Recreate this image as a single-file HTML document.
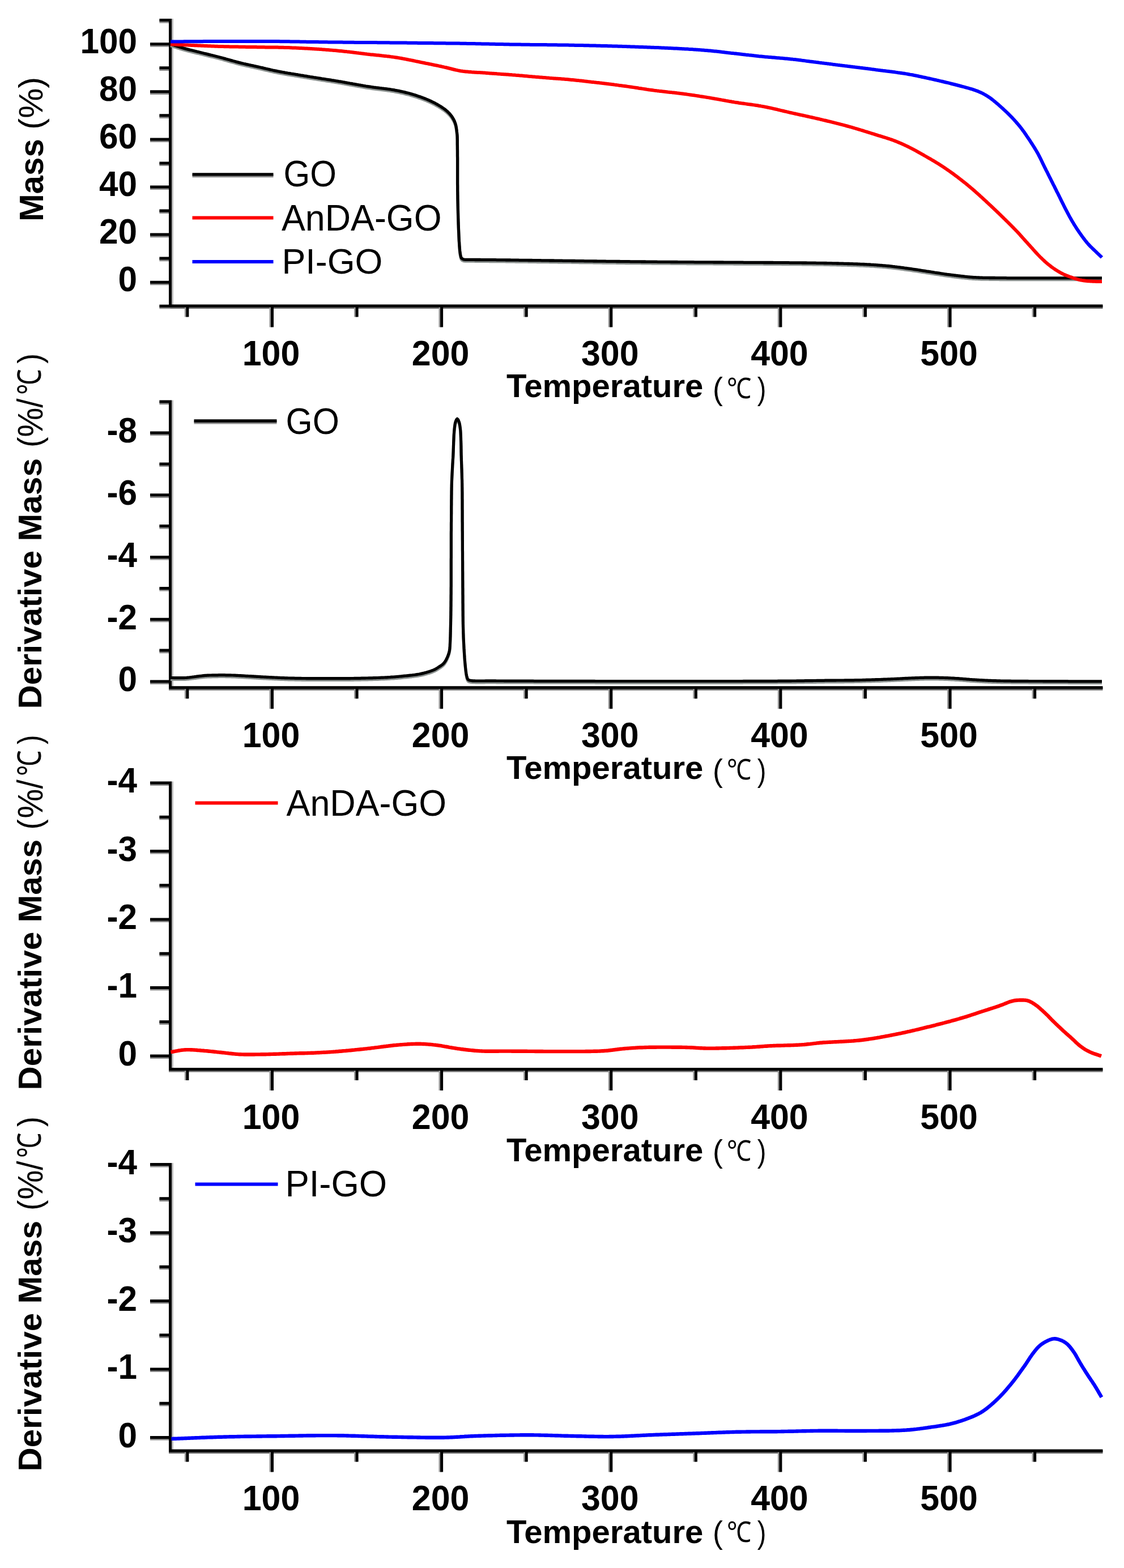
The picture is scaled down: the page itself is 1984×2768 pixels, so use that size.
<!DOCTYPE html>
<html><head><meta charset="utf-8"><title>TGA / DTG curves of GO, AnDA-GO and PI-GO</title>
<style>
html,body{margin:0;padding:0;background:#fff;overflow:hidden;}
svg{display:block;}
text{font-family:"Liberation Sans",Arial,sans-serif;}
</style></head><body>
<svg width="1984" height="2768" viewBox="0 0 1984 2768">
<rect width="1984" height="2768" fill="#ffffff"/>
<path d="M300.5,32.9 V542.4" transform="translate(2.8,0)" stroke="#b4b4b4" stroke-width="5.0" fill="none"/>
<path d="M298.0,539.9 H1946.5" transform="translate(0,2.6)" stroke="#6a6a6a" stroke-width="5.0" fill="none"/>
<path d="M265.0,498.2 H300.5 M265.0,414.1 H300.5 M265.0,330.0 H300.5 M265.0,245.9 H300.5 M265.0,161.8 H300.5 M265.0,77.7 H300.5 M281.4,540.2 H300.5 M281.4,456.1 H300.5 M281.4,372.0 H300.5 M281.4,287.9 H300.5 M281.4,203.8 H300.5 M281.4,119.8 H300.5 M281.4,35.6 H300.5" transform="translate(0,2.6)" stroke="#8a8a8a" stroke-width="5.0" fill="none"/>
<path d="M480.5,539.9 V577.4 M779.6,539.9 V577.4 M1078.8,539.9 V577.4 M1377.9,539.9 V577.4 M1677.1,539.9 V577.4 M330.9,539.9 V559.4 M630.1,539.9 V559.4 M929.2,539.9 V559.4 M1228.4,539.9 V559.4 M1527.5,539.9 V559.4 M1826.7,539.9 V559.4" transform="translate(-2.6,0)" stroke="#9a9a9a" stroke-width="5.0" fill="none"/>
<path d="M300.5,32.9 V542.4 M298.0,539.9 H1946.5 M265.0,498.2 H300.5 M265.0,414.1 H300.5 M265.0,330.0 H300.5 M265.0,245.9 H300.5 M265.0,161.8 H300.5 M265.0,77.7 H300.5 M281.4,540.2 H300.5 M281.4,456.1 H300.5 M281.4,372.0 H300.5 M281.4,287.9 H300.5 M281.4,203.8 H300.5 M281.4,119.8 H300.5 M281.4,35.6 H300.5 M480.5,539.9 V577.4 M779.6,539.9 V577.4 M1078.8,539.9 V577.4 M1377.9,539.9 V577.4 M1677.1,539.9 V577.4 M330.9,539.9 V559.4 M630.1,539.9 V559.4 M929.2,539.9 V559.4 M1228.4,539.9 V559.4 M1527.5,539.9 V559.4 M1826.7,539.9 V559.4" stroke="#000" stroke-width="5.0" fill="none" stroke-linecap="butt"/>
<text font-family="Liberation Sans, Arial, sans-serif" font-weight="bold" font-size="60" fill="#000" text-anchor="end" transform="translate(242.01,514.20) scale(1.0043,1.0500)">0</text>
<text font-family="Liberation Sans, Arial, sans-serif" font-weight="bold" font-size="60" fill="#000" text-anchor="end" transform="translate(242.01,430.10) scale(1.0043,1.0500)">20</text>
<text font-family="Liberation Sans, Arial, sans-serif" font-weight="bold" font-size="60" fill="#000" text-anchor="end" transform="translate(242.01,346.00) scale(1.0043,1.0500)">40</text>
<text font-family="Liberation Sans, Arial, sans-serif" font-weight="bold" font-size="60" fill="#000" text-anchor="end" transform="translate(242.01,261.90) scale(1.0043,1.0500)">60</text>
<text font-family="Liberation Sans, Arial, sans-serif" font-weight="bold" font-size="60" fill="#000" text-anchor="end" transform="translate(242.01,177.80) scale(1.0043,1.0500)">80</text>
<text font-family="Liberation Sans, Arial, sans-serif" font-weight="bold" font-size="60" fill="#000" text-anchor="end" transform="translate(242.01,93.70) scale(1.0043,1.0500)">100</text>
<text font-family="Liberation Sans, Arial, sans-serif" font-weight="bold" font-size="60" fill="#000" text-anchor="middle" transform="translate(478.49,645.02) scale(1.0149,1.0400)">100</text>
<text font-family="Liberation Sans, Arial, sans-serif" font-weight="bold" font-size="60" fill="#000" text-anchor="middle" transform="translate(777.64,645.02) scale(1.0149,1.0400)">200</text>
<text font-family="Liberation Sans, Arial, sans-serif" font-weight="bold" font-size="60" fill="#000" text-anchor="middle" transform="translate(1076.79,645.02) scale(1.0149,1.0400)">300</text>
<text font-family="Liberation Sans, Arial, sans-serif" font-weight="bold" font-size="60" fill="#000" text-anchor="middle" transform="translate(1375.94,645.02) scale(1.0149,1.0400)">400</text>
<text font-family="Liberation Sans, Arial, sans-serif" font-weight="bold" font-size="60" fill="#000" text-anchor="middle" transform="translate(1675.09,645.02) scale(1.0149,1.0400)">500</text>
<text font-family="Liberation Sans, Arial, sans-serif" font-weight="bold" font-size="58" fill="#000" transform="translate(894.00,701.08) scale(1.0012,0.9928)">Temperature</text>
<text font-family="Liberation Sans, Arial, sans-serif" font-weight="normal" font-size="55" fill="#000" transform="translate(1258.05,704.98) scale(0.9754,1.0005)">(</text>
<text font-family="Noto Sans CJK SC, sans-serif" font-weight="normal" font-size="48" fill="#000" transform="translate(1283.26,702.96) scale(0.9026,1.0497)">&#8451;</text>
<text font-family="Liberation Sans, Arial, sans-serif" font-weight="normal" font-size="55" fill="#000" transform="translate(1336.85,704.98) scale(0.8509,1.0005)">)</text>
<path d="M300.5,706.4 V1216.2" transform="translate(2.8,0)" stroke="#b4b4b4" stroke-width="5.0" fill="none"/>
<path d="M298.0,1213.7 H1946.5" transform="translate(0,2.6)" stroke="#6a6a6a" stroke-width="5.0" fill="none"/>
<path d="M265.0,764.0 H300.5 M265.0,873.8 H300.5 M265.0,983.5 H300.5 M265.0,1093.2 H300.5 M265.0,1203.0 H300.5 M281.4,709.1 H300.5 M281.4,818.9 H300.5 M281.4,928.6 H300.5 M281.4,1038.4 H300.5 M281.4,1148.1 H300.5" transform="translate(0,2.6)" stroke="#8a8a8a" stroke-width="5.0" fill="none"/>
<path d="M480.5,1213.7 V1251.2 M779.6,1213.7 V1251.2 M1078.8,1213.7 V1251.2 M1377.9,1213.7 V1251.2 M1677.1,1213.7 V1251.2 M330.9,1213.7 V1233.2 M630.1,1213.7 V1233.2 M929.2,1213.7 V1233.2 M1228.4,1213.7 V1233.2 M1527.5,1213.7 V1233.2 M1826.7,1213.7 V1233.2" transform="translate(-2.6,0)" stroke="#9a9a9a" stroke-width="5.0" fill="none"/>
<path d="M300.5,706.4 V1216.2 M298.0,1213.7 H1946.5 M265.0,764.0 H300.5 M265.0,873.8 H300.5 M265.0,983.5 H300.5 M265.0,1093.2 H300.5 M265.0,1203.0 H300.5 M281.4,709.1 H300.5 M281.4,818.9 H300.5 M281.4,928.6 H300.5 M281.4,1038.4 H300.5 M281.4,1148.1 H300.5 M480.5,1213.7 V1251.2 M779.6,1213.7 V1251.2 M1078.8,1213.7 V1251.2 M1377.9,1213.7 V1251.2 M1677.1,1213.7 V1251.2 M330.9,1213.7 V1233.2 M630.1,1213.7 V1233.2 M929.2,1213.7 V1233.2 M1228.4,1213.7 V1233.2 M1527.5,1213.7 V1233.2 M1826.7,1213.7 V1233.2" stroke="#000" stroke-width="5.0" fill="none" stroke-linecap="butt"/>
<text font-family="Liberation Sans, Arial, sans-serif" font-weight="bold" font-size="60" fill="#000" text-anchor="end" transform="translate(242.01,781.30) scale(1.0043,1.0500)">-8</text>
<text font-family="Liberation Sans, Arial, sans-serif" font-weight="bold" font-size="60" fill="#000" text-anchor="end" transform="translate(242.01,891.05) scale(1.0043,1.0500)">-6</text>
<text font-family="Liberation Sans, Arial, sans-serif" font-weight="bold" font-size="60" fill="#000" text-anchor="end" transform="translate(242.01,1000.80) scale(1.0043,1.0500)">-4</text>
<text font-family="Liberation Sans, Arial, sans-serif" font-weight="bold" font-size="60" fill="#000" text-anchor="end" transform="translate(242.01,1110.55) scale(1.0043,1.0500)">-2</text>
<text font-family="Liberation Sans, Arial, sans-serif" font-weight="bold" font-size="60" fill="#000" text-anchor="end" transform="translate(242.01,1220.30) scale(1.0043,1.0500)">0</text>
<text font-family="Liberation Sans, Arial, sans-serif" font-weight="bold" font-size="60" fill="#000" text-anchor="middle" transform="translate(478.49,1318.82) scale(1.0149,1.0400)">100</text>
<text font-family="Liberation Sans, Arial, sans-serif" font-weight="bold" font-size="60" fill="#000" text-anchor="middle" transform="translate(777.64,1318.82) scale(1.0149,1.0400)">200</text>
<text font-family="Liberation Sans, Arial, sans-serif" font-weight="bold" font-size="60" fill="#000" text-anchor="middle" transform="translate(1076.79,1318.82) scale(1.0149,1.0400)">300</text>
<text font-family="Liberation Sans, Arial, sans-serif" font-weight="bold" font-size="60" fill="#000" text-anchor="middle" transform="translate(1375.94,1318.82) scale(1.0149,1.0400)">400</text>
<text font-family="Liberation Sans, Arial, sans-serif" font-weight="bold" font-size="60" fill="#000" text-anchor="middle" transform="translate(1675.09,1318.82) scale(1.0149,1.0400)">500</text>
<text font-family="Liberation Sans, Arial, sans-serif" font-weight="bold" font-size="58" fill="#000" transform="translate(894.00,1375.07) scale(1.0012,0.9928)">Temperature</text>
<text font-family="Liberation Sans, Arial, sans-serif" font-weight="normal" font-size="55" fill="#000" transform="translate(1258.05,1378.98) scale(0.9754,1.0005)">(</text>
<text font-family="Noto Sans CJK SC, sans-serif" font-weight="normal" font-size="48" fill="#000" transform="translate(1283.26,1376.04) scale(0.9026,1.0497)">&#8451;</text>
<text font-family="Liberation Sans, Arial, sans-serif" font-weight="normal" font-size="55" fill="#000" transform="translate(1336.85,1378.98) scale(0.8509,1.0005)">)</text>
<path d="M300.5,1379.5 V1889.9" transform="translate(2.8,0)" stroke="#b4b4b4" stroke-width="5.0" fill="none"/>
<path d="M298.0,1887.4 H1946.5" transform="translate(0,2.6)" stroke="#6a6a6a" stroke-width="5.0" fill="none"/>
<path d="M265.0,1382.0 H300.5 M265.0,1502.5 H300.5 M265.0,1623.0 H300.5 M265.0,1743.5 H300.5 M265.0,1864.0 H300.5 M281.4,1442.2 H300.5 M281.4,1562.8 H300.5 M281.4,1683.2 H300.5 M281.4,1803.8 H300.5" transform="translate(0,2.6)" stroke="#8a8a8a" stroke-width="5.0" fill="none"/>
<path d="M480.5,1887.4 V1924.9 M779.6,1887.4 V1924.9 M1078.8,1887.4 V1924.9 M1377.9,1887.4 V1924.9 M1677.1,1887.4 V1924.9 M330.9,1887.4 V1906.9 M630.1,1887.4 V1906.9 M929.2,1887.4 V1906.9 M1228.4,1887.4 V1906.9 M1527.5,1887.4 V1906.9 M1826.7,1887.4 V1906.9" transform="translate(-2.6,0)" stroke="#9a9a9a" stroke-width="5.0" fill="none"/>
<path d="M300.5,1379.5 V1889.9 M298.0,1887.4 H1946.5 M265.0,1382.0 H300.5 M265.0,1502.5 H300.5 M265.0,1623.0 H300.5 M265.0,1743.5 H300.5 M265.0,1864.0 H300.5 M281.4,1442.2 H300.5 M281.4,1562.8 H300.5 M281.4,1683.2 H300.5 M281.4,1803.8 H300.5 M480.5,1887.4 V1924.9 M779.6,1887.4 V1924.9 M1078.8,1887.4 V1924.9 M1377.9,1887.4 V1924.9 M1677.1,1887.4 V1924.9 M330.9,1887.4 V1906.9 M630.1,1887.4 V1906.9 M929.2,1887.4 V1906.9 M1228.4,1887.4 V1906.9 M1527.5,1887.4 V1906.9 M1826.7,1887.4 V1906.9" stroke="#000" stroke-width="5.0" fill="none" stroke-linecap="butt"/>
<text font-family="Liberation Sans, Arial, sans-serif" font-weight="bold" font-size="60" fill="#000" text-anchor="end" transform="translate(242.01,1399.30) scale(1.0043,1.0500)">-4</text>
<text font-family="Liberation Sans, Arial, sans-serif" font-weight="bold" font-size="60" fill="#000" text-anchor="end" transform="translate(242.01,1519.80) scale(1.0043,1.0500)">-3</text>
<text font-family="Liberation Sans, Arial, sans-serif" font-weight="bold" font-size="60" fill="#000" text-anchor="end" transform="translate(242.01,1640.30) scale(1.0043,1.0500)">-2</text>
<text font-family="Liberation Sans, Arial, sans-serif" font-weight="bold" font-size="60" fill="#000" text-anchor="end" transform="translate(242.01,1760.80) scale(1.0043,1.0500)">-1</text>
<text font-family="Liberation Sans, Arial, sans-serif" font-weight="bold" font-size="60" fill="#000" text-anchor="end" transform="translate(242.01,1881.30) scale(1.0043,1.0500)">0</text>
<text font-family="Liberation Sans, Arial, sans-serif" font-weight="bold" font-size="60" fill="#000" text-anchor="middle" transform="translate(478.49,1992.52) scale(1.0149,1.0400)">100</text>
<text font-family="Liberation Sans, Arial, sans-serif" font-weight="bold" font-size="60" fill="#000" text-anchor="middle" transform="translate(777.64,1992.52) scale(1.0149,1.0400)">200</text>
<text font-family="Liberation Sans, Arial, sans-serif" font-weight="bold" font-size="60" fill="#000" text-anchor="middle" transform="translate(1076.79,1992.52) scale(1.0149,1.0400)">300</text>
<text font-family="Liberation Sans, Arial, sans-serif" font-weight="bold" font-size="60" fill="#000" text-anchor="middle" transform="translate(1375.94,1992.52) scale(1.0149,1.0400)">400</text>
<text font-family="Liberation Sans, Arial, sans-serif" font-weight="bold" font-size="60" fill="#000" text-anchor="middle" transform="translate(1675.09,1992.52) scale(1.0149,1.0400)">500</text>
<text font-family="Liberation Sans, Arial, sans-serif" font-weight="bold" font-size="58" fill="#000" transform="translate(894.00,2049.56) scale(1.0012,0.9928)">Temperature</text>
<text font-family="Liberation Sans, Arial, sans-serif" font-weight="normal" font-size="55" fill="#000" transform="translate(1258.05,2051.48) scale(0.9754,1.0005)">(</text>
<text font-family="Noto Sans CJK SC, sans-serif" font-weight="normal" font-size="48" fill="#000" transform="translate(1283.26,2049.45) scale(0.9026,1.0497)">&#8451;</text>
<text font-family="Liberation Sans, Arial, sans-serif" font-weight="normal" font-size="55" fill="#000" transform="translate(1336.85,2051.48) scale(0.8509,1.0005)">)</text>
<path d="M300.5,2053.0 V2563.5" transform="translate(2.8,0)" stroke="#b4b4b4" stroke-width="5.0" fill="none"/>
<path d="M298.0,2561.0 H1946.5" transform="translate(0,2.6)" stroke="#6a6a6a" stroke-width="5.0" fill="none"/>
<path d="M265.0,2055.5 H300.5 M265.0,2176.0 H300.5 M265.0,2296.5 H300.5 M265.0,2417.0 H300.5 M265.0,2537.5 H300.5 M281.4,2115.8 H300.5 M281.4,2236.2 H300.5 M281.4,2356.8 H300.5 M281.4,2477.2 H300.5" transform="translate(0,2.6)" stroke="#8a8a8a" stroke-width="5.0" fill="none"/>
<path d="M480.5,2561.0 V2598.5 M779.6,2561.0 V2598.5 M1078.8,2561.0 V2598.5 M1377.9,2561.0 V2598.5 M1677.1,2561.0 V2598.5 M330.9,2561.0 V2580.5 M630.1,2561.0 V2580.5 M929.2,2561.0 V2580.5 M1228.4,2561.0 V2580.5 M1527.5,2561.0 V2580.5 M1826.7,2561.0 V2580.5" transform="translate(-2.6,0)" stroke="#9a9a9a" stroke-width="5.0" fill="none"/>
<path d="M300.5,2053.0 V2563.5 M298.0,2561.0 H1946.5 M265.0,2055.5 H300.5 M265.0,2176.0 H300.5 M265.0,2296.5 H300.5 M265.0,2417.0 H300.5 M265.0,2537.5 H300.5 M281.4,2115.8 H300.5 M281.4,2236.2 H300.5 M281.4,2356.8 H300.5 M281.4,2477.2 H300.5 M480.5,2561.0 V2598.5 M779.6,2561.0 V2598.5 M1078.8,2561.0 V2598.5 M1377.9,2561.0 V2598.5 M1677.1,2561.0 V2598.5 M330.9,2561.0 V2580.5 M630.1,2561.0 V2580.5 M929.2,2561.0 V2580.5 M1228.4,2561.0 V2580.5 M1527.5,2561.0 V2580.5 M1826.7,2561.0 V2580.5" stroke="#000" stroke-width="5.0" fill="none" stroke-linecap="butt"/>
<text font-family="Liberation Sans, Arial, sans-serif" font-weight="bold" font-size="60" fill="#000" text-anchor="end" transform="translate(242.01,2072.80) scale(1.0043,1.0500)">-4</text>
<text font-family="Liberation Sans, Arial, sans-serif" font-weight="bold" font-size="60" fill="#000" text-anchor="end" transform="translate(242.01,2193.30) scale(1.0043,1.0500)">-3</text>
<text font-family="Liberation Sans, Arial, sans-serif" font-weight="bold" font-size="60" fill="#000" text-anchor="end" transform="translate(242.01,2313.80) scale(1.0043,1.0500)">-2</text>
<text font-family="Liberation Sans, Arial, sans-serif" font-weight="bold" font-size="60" fill="#000" text-anchor="end" transform="translate(242.01,2434.30) scale(1.0043,1.0500)">-1</text>
<text font-family="Liberation Sans, Arial, sans-serif" font-weight="bold" font-size="60" fill="#000" text-anchor="end" transform="translate(242.01,2554.80) scale(1.0043,1.0500)">0</text>
<text font-family="Liberation Sans, Arial, sans-serif" font-weight="bold" font-size="60" fill="#000" text-anchor="middle" transform="translate(478.49,2666.12) scale(1.0149,1.0400)">100</text>
<text font-family="Liberation Sans, Arial, sans-serif" font-weight="bold" font-size="60" fill="#000" text-anchor="middle" transform="translate(777.64,2666.12) scale(1.0149,1.0400)">200</text>
<text font-family="Liberation Sans, Arial, sans-serif" font-weight="bold" font-size="60" fill="#000" text-anchor="middle" transform="translate(1076.79,2666.12) scale(1.0149,1.0400)">300</text>
<text font-family="Liberation Sans, Arial, sans-serif" font-weight="bold" font-size="60" fill="#000" text-anchor="middle" transform="translate(1375.94,2666.12) scale(1.0149,1.0400)">400</text>
<text font-family="Liberation Sans, Arial, sans-serif" font-weight="bold" font-size="60" fill="#000" text-anchor="middle" transform="translate(1675.09,2666.12) scale(1.0149,1.0400)">500</text>
<text font-family="Liberation Sans, Arial, sans-serif" font-weight="bold" font-size="58" fill="#000" transform="translate(894.00,2723.57) scale(1.0012,0.9928)">Temperature</text>
<text font-family="Liberation Sans, Arial, sans-serif" font-weight="normal" font-size="55" fill="#000" transform="translate(1258.05,2724.49) scale(0.9754,1.0005)">(</text>
<text font-family="Noto Sans CJK SC, sans-serif" font-weight="normal" font-size="48" fill="#000" transform="translate(1283.26,2722.42) scale(0.9026,1.0497)">&#8451;</text>
<text font-family="Liberation Sans, Arial, sans-serif" font-weight="normal" font-size="55" fill="#000" transform="translate(1336.85,2724.49) scale(0.8509,1.0005)">)</text>
<text font-family="Liberation Sans, Arial, sans-serif" font-weight="bold" font-size="58" fill="#000" transform="translate(76.00,391.03) rotate(-90) scale(1.0058,1.0253)">Mass</text>
<text font-family="Liberation Sans, Arial, sans-serif" font-weight="normal" font-size="58" fill="#000" transform="translate(75.27,228.66) rotate(-90) scale(1.0295,1.0185)">(%)</text>
<text font-family="Liberation Sans, Arial, sans-serif" font-weight="bold" font-size="58" fill="#000" transform="translate(73.01,1251.54) rotate(-90) scale(1.0093,0.9861)">Derivative Mass</text>
<text font-family="Liberation Sans, Arial, sans-serif" font-weight="normal" font-size="58" fill="#000" transform="translate(72.82,789.88) rotate(-90) scale(0.9603,1.0149)">(</text>
<text font-family="Liberation Sans, Arial, sans-serif" font-weight="normal" font-size="58" fill="#000" transform="translate(74.96,771.52) rotate(-90) scale(1.0063,1.0811)">%/</text>
<text font-family="Noto Sans CJK SC, sans-serif" font-weight="normal" font-size="48" fill="#000" transform="translate(72.27,697.37) rotate(-90) scale(0.9490,1.2059)">&#8451;</text>
<text font-family="Liberation Sans, Arial, sans-serif" font-weight="normal" font-size="58" fill="#000" transform="translate(72.82,641.84) rotate(-90) scale(0.9212,1.0149)">)</text>
<text font-family="Liberation Sans, Arial, sans-serif" font-weight="bold" font-size="58" fill="#000" transform="translate(73.01,1924.55) rotate(-90) scale(1.0093,0.9861)">Derivative Mass</text>
<text font-family="Liberation Sans, Arial, sans-serif" font-weight="normal" font-size="58" fill="#000" transform="translate(72.82,1464.81) rotate(-90) scale(0.9603,1.0149)">(</text>
<text font-family="Liberation Sans, Arial, sans-serif" font-weight="normal" font-size="58" fill="#000" transform="translate(74.96,1444.51) rotate(-90) scale(1.0063,1.0811)">%/</text>
<text font-family="Noto Sans CJK SC, sans-serif" font-weight="normal" font-size="48" fill="#000" transform="translate(72.27,1370.40) rotate(-90) scale(0.9507,1.2059)">&#8451;</text>
<text font-family="Liberation Sans, Arial, sans-serif" font-weight="normal" font-size="58" fill="#000" transform="translate(72.82,1313.96) rotate(-90) scale(0.8554,1.0149)">)</text>
<text font-family="Liberation Sans, Arial, sans-serif" font-weight="bold" font-size="58" fill="#000" transform="translate(73.01,2597.54) rotate(-90) scale(1.0093,0.9861)">Derivative Mass</text>
<text font-family="Liberation Sans, Arial, sans-serif" font-weight="normal" font-size="58" fill="#000" transform="translate(72.82,2136.88) rotate(-90) scale(0.9603,1.0149)">(</text>
<text font-family="Liberation Sans, Arial, sans-serif" font-weight="normal" font-size="58" fill="#000" transform="translate(74.96,2117.53) rotate(-90) scale(1.0065,1.0811)">%/</text>
<text font-family="Noto Sans CJK SC, sans-serif" font-weight="normal" font-size="48" fill="#000" transform="translate(72.27,2044.24) rotate(-90) scale(0.9259,1.2059)">&#8451;</text>
<text font-family="Liberation Sans, Arial, sans-serif" font-weight="normal" font-size="58" fill="#000" transform="translate(72.82,1988.93) rotate(-90) scale(0.9267,1.0149)">)</text>
<path d="M339.5,310.6 H482.5" stroke="#8a8a8a" stroke-width="5.3" fill="none"/>
<path d="M339.5,307.8 H482.5" stroke="#000" stroke-width="5.3" fill="none"/>
<path d="M339.5,384.5 H482.5" stroke="#f00" stroke-width="6.0" fill="none"/>
<path d="M339.5,461.9 H482.5" stroke="#00f" stroke-width="6.0" fill="none"/>
<path d="M342.5,745.8 H488.5" stroke="#8a8a8a" stroke-width="5.3" fill="none"/>
<path d="M342.5,743.0 H488.5" stroke="#000" stroke-width="5.3" fill="none"/>
<path d="M344.5,1417.6 H490.5" stroke="#f00" stroke-width="6.0" fill="none"/>
<path d="M344.5,2090.5 H490.5" stroke="#00f" stroke-width="6.0" fill="none"/>
<text font-family="Liberation Sans, Arial, sans-serif" font-weight="normal" font-size="62" fill="#000" transform="translate(500.58,329.01) scale(0.9689,1.0436)">GO</text>
<text font-family="Liberation Sans, Arial, sans-serif" font-weight="normal" font-size="62" fill="#000" transform="translate(496.99,407.00) scale(1.0124,1.0481)">AnDA-GO</text>
<text font-family="Liberation Sans, Arial, sans-serif" font-weight="normal" font-size="62" fill="#000" transform="translate(497.44,483.49) scale(1.0132,1.0249)">PI-GO</text>
<text font-family="Liberation Sans, Arial, sans-serif" font-weight="normal" font-size="62" fill="#000" transform="translate(504.56,765.51) scale(0.9778,1.0481)">GO</text>
<text font-family="Liberation Sans, Arial, sans-serif" font-weight="normal" font-size="62" fill="#000" transform="translate(505.51,1440.00) scale(1.0131,1.0481)">AnDA-GO</text>
<text font-family="Liberation Sans, Arial, sans-serif" font-weight="normal" font-size="62" fill="#000" transform="translate(503.39,2111.51) scale(1.0240,1.0436)">PI-GO</text>
<path d="M301.0,77.8 L303.0,78.4 L305.0,79.1 L306.9,79.7 L308.9,80.4 L310.8,81.0 L312.8,81.7 L314.8,82.3 L316.8,83.0 L318.9,83.6 L321.0,84.3 L323.2,84.9 L325.0,85.4 L326.8,85.9 L328.6,86.4 L330.5,86.9 L332.5,87.4 L334.4,87.9 L336.4,88.3 L338.4,88.8 L340.4,89.3 L342.4,89.8 L344.4,90.3 L346.4,90.8 L348.4,91.3 L350.5,91.7 L352.5,92.2 L354.4,92.7 L356.4,93.2 L358.4,93.7 L360.3,94.2 L362.3,94.7 L364.2,95.1 L366.2,95.6 L368.1,96.1 L370.1,96.6 L372.0,97.1 L374.0,97.5 L375.9,98.0 L377.9,98.5 L379.8,99.0 L381.8,99.5 L383.7,100.0 L385.7,100.5 L387.6,101.0 L389.6,101.5 L391.6,102.0 L393.5,102.5 L395.5,103.1 L397.4,103.6 L399.4,104.2 L401.3,104.7 L403.3,105.3 L405.2,105.8 L407.2,106.4 L409.1,106.9 L411.1,107.5 L413.0,108.0 L415.0,108.5 L416.9,109.1 L418.9,109.6 L420.8,110.1 L422.8,110.6 L424.7,111.1 L426.7,111.6 L428.6,112.0 L430.6,112.5 L432.5,112.9 L434.5,113.4 L436.5,113.8 L438.4,114.2 L440.4,114.7 L442.3,115.1 L444.3,115.5 L446.2,115.9 L448.2,116.4 L450.1,116.8 L452.1,117.2 L454.0,117.7 L456.0,118.1 L458.0,118.5 L459.9,119.0 L461.9,119.4 L463.8,119.9 L465.8,120.4 L467.7,120.8 L469.7,121.3 L471.7,121.7 L473.6,122.2 L475.6,122.6 L477.5,123.1 L479.5,123.5 L481.5,124.0 L483.4,124.4 L485.4,124.8 L487.3,125.2 L489.3,125.6 L491.4,126.0 L493.4,126.4 L495.5,126.8 L497.5,127.2 L499.6,127.5 L501.7,127.9 L503.7,128.3 L505.8,128.6 L507.8,129.0 L509.9,129.3 L512.0,129.6 L514.1,130.0 L516.1,130.3 L518.3,130.7 L520.4,131.0 L522.5,131.4 L524.5,131.7 L526.6,132.1 L528.6,132.4 L530.7,132.8 L532.7,133.1 L534.8,133.4 L536.9,133.8 L538.9,134.1 L541.0,134.4 L543.1,134.8 L545.2,135.1 L547.3,135.5 L549.4,135.8 L551.5,136.1 L553.7,136.5 L555.8,136.8 L557.9,137.2 L560.0,137.5 L562.0,137.8 L563.9,138.1 L565.9,138.4 L567.8,138.8 L569.8,139.1 L571.7,139.4 L573.7,139.7 L575.6,140.0 L577.6,140.3 L579.6,140.6 L581.5,140.9 L583.5,141.2 L585.5,141.6 L587.5,141.9 L589.5,142.2 L591.5,142.5 L593.6,142.9 L595.6,143.2 L597.7,143.6 L599.8,143.9 L601.7,144.2 L603.6,144.5 L605.5,144.9 L607.5,145.2 L609.4,145.6 L611.4,145.9 L613.3,146.3 L615.3,146.6 L617.3,147.0 L619.3,147.3 L621.3,147.7 L623.3,148.1 L625.4,148.4 L627.4,148.8 L629.4,149.2 L631.4,149.5 L633.5,149.9 L635.5,150.2 L637.5,150.6 L639.5,150.9 L641.6,151.3 L643.6,151.6 L645.6,152.0 L647.6,152.3 L649.6,152.6 L651.6,152.9 L653.6,153.2 L655.6,153.5 L657.7,153.8 L659.7,154.1 L661.8,154.3 L663.9,154.6 L665.9,154.8 L668.0,155.1 L670.1,155.4 L672.1,155.6 L674.2,155.9 L676.2,156.1 L678.3,156.4 L680.3,156.6 L682.3,156.9 L684.3,157.2 L686.3,157.4 L688.3,157.7 L690.2,158.0 L692.1,158.3 L694.0,158.6 L695.9,158.9 L697.7,159.3 L699.5,159.6 L701.6,160.0 L703.7,160.4 L705.8,160.9 L707.8,161.3 L709.8,161.7 L711.8,162.2 L713.7,162.6 L715.6,163.1 L717.5,163.6 L719.4,164.0 L721.3,164.5 L723.2,165.0 L725.1,165.6 L727.0,166.1 L728.9,166.7 L730.8,167.3 L732.7,167.9 L734.7,168.5 L736.7,169.2 L738.7,169.9 L740.7,170.6 L742.7,171.3 L744.7,172.0 L746.7,172.8 L748.7,173.5 L750.7,174.3 L752.7,175.1 L754.7,175.9 L756.6,176.8 L758.5,177.6 L760.4,178.5 L762.3,179.4 L764.1,180.3 L765.9,181.2 L767.9,182.2 L769.8,183.3 L771.8,184.4 L773.7,185.5 L775.7,186.7 L777.6,187.8 L779.4,189.0 L781.2,190.2 L783.0,191.4 L784.7,192.6 L786.3,193.9 L787.9,195.2 L789.4,196.5 L790.8,197.8 L792.3,199.3 L793.8,200.9 L795.1,202.5 L796.4,204.1 L797.6,205.7 L798.7,207.4 L799.7,209.1 L800.7,210.8 L801.6,212.6 L802.4,214.4 L803.1,216.3 L803.8,218.1 L804.3,220.1 L804.8,222.0 L805.2,224.0 L805.5,226.0 L805.8,228.1 L806.1,230.2 L806.3,232.3 L806.6,234.4 L806.8,236.4 L807.0,238.3 L807.1,240.2 L807.2,242.2 L807.2,244.1 L807.3,246.1 L807.3,248.1 L807.3,250.3 L807.3,252.5 L807.3,254.9 L807.4,257.4 L807.4,260.0 L807.4,261.5 L807.4,263.0 L807.5,264.6 L807.5,266.3 L807.5,268.0 L807.5,269.8 L807.5,271.6 L807.5,273.5 L807.5,275.4 L807.6,277.3 L807.6,279.3 L807.6,281.3 L807.6,283.4 L807.6,285.4 L807.6,287.5 L807.6,289.7 L807.6,291.8 L807.6,294.0 L807.6,296.2 L807.6,298.3 L807.6,300.6 L807.6,302.8 L807.6,305.0 L807.6,307.2 L807.6,309.4 L807.6,311.7 L807.6,313.9 L807.6,316.1 L807.6,318.3 L807.6,320.5 L807.6,322.6 L807.6,324.8 L807.7,326.9 L807.7,329.0 L807.7,331.1 L807.7,333.1 L807.7,335.2 L807.7,337.1 L807.8,339.1 L807.8,341.0 L807.8,343.2 L807.9,345.4 L807.9,347.6 L807.9,349.8 L808.0,352.0 L808.0,354.2 L808.1,356.4 L808.1,358.5 L808.2,360.7 L808.2,362.9 L808.3,365.0 L808.3,367.2 L808.4,369.3 L808.4,371.4 L808.5,373.5 L808.5,375.6 L808.6,377.7 L808.6,379.7 L808.7,381.8 L808.7,383.8 L808.8,385.8 L808.9,387.8 L808.9,389.7 L809.0,391.7 L809.1,393.6 L809.1,395.5 L809.2,397.4 L809.3,399.2 L809.3,401.0 L809.4,402.8 L809.5,405.2 L809.6,407.5 L809.7,409.9 L809.8,412.2 L809.9,414.5 L810.0,416.8 L810.1,419.0 L810.2,421.2 L810.3,423.3 L810.4,425.4 L810.6,427.4 L810.7,429.4 L810.8,431.3 L810.9,433.1 L811.0,434.8 L811.2,436.5 L811.3,438.0 L811.5,440.6 L811.7,443.0 L812.0,445.1 L812.3,447.1 L812.6,449.0 L813.1,451.5 L813.6,453.7 L814.5,455.5 L816.0,456.9 L818.0,457.8 L819.5,458.1 L821.1,458.3 L823.0,458.3 L825.1,458.3 L827.4,458.3 L830.0,458.3 L831.3,458.3 L832.7,458.4 L834.2,458.4 L835.6,458.4 L837.2,458.4 L838.7,458.5 L840.4,458.5 L842.1,458.5 L843.8,458.5 L845.6,458.5 L847.5,458.5 L849.4,458.6 L851.3,458.6 L853.4,458.6 L855.5,458.6 L857.6,458.6 L859.8,458.6 L862.1,458.6 L864.5,458.7 L866.9,458.7 L869.4,458.7 L871.9,458.7 L874.5,458.7 L877.2,458.8 L880.0,458.8 L881.2,458.8 L882.4,458.8 L883.7,458.8 L885.0,458.9 L886.3,458.9 L887.6,458.9 L889.0,458.9 L890.3,458.9 L891.7,458.9 L893.1,459.0 L894.6,459.0 L896.0,459.0 L897.5,459.0 L899.0,459.0 L900.5,459.0 L902.1,459.1 L903.6,459.1 L905.2,459.1 L906.8,459.1 L908.4,459.1 L910.1,459.2 L911.7,459.2 L913.4,459.2 L915.1,459.2 L916.8,459.3 L918.5,459.3 L920.2,459.3 L922.0,459.3 L923.8,459.3 L925.5,459.4 L927.3,459.4 L929.2,459.4 L931.0,459.4 L932.9,459.5 L934.7,459.5 L936.6,459.5 L938.5,459.5 L940.4,459.6 L942.3,459.6 L944.3,459.6 L946.2,459.6 L948.2,459.7 L950.1,459.7 L952.1,459.7 L954.1,459.7 L956.1,459.8 L958.2,459.8 L960.2,459.8 L962.2,459.9 L964.3,459.9 L966.4,459.9 L968.4,459.9 L970.5,460.0 L972.6,460.0 L974.7,460.0 L976.9,460.0 L979.0,460.1 L981.1,460.1 L983.3,460.1 L985.4,460.2 L987.6,460.2 L989.7,460.2 L991.9,460.2 L994.1,460.3 L996.3,460.3 L998.5,460.3 L1000.7,460.4 L1002.9,460.4 L1005.1,460.4 L1007.3,460.4 L1009.5,460.5 L1011.8,460.5 L1014.0,460.5 L1016.3,460.6 L1018.5,460.6 L1020.7,460.6 L1023.0,460.7 L1025.2,460.7 L1027.5,460.7 L1029.8,460.7 L1032.0,460.8 L1034.3,460.8 L1036.6,460.8 L1038.8,460.9 L1041.1,460.9 L1043.4,460.9 L1045.7,460.9 L1047.9,461.0 L1050.2,461.0 L1052.5,461.0 L1054.8,461.1 L1057.0,461.1 L1059.3,461.1 L1061.6,461.1 L1063.9,461.2 L1066.1,461.2 L1068.4,461.2 L1070.7,461.3 L1072.9,461.3 L1075.2,461.3 L1077.5,461.3 L1079.7,461.4 L1082.0,461.4 L1084.2,461.4 L1086.5,461.4 L1088.7,461.5 L1091.0,461.5 L1093.2,461.5 L1095.4,461.6 L1097.7,461.6 L1099.9,461.6 L1102.1,461.6 L1104.3,461.7 L1106.5,461.7 L1108.7,461.7 L1110.9,461.7 L1113.1,461.8 L1115.3,461.8 L1117.5,461.8 L1119.6,461.8 L1121.8,461.9 L1123.9,461.9 L1126.1,461.9 L1128.2,461.9 L1130.3,461.9 L1132.4,462.0 L1134.5,462.0 L1136.6,462.0 L1138.7,462.0 L1140.8,462.1 L1142.9,462.1 L1144.9,462.1 L1146.9,462.1 L1149.0,462.1 L1151.0,462.2 L1153.0,462.2 L1155.0,462.2 L1157.0,462.2 L1159.1,462.2 L1161.1,462.3 L1163.2,462.3 L1165.3,462.3 L1167.3,462.3 L1169.4,462.3 L1171.5,462.3 L1173.6,462.4 L1175.8,462.4 L1177.9,462.4 L1180.0,462.4 L1182.2,462.4 L1184.3,462.5 L1186.5,462.5 L1188.6,462.5 L1190.8,462.5 L1193.0,462.5 L1195.2,462.5 L1197.3,462.6 L1199.5,462.6 L1201.7,462.6 L1203.9,462.6 L1206.1,462.6 L1208.4,462.6 L1210.6,462.6 L1212.8,462.7 L1215.0,462.7 L1217.3,462.7 L1219.5,462.7 L1221.7,462.7 L1224.0,462.7 L1226.2,462.8 L1228.5,462.8 L1230.7,462.8 L1233.0,462.8 L1235.2,462.8 L1237.5,462.8 L1239.7,462.8 L1242.0,462.9 L1244.2,462.9 L1246.5,462.9 L1248.8,462.9 L1251.0,462.9 L1253.3,462.9 L1255.5,462.9 L1257.8,462.9 L1260.0,463.0 L1262.3,463.0 L1264.5,463.0 L1266.8,463.0 L1269.0,463.0 L1271.3,463.0 L1273.5,463.0 L1275.8,463.0 L1278.0,463.1 L1280.2,463.1 L1282.5,463.1 L1284.7,463.1 L1286.9,463.1 L1289.1,463.1 L1291.3,463.1 L1293.6,463.1 L1295.8,463.2 L1298.0,463.2 L1300.1,463.2 L1302.3,463.2 L1304.5,463.2 L1306.7,463.2 L1308.9,463.2 L1311.0,463.2 L1313.2,463.3 L1315.3,463.3 L1317.5,463.3 L1319.6,463.3 L1321.7,463.3 L1323.8,463.3 L1325.9,463.3 L1328.0,463.3 L1330.1,463.3 L1332.2,463.4 L1334.3,463.4 L1336.3,463.4 L1338.4,463.4 L1340.4,463.4 L1342.4,463.4 L1344.5,463.4 L1346.5,463.4 L1348.5,463.5 L1350.5,463.5 L1352.4,463.5 L1354.4,463.5 L1356.3,463.5 L1358.3,463.5 L1360.2,463.5 L1362.1,463.5 L1364.0,463.5 L1365.9,463.6 L1367.7,463.6 L1369.6,463.6 L1371.4,463.6 L1373.3,463.6 L1375.1,463.6 L1376.9,463.6 L1378.7,463.6 L1380.4,463.7 L1382.2,463.7 L1383.9,463.7 L1385.6,463.7 L1387.3,463.7 L1389.0,463.7 L1390.7,463.7 L1392.3,463.7 L1393.9,463.8 L1395.6,463.8 L1397.2,463.8 L1398.7,463.8 L1400.3,463.8 L1401.8,463.8 L1403.3,463.8 L1404.8,463.8 L1406.3,463.9 L1407.8,463.9 L1409.2,463.9 L1410.6,463.9 L1412.0,463.9 L1413.4,463.9 L1414.8,463.9 L1416.1,464.0 L1417.4,464.0 L1418.7,464.0 L1420.0,464.0 L1422.8,464.0 L1425.4,464.1 L1428.0,464.1 L1430.4,464.1 L1432.8,464.1 L1435.1,464.2 L1437.3,464.2 L1439.4,464.2 L1441.5,464.3 L1443.6,464.3 L1445.5,464.3 L1447.5,464.3 L1449.3,464.4 L1451.2,464.4 L1453.0,464.4 L1454.9,464.5 L1456.7,464.5 L1458.5,464.5 L1460.3,464.6 L1462.1,464.6 L1463.9,464.6 L1465.7,464.7 L1467.6,464.7 L1469.5,464.8 L1471.4,464.8 L1473.4,464.8 L1475.4,464.9 L1477.5,465.0 L1479.5,465.0 L1481.6,465.1 L1483.7,465.1 L1485.8,465.2 L1487.9,465.2 L1490.0,465.3 L1492.1,465.3 L1494.3,465.4 L1496.4,465.5 L1498.5,465.5 L1500.6,465.6 L1502.7,465.7 L1504.8,465.7 L1506.9,465.8 L1509.0,465.9 L1511.0,465.9 L1513.1,466.0 L1515.1,466.1 L1517.2,466.2 L1519.2,466.3 L1521.1,466.3 L1523.1,466.4 L1525.0,466.5 L1527.0,466.6 L1528.8,466.7 L1530.7,466.8 L1532.9,466.9 L1535.1,467.0 L1537.3,467.2 L1539.4,467.3 L1541.5,467.4 L1543.6,467.6 L1545.6,467.7 L1547.6,467.8 L1549.6,468.0 L1551.6,468.1 L1553.6,468.3 L1555.6,468.4 L1557.6,468.6 L1559.5,468.8 L1561.5,468.9 L1563.5,469.1 L1565.6,469.3 L1567.6,469.5 L1569.7,469.7 L1571.7,469.9 L1573.8,470.1 L1575.8,470.4 L1577.9,470.6 L1579.9,470.9 L1582.0,471.1 L1584.0,471.4 L1586.1,471.6 L1588.1,471.9 L1590.2,472.2 L1592.2,472.4 L1594.3,472.7 L1596.3,473.0 L1598.4,473.3 L1600.4,473.5 L1602.5,473.8 L1604.5,474.1 L1606.6,474.4 L1608.6,474.7 L1610.7,475.0 L1612.7,475.3 L1614.8,475.6 L1616.8,475.9 L1618.9,476.2 L1620.9,476.5 L1623.0,476.8 L1625.0,477.2 L1627.1,477.5 L1629.1,477.8 L1631.2,478.1 L1633.2,478.4 L1635.3,478.8 L1637.3,479.1 L1639.3,479.4 L1641.4,479.7 L1643.4,480.0 L1645.5,480.3 L1647.5,480.6 L1649.6,481.0 L1651.6,481.3 L1653.6,481.6 L1655.6,481.9 L1657.7,482.2 L1659.7,482.5 L1661.7,482.9 L1663.8,483.2 L1665.8,483.5 L1667.9,483.8 L1669.9,484.1 L1672.0,484.4 L1674.1,484.6 L1676.2,484.9 L1678.3,485.2 L1680.3,485.5 L1682.4,485.7 L1684.4,486.0 L1686.5,486.2 L1688.6,486.5 L1690.6,486.7 L1692.7,487.0 L1694.8,487.2 L1696.9,487.5 L1699.0,487.7 L1701.1,487.9 L1703.2,488.2 L1705.4,488.4 L1707.5,488.6 L1709.6,488.8 L1711.7,489.0 L1713.8,489.1 L1715.8,489.3 L1717.9,489.5 L1720.0,489.6 L1722.0,489.7 L1724.0,489.8 L1725.9,489.9 L1727.8,490.0 L1729.7,490.1 L1731.5,490.2 L1733.4,490.2 L1735.3,490.3 L1737.2,490.3 L1739.0,490.3 L1741.0,490.4 L1742.9,490.4 L1744.8,490.4 L1746.8,490.5 L1748.9,490.5 L1751.0,490.5 L1753.1,490.5 L1755.4,490.5 L1757.6,490.6 L1760.0,490.6 L1761.6,490.6 L1763.3,490.6 L1764.9,490.7 L1766.7,490.7 L1768.4,490.7 L1770.2,490.7 L1772.0,490.7 L1773.8,490.7 L1775.7,490.7 L1777.5,490.8 L1779.4,490.8 L1781.4,490.8 L1783.3,490.8 L1785.3,490.8 L1787.2,490.8 L1789.2,490.8 L1791.3,490.8 L1793.3,490.8 L1795.3,490.8 L1797.4,490.8 L1799.5,490.8 L1801.6,490.8 L1803.6,490.8 L1805.7,490.8 L1807.9,490.8 L1810.0,490.8 L1812.1,490.8 L1814.2,490.8 L1816.4,490.8 L1818.5,490.8 L1820.6,490.8 L1822.8,490.8 L1824.9,490.8 L1827.0,490.8 L1829.1,490.8 L1831.3,490.8 L1833.4,490.8 L1835.5,490.8 L1837.6,490.8 L1839.7,490.8 L1841.8,490.8 L1843.9,490.8 L1845.9,490.8 L1848.0,490.8 L1850.0,490.8 L1852.0,490.8 L1854.0,490.8 L1856.0,490.8 L1858.0,490.8 L1860.0,490.8 L1862.0,490.8 L1864.0,490.8 L1866.0,490.8 L1868.0,490.8 L1870.0,490.8 L1872.1,490.8 L1874.1,490.8 L1876.1,490.8 L1878.1,490.8 L1880.1,490.8 L1882.2,490.8 L1884.2,490.8 L1886.2,490.8 L1888.2,490.8 L1890.2,490.8 L1892.3,490.8 L1894.3,490.8 L1896.3,490.8 L1898.4,490.8 L1900.4,490.8 L1902.4,490.8 L1904.4,490.8 L1906.5,490.8 L1908.5,490.8 L1910.5,490.8 L1912.6,490.8 L1914.6,490.8 L1916.6,490.8 L1918.7,490.8 L1920.7,490.8 L1922.7,490.8 L1924.7,490.8 L1926.8,490.8 L1928.8,490.8 L1930.8,490.8 L1932.9,490.8 L1934.9,490.8 L1936.9,490.8 L1938.9,490.8 L1941.0,490.8 L1943.0,490.8 L1945.0,490.8" transform="translate(0,2.8)" stroke="#8c9290" stroke-width="5.3" fill="none" stroke-linejoin="round"/>
<path d="M301.0,77.8 L303.0,78.4 L305.0,79.1 L306.9,79.7 L308.9,80.4 L310.8,81.0 L312.8,81.7 L314.8,82.3 L316.8,83.0 L318.9,83.6 L321.0,84.3 L323.2,84.9 L325.0,85.4 L326.8,85.9 L328.6,86.4 L330.5,86.9 L332.5,87.4 L334.4,87.9 L336.4,88.3 L338.4,88.8 L340.4,89.3 L342.4,89.8 L344.4,90.3 L346.4,90.8 L348.4,91.3 L350.5,91.7 L352.5,92.2 L354.4,92.7 L356.4,93.2 L358.4,93.7 L360.3,94.2 L362.3,94.7 L364.2,95.1 L366.2,95.6 L368.1,96.1 L370.1,96.6 L372.0,97.1 L374.0,97.5 L375.9,98.0 L377.9,98.5 L379.8,99.0 L381.8,99.5 L383.7,100.0 L385.7,100.5 L387.6,101.0 L389.6,101.5 L391.6,102.0 L393.5,102.5 L395.5,103.1 L397.4,103.6 L399.4,104.2 L401.3,104.7 L403.3,105.3 L405.2,105.8 L407.2,106.4 L409.1,106.9 L411.1,107.5 L413.0,108.0 L415.0,108.5 L416.9,109.1 L418.9,109.6 L420.8,110.1 L422.8,110.6 L424.7,111.1 L426.7,111.6 L428.6,112.0 L430.6,112.5 L432.5,112.9 L434.5,113.4 L436.5,113.8 L438.4,114.2 L440.4,114.7 L442.3,115.1 L444.3,115.5 L446.2,115.9 L448.2,116.4 L450.1,116.8 L452.1,117.2 L454.0,117.7 L456.0,118.1 L458.0,118.5 L459.9,119.0 L461.9,119.4 L463.8,119.9 L465.8,120.4 L467.7,120.8 L469.7,121.3 L471.7,121.7 L473.6,122.2 L475.6,122.6 L477.5,123.1 L479.5,123.5 L481.5,124.0 L483.4,124.4 L485.4,124.8 L487.3,125.2 L489.3,125.6 L491.4,126.0 L493.4,126.4 L495.5,126.8 L497.5,127.2 L499.6,127.5 L501.7,127.9 L503.7,128.3 L505.8,128.6 L507.8,129.0 L509.9,129.3 L512.0,129.6 L514.1,130.0 L516.1,130.3 L518.3,130.7 L520.4,131.0 L522.5,131.4 L524.5,131.7 L526.6,132.1 L528.6,132.4 L530.7,132.8 L532.7,133.1 L534.8,133.4 L536.9,133.8 L538.9,134.1 L541.0,134.4 L543.1,134.8 L545.2,135.1 L547.3,135.5 L549.4,135.8 L551.5,136.1 L553.7,136.5 L555.8,136.8 L557.9,137.2 L560.0,137.5 L562.0,137.8 L563.9,138.1 L565.9,138.4 L567.8,138.8 L569.8,139.1 L571.7,139.4 L573.7,139.7 L575.6,140.0 L577.6,140.3 L579.6,140.6 L581.5,140.9 L583.5,141.2 L585.5,141.6 L587.5,141.9 L589.5,142.2 L591.5,142.5 L593.6,142.9 L595.6,143.2 L597.7,143.6 L599.8,143.9 L601.7,144.2 L603.6,144.5 L605.5,144.9 L607.5,145.2 L609.4,145.6 L611.4,145.9 L613.3,146.3 L615.3,146.6 L617.3,147.0 L619.3,147.3 L621.3,147.7 L623.3,148.1 L625.4,148.4 L627.4,148.8 L629.4,149.2 L631.4,149.5 L633.5,149.9 L635.5,150.2 L637.5,150.6 L639.5,150.9 L641.6,151.3 L643.6,151.6 L645.6,152.0 L647.6,152.3 L649.6,152.6 L651.6,152.9 L653.6,153.2 L655.6,153.5 L657.7,153.8 L659.7,154.1 L661.8,154.3 L663.9,154.6 L665.9,154.8 L668.0,155.1 L670.1,155.4 L672.1,155.6 L674.2,155.9 L676.2,156.1 L678.3,156.4 L680.3,156.6 L682.3,156.9 L684.3,157.2 L686.3,157.4 L688.3,157.7 L690.2,158.0 L692.1,158.3 L694.0,158.6 L695.9,158.9 L697.7,159.3 L699.5,159.6 L701.6,160.0 L703.7,160.4 L705.8,160.9 L707.8,161.3 L709.8,161.7 L711.8,162.2 L713.7,162.6 L715.6,163.1 L717.5,163.6 L719.4,164.0 L721.3,164.5 L723.2,165.0 L725.1,165.6 L727.0,166.1 L728.9,166.7 L730.8,167.3 L732.7,167.9 L734.7,168.5 L736.7,169.2 L738.7,169.9 L740.7,170.6 L742.7,171.3 L744.7,172.0 L746.7,172.8 L748.7,173.5 L750.7,174.3 L752.7,175.1 L754.7,175.9 L756.6,176.8 L758.5,177.6 L760.4,178.5 L762.3,179.4 L764.1,180.3 L765.9,181.2 L767.9,182.2 L769.8,183.3 L771.8,184.4 L773.7,185.5 L775.7,186.7 L777.6,187.8 L779.4,189.0 L781.2,190.2 L783.0,191.4 L784.7,192.6 L786.3,193.9 L787.9,195.2 L789.4,196.5 L790.8,197.8 L792.3,199.3 L793.8,200.9 L795.1,202.5 L796.4,204.1 L797.6,205.7 L798.7,207.4 L799.7,209.1 L800.7,210.8 L801.6,212.6 L802.4,214.4 L803.1,216.3 L803.8,218.1 L804.3,220.1 L804.8,222.0 L805.2,224.0 L805.5,226.0 L805.8,228.1 L806.1,230.2 L806.3,232.3 L806.6,234.4 L806.8,236.4 L807.0,238.3 L807.1,240.2 L807.2,242.2 L807.2,244.1 L807.3,246.1 L807.3,248.1 L807.3,250.3 L807.3,252.5 L807.3,254.9 L807.4,257.4 L807.4,260.0 L807.4,261.5 L807.4,263.0 L807.5,264.6 L807.5,266.3 L807.5,268.0 L807.5,269.8 L807.5,271.6 L807.5,273.5 L807.5,275.4 L807.6,277.3 L807.6,279.3 L807.6,281.3 L807.6,283.4 L807.6,285.4 L807.6,287.5 L807.6,289.7 L807.6,291.8 L807.6,294.0 L807.6,296.2 L807.6,298.3 L807.6,300.6 L807.6,302.8 L807.6,305.0 L807.6,307.2 L807.6,309.4 L807.6,311.7 L807.6,313.9 L807.6,316.1 L807.6,318.3 L807.6,320.5 L807.6,322.6 L807.6,324.8 L807.7,326.9 L807.7,329.0 L807.7,331.1 L807.7,333.1 L807.7,335.2 L807.7,337.1 L807.8,339.1 L807.8,341.0 L807.8,343.2 L807.9,345.4 L807.9,347.6 L807.9,349.8 L808.0,352.0 L808.0,354.2 L808.1,356.4 L808.1,358.5 L808.2,360.7 L808.2,362.9 L808.3,365.0 L808.3,367.2 L808.4,369.3 L808.4,371.4 L808.5,373.5 L808.5,375.6 L808.6,377.7 L808.6,379.7 L808.7,381.8 L808.7,383.8 L808.8,385.8 L808.9,387.8 L808.9,389.7 L809.0,391.7 L809.1,393.6 L809.1,395.5 L809.2,397.4 L809.3,399.2 L809.3,401.0 L809.4,402.8 L809.5,405.2 L809.6,407.5 L809.7,409.9 L809.8,412.2 L809.9,414.5 L810.0,416.8 L810.1,419.0 L810.2,421.2 L810.3,423.3 L810.4,425.4 L810.6,427.4 L810.7,429.4 L810.8,431.3 L810.9,433.1 L811.0,434.8 L811.2,436.5 L811.3,438.0 L811.5,440.6 L811.7,443.0 L812.0,445.1 L812.3,447.1 L812.6,449.0 L813.1,451.5 L813.6,453.7 L814.5,455.5 L816.0,456.9 L818.0,457.8 L819.5,458.1 L821.1,458.3 L823.0,458.3 L825.1,458.3 L827.4,458.3 L830.0,458.3 L831.3,458.3 L832.7,458.4 L834.2,458.4 L835.6,458.4 L837.2,458.4 L838.7,458.5 L840.4,458.5 L842.1,458.5 L843.8,458.5 L845.6,458.5 L847.5,458.5 L849.4,458.6 L851.3,458.6 L853.4,458.6 L855.5,458.6 L857.6,458.6 L859.8,458.6 L862.1,458.6 L864.5,458.7 L866.9,458.7 L869.4,458.7 L871.9,458.7 L874.5,458.7 L877.2,458.8 L880.0,458.8 L881.2,458.8 L882.4,458.8 L883.7,458.8 L885.0,458.9 L886.3,458.9 L887.6,458.9 L889.0,458.9 L890.3,458.9 L891.7,458.9 L893.1,459.0 L894.6,459.0 L896.0,459.0 L897.5,459.0 L899.0,459.0 L900.5,459.0 L902.1,459.1 L903.6,459.1 L905.2,459.1 L906.8,459.1 L908.4,459.1 L910.1,459.2 L911.7,459.2 L913.4,459.2 L915.1,459.2 L916.8,459.3 L918.5,459.3 L920.2,459.3 L922.0,459.3 L923.8,459.3 L925.5,459.4 L927.3,459.4 L929.2,459.4 L931.0,459.4 L932.9,459.5 L934.7,459.5 L936.6,459.5 L938.5,459.5 L940.4,459.6 L942.3,459.6 L944.3,459.6 L946.2,459.6 L948.2,459.7 L950.1,459.7 L952.1,459.7 L954.1,459.7 L956.1,459.8 L958.2,459.8 L960.2,459.8 L962.2,459.9 L964.3,459.9 L966.4,459.9 L968.4,459.9 L970.5,460.0 L972.6,460.0 L974.7,460.0 L976.9,460.0 L979.0,460.1 L981.1,460.1 L983.3,460.1 L985.4,460.2 L987.6,460.2 L989.7,460.2 L991.9,460.2 L994.1,460.3 L996.3,460.3 L998.5,460.3 L1000.7,460.4 L1002.9,460.4 L1005.1,460.4 L1007.3,460.4 L1009.5,460.5 L1011.8,460.5 L1014.0,460.5 L1016.3,460.6 L1018.5,460.6 L1020.7,460.6 L1023.0,460.7 L1025.2,460.7 L1027.5,460.7 L1029.8,460.7 L1032.0,460.8 L1034.3,460.8 L1036.6,460.8 L1038.8,460.9 L1041.1,460.9 L1043.4,460.9 L1045.7,460.9 L1047.9,461.0 L1050.2,461.0 L1052.5,461.0 L1054.8,461.1 L1057.0,461.1 L1059.3,461.1 L1061.6,461.1 L1063.9,461.2 L1066.1,461.2 L1068.4,461.2 L1070.7,461.3 L1072.9,461.3 L1075.2,461.3 L1077.5,461.3 L1079.7,461.4 L1082.0,461.4 L1084.2,461.4 L1086.5,461.4 L1088.7,461.5 L1091.0,461.5 L1093.2,461.5 L1095.4,461.6 L1097.7,461.6 L1099.9,461.6 L1102.1,461.6 L1104.3,461.7 L1106.5,461.7 L1108.7,461.7 L1110.9,461.7 L1113.1,461.8 L1115.3,461.8 L1117.5,461.8 L1119.6,461.8 L1121.8,461.9 L1123.9,461.9 L1126.1,461.9 L1128.2,461.9 L1130.3,461.9 L1132.4,462.0 L1134.5,462.0 L1136.6,462.0 L1138.7,462.0 L1140.8,462.1 L1142.9,462.1 L1144.9,462.1 L1146.9,462.1 L1149.0,462.1 L1151.0,462.2 L1153.0,462.2 L1155.0,462.2 L1157.0,462.2 L1159.1,462.2 L1161.1,462.3 L1163.2,462.3 L1165.3,462.3 L1167.3,462.3 L1169.4,462.3 L1171.5,462.3 L1173.6,462.4 L1175.8,462.4 L1177.9,462.4 L1180.0,462.4 L1182.2,462.4 L1184.3,462.5 L1186.5,462.5 L1188.6,462.5 L1190.8,462.5 L1193.0,462.5 L1195.2,462.5 L1197.3,462.6 L1199.5,462.6 L1201.7,462.6 L1203.9,462.6 L1206.1,462.6 L1208.4,462.6 L1210.6,462.6 L1212.8,462.7 L1215.0,462.7 L1217.3,462.7 L1219.5,462.7 L1221.7,462.7 L1224.0,462.7 L1226.2,462.8 L1228.5,462.8 L1230.7,462.8 L1233.0,462.8 L1235.2,462.8 L1237.5,462.8 L1239.7,462.8 L1242.0,462.9 L1244.2,462.9 L1246.5,462.9 L1248.8,462.9 L1251.0,462.9 L1253.3,462.9 L1255.5,462.9 L1257.8,462.9 L1260.0,463.0 L1262.3,463.0 L1264.5,463.0 L1266.8,463.0 L1269.0,463.0 L1271.3,463.0 L1273.5,463.0 L1275.8,463.0 L1278.0,463.1 L1280.2,463.1 L1282.5,463.1 L1284.7,463.1 L1286.9,463.1 L1289.1,463.1 L1291.3,463.1 L1293.6,463.1 L1295.8,463.2 L1298.0,463.2 L1300.1,463.2 L1302.3,463.2 L1304.5,463.2 L1306.7,463.2 L1308.9,463.2 L1311.0,463.2 L1313.2,463.3 L1315.3,463.3 L1317.5,463.3 L1319.6,463.3 L1321.7,463.3 L1323.8,463.3 L1325.9,463.3 L1328.0,463.3 L1330.1,463.3 L1332.2,463.4 L1334.3,463.4 L1336.3,463.4 L1338.4,463.4 L1340.4,463.4 L1342.4,463.4 L1344.5,463.4 L1346.5,463.4 L1348.5,463.5 L1350.5,463.5 L1352.4,463.5 L1354.4,463.5 L1356.3,463.5 L1358.3,463.5 L1360.2,463.5 L1362.1,463.5 L1364.0,463.5 L1365.9,463.6 L1367.7,463.6 L1369.6,463.6 L1371.4,463.6 L1373.3,463.6 L1375.1,463.6 L1376.9,463.6 L1378.7,463.6 L1380.4,463.7 L1382.2,463.7 L1383.9,463.7 L1385.6,463.7 L1387.3,463.7 L1389.0,463.7 L1390.7,463.7 L1392.3,463.7 L1393.9,463.8 L1395.6,463.8 L1397.2,463.8 L1398.7,463.8 L1400.3,463.8 L1401.8,463.8 L1403.3,463.8 L1404.8,463.8 L1406.3,463.9 L1407.8,463.9 L1409.2,463.9 L1410.6,463.9 L1412.0,463.9 L1413.4,463.9 L1414.8,463.9 L1416.1,464.0 L1417.4,464.0 L1418.7,464.0 L1420.0,464.0 L1422.8,464.0 L1425.4,464.1 L1428.0,464.1 L1430.4,464.1 L1432.8,464.1 L1435.1,464.2 L1437.3,464.2 L1439.4,464.2 L1441.5,464.3 L1443.6,464.3 L1445.5,464.3 L1447.5,464.3 L1449.3,464.4 L1451.2,464.4 L1453.0,464.4 L1454.9,464.5 L1456.7,464.5 L1458.5,464.5 L1460.3,464.6 L1462.1,464.6 L1463.9,464.6 L1465.7,464.7 L1467.6,464.7 L1469.5,464.8 L1471.4,464.8 L1473.4,464.8 L1475.4,464.9 L1477.5,465.0 L1479.5,465.0 L1481.6,465.1 L1483.7,465.1 L1485.8,465.2 L1487.9,465.2 L1490.0,465.3 L1492.1,465.3 L1494.3,465.4 L1496.4,465.5 L1498.5,465.5 L1500.6,465.6 L1502.7,465.7 L1504.8,465.7 L1506.9,465.8 L1509.0,465.9 L1511.0,465.9 L1513.1,466.0 L1515.1,466.1 L1517.2,466.2 L1519.2,466.3 L1521.1,466.3 L1523.1,466.4 L1525.0,466.5 L1527.0,466.6 L1528.8,466.7 L1530.7,466.8 L1532.9,466.9 L1535.1,467.0 L1537.3,467.2 L1539.4,467.3 L1541.5,467.4 L1543.6,467.6 L1545.6,467.7 L1547.6,467.8 L1549.6,468.0 L1551.6,468.1 L1553.6,468.3 L1555.6,468.4 L1557.6,468.6 L1559.5,468.8 L1561.5,468.9 L1563.5,469.1 L1565.6,469.3 L1567.6,469.5 L1569.7,469.7 L1571.7,469.9 L1573.8,470.1 L1575.8,470.4 L1577.9,470.6 L1579.9,470.9 L1582.0,471.1 L1584.0,471.4 L1586.1,471.6 L1588.1,471.9 L1590.2,472.2 L1592.2,472.4 L1594.3,472.7 L1596.3,473.0 L1598.4,473.3 L1600.4,473.5 L1602.5,473.8 L1604.5,474.1 L1606.6,474.4 L1608.6,474.7 L1610.7,475.0 L1612.7,475.3 L1614.8,475.6 L1616.8,475.9 L1618.9,476.2 L1620.9,476.5 L1623.0,476.8 L1625.0,477.2 L1627.1,477.5 L1629.1,477.8 L1631.2,478.1 L1633.2,478.4 L1635.3,478.8 L1637.3,479.1 L1639.3,479.4 L1641.4,479.7 L1643.4,480.0 L1645.5,480.3 L1647.5,480.6 L1649.6,481.0 L1651.6,481.3 L1653.6,481.6 L1655.6,481.9 L1657.7,482.2 L1659.7,482.5 L1661.7,482.9 L1663.8,483.2 L1665.8,483.5 L1667.9,483.8 L1669.9,484.1 L1672.0,484.4 L1674.1,484.6 L1676.2,484.9 L1678.3,485.2 L1680.3,485.5 L1682.4,485.7 L1684.4,486.0 L1686.5,486.2 L1688.6,486.5 L1690.6,486.7 L1692.7,487.0 L1694.8,487.2 L1696.9,487.5 L1699.0,487.7 L1701.1,487.9 L1703.2,488.2 L1705.4,488.4 L1707.5,488.6 L1709.6,488.8 L1711.7,489.0 L1713.8,489.1 L1715.8,489.3 L1717.9,489.5 L1720.0,489.6 L1722.0,489.7 L1724.0,489.8 L1725.9,489.9 L1727.8,490.0 L1729.7,490.1 L1731.5,490.2 L1733.4,490.2 L1735.3,490.3 L1737.2,490.3 L1739.0,490.3 L1741.0,490.4 L1742.9,490.4 L1744.8,490.4 L1746.8,490.5 L1748.9,490.5 L1751.0,490.5 L1753.1,490.5 L1755.4,490.5 L1757.6,490.6 L1760.0,490.6 L1761.6,490.6 L1763.3,490.6 L1764.9,490.7 L1766.7,490.7 L1768.4,490.7 L1770.2,490.7 L1772.0,490.7 L1773.8,490.7 L1775.7,490.7 L1777.5,490.8 L1779.4,490.8 L1781.4,490.8 L1783.3,490.8 L1785.3,490.8 L1787.2,490.8 L1789.2,490.8 L1791.3,490.8 L1793.3,490.8 L1795.3,490.8 L1797.4,490.8 L1799.5,490.8 L1801.6,490.8 L1803.6,490.8 L1805.7,490.8 L1807.9,490.8 L1810.0,490.8 L1812.1,490.8 L1814.2,490.8 L1816.4,490.8 L1818.5,490.8 L1820.6,490.8 L1822.8,490.8 L1824.9,490.8 L1827.0,490.8 L1829.1,490.8 L1831.3,490.8 L1833.4,490.8 L1835.5,490.8 L1837.6,490.8 L1839.7,490.8 L1841.8,490.8 L1843.9,490.8 L1845.9,490.8 L1848.0,490.8 L1850.0,490.8 L1852.0,490.8 L1854.0,490.8 L1856.0,490.8 L1858.0,490.8 L1860.0,490.8 L1862.0,490.8 L1864.0,490.8 L1866.0,490.8 L1868.0,490.8 L1870.0,490.8 L1872.1,490.8 L1874.1,490.8 L1876.1,490.8 L1878.1,490.8 L1880.1,490.8 L1882.2,490.8 L1884.2,490.8 L1886.2,490.8 L1888.2,490.8 L1890.2,490.8 L1892.3,490.8 L1894.3,490.8 L1896.3,490.8 L1898.4,490.8 L1900.4,490.8 L1902.4,490.8 L1904.4,490.8 L1906.5,490.8 L1908.5,490.8 L1910.5,490.8 L1912.6,490.8 L1914.6,490.8 L1916.6,490.8 L1918.7,490.8 L1920.7,490.8 L1922.7,490.8 L1924.7,490.8 L1926.8,490.8 L1928.8,490.8 L1930.8,490.8 L1932.9,490.8 L1934.9,490.8 L1936.9,490.8 L1938.9,490.8 L1941.0,490.8 L1943.0,490.8 L1945.0,490.8" stroke="#000" stroke-width="5.3" fill="none" stroke-linejoin="round" stroke-linecap="butt"/>
<path d="M301.0,78.2 L303.0,78.3 L305.1,78.4 L307.1,78.5 L309.1,78.6 L311.1,78.7 L313.2,78.8 L315.2,78.9 L317.2,79.0 L319.2,79.1 L321.2,79.1 L323.2,79.2 L325.3,79.3 L327.3,79.4 L329.4,79.5 L331.5,79.6 L333.6,79.7 L335.7,79.8 L337.8,79.9 L340.0,80.0 L341.9,80.1 L343.8,80.2 L345.7,80.2 L347.6,80.3 L349.5,80.4 L351.4,80.5 L353.4,80.6 L355.3,80.7 L357.3,80.8 L359.2,80.8 L361.2,80.9 L363.2,81.0 L365.2,81.1 L367.2,81.2 L369.2,81.3 L371.2,81.3 L373.3,81.4 L375.3,81.5 L377.4,81.6 L379.5,81.7 L381.5,81.7 L383.6,81.8 L385.7,81.9 L387.9,81.9 L390.0,82.0 L391.9,82.1 L393.8,82.1 L395.7,82.2 L397.6,82.2 L399.6,82.2 L401.6,82.3 L403.6,82.3 L405.6,82.4 L407.6,82.4 L409.6,82.5 L411.7,82.5 L413.7,82.5 L415.8,82.6 L417.8,82.6 L419.9,82.6 L422.0,82.7 L424.0,82.7 L426.1,82.7 L428.2,82.8 L430.2,82.8 L432.3,82.8 L434.3,82.9 L436.4,82.9 L438.4,82.9 L440.4,83.0 L442.4,83.0 L444.4,83.0 L446.4,83.0 L448.4,83.1 L450.3,83.1 L452.2,83.1 L454.1,83.2 L456.0,83.2 L458.1,83.2 L460.2,83.3 L462.3,83.3 L464.4,83.3 L466.4,83.3 L468.5,83.4 L470.5,83.4 L472.5,83.4 L474.5,83.4 L476.5,83.5 L478.5,83.5 L480.5,83.5 L482.4,83.5 L484.4,83.6 L486.3,83.6 L488.3,83.6 L490.2,83.6 L492.2,83.7 L494.2,83.7 L496.1,83.7 L498.1,83.8 L500.0,83.8 L502.0,83.9 L504.0,83.9 L506.0,84.0 L508.0,84.1 L510.0,84.1 L512.0,84.2 L514.0,84.3 L516.1,84.4 L518.1,84.4 L520.1,84.5 L522.1,84.6 L524.1,84.7 L526.2,84.8 L528.2,84.9 L530.2,85.0 L532.2,85.1 L534.2,85.2 L536.2,85.3 L538.2,85.4 L540.2,85.5 L542.2,85.6 L544.2,85.7 L546.2,85.8 L548.2,85.9 L550.2,86.0 L552.1,86.2 L554.1,86.3 L556.0,86.4 L558.1,86.5 L560.3,86.7 L562.4,86.8 L564.5,87.0 L566.6,87.1 L568.6,87.3 L570.7,87.4 L572.8,87.6 L574.8,87.7 L576.9,87.9 L578.9,88.0 L581.0,88.2 L583.0,88.4 L585.1,88.6 L587.2,88.7 L589.2,88.9 L591.3,89.1 L593.4,89.3 L595.5,89.5 L597.7,89.7 L599.8,89.9 L601.7,90.1 L603.7,90.3 L605.6,90.5 L607.6,90.7 L609.6,90.9 L611.5,91.1 L613.5,91.4 L615.5,91.6 L617.5,91.8 L619.5,92.1 L621.5,92.3 L623.5,92.5 L625.5,92.8 L627.5,93.0 L629.5,93.3 L631.5,93.5 L633.6,93.8 L635.6,94.0 L637.6,94.3 L639.6,94.5 L641.6,94.7 L643.6,95.0 L645.6,95.2 L647.6,95.5 L649.6,95.7 L651.6,95.9 L653.6,96.2 L655.6,96.4 L657.6,96.6 L659.6,96.8 L661.6,97.0 L663.6,97.2 L665.6,97.4 L667.6,97.6 L669.6,97.8 L671.6,98.0 L673.6,98.3 L675.6,98.5 L677.6,98.7 L679.6,98.9 L681.6,99.1 L683.6,99.4 L685.6,99.6 L687.5,99.8 L689.5,100.1 L691.5,100.4 L693.5,100.6 L695.5,100.9 L697.5,101.2 L699.5,101.5 L701.5,101.8 L703.5,102.1 L705.6,102.5 L707.6,102.8 L709.6,103.2 L711.7,103.6 L713.8,104.0 L715.8,104.4 L717.9,104.8 L719.9,105.2 L722.0,105.6 L724.0,106.0 L726.1,106.4 L728.1,106.8 L730.1,107.2 L732.1,107.6 L734.1,108.1 L736.1,108.5 L738.1,108.9 L740.0,109.3 L741.9,109.7 L743.8,110.1 L745.7,110.5 L747.5,110.8 L749.3,111.2 L751.6,111.7 L753.8,112.1 L755.9,112.5 L758.1,113.0 L760.2,113.4 L762.3,113.8 L764.3,114.3 L766.3,114.7 L768.4,115.1 L770.4,115.5 L772.4,115.9 L774.4,116.4 L776.4,116.8 L778.4,117.2 L780.4,117.7 L782.5,118.1 L784.5,118.6 L786.5,119.0 L788.5,119.5 L790.5,120.0 L792.5,120.5 L794.5,121.0 L796.5,121.5 L798.4,122.0 L800.4,122.5 L802.4,123.0 L804.5,123.5 L806.5,123.9 L808.6,124.4 L810.7,124.8 L812.8,125.2 L815.0,125.5 L816.9,125.8 L818.7,126.0 L820.6,126.2 L822.6,126.5 L824.5,126.6 L826.5,126.8 L828.4,127.0 L830.4,127.1 L832.5,127.3 L834.5,127.4 L836.5,127.5 L838.5,127.7 L840.6,127.8 L842.6,127.9 L844.7,128.0 L846.8,128.1 L848.9,128.2 L850.9,128.3 L853.0,128.5 L855.1,128.6 L857.1,128.7 L859.2,128.9 L861.2,129.1 L863.2,129.2 L865.2,129.4 L867.2,129.5 L869.3,129.7 L871.3,129.8 L873.4,130.0 L875.4,130.1 L877.5,130.3 L879.5,130.4 L881.6,130.6 L883.6,130.7 L885.7,130.9 L887.8,131.0 L889.8,131.2 L891.9,131.3 L894.0,131.5 L896.0,131.6 L898.1,131.8 L900.2,132.0 L902.2,132.1 L904.3,132.3 L906.3,132.4 L908.4,132.6 L910.5,132.8 L912.5,132.9 L914.6,133.1 L916.6,133.3 L918.7,133.4 L920.7,133.6 L922.8,133.8 L924.8,134.0 L926.9,134.2 L928.9,134.3 L931.0,134.5 L933.0,134.7 L935.1,134.9 L937.1,135.0 L939.1,135.2 L941.2,135.4 L943.2,135.6 L945.3,135.8 L947.3,135.9 L949.4,136.1 L951.4,136.3 L953.5,136.5 L955.5,136.6 L957.6,136.8 L959.6,137.0 L961.7,137.1 L963.7,137.3 L965.8,137.5 L967.9,137.6 L969.9,137.8 L972.0,137.9 L974.0,138.1 L976.1,138.2 L978.1,138.4 L980.2,138.5 L982.2,138.7 L984.3,138.8 L986.3,139.0 L988.4,139.1 L990.4,139.3 L992.5,139.5 L994.5,139.6 L996.6,139.8 L998.6,140.0 L1000.7,140.1 L1002.7,140.3 L1004.8,140.5 L1006.8,140.7 L1008.9,140.9 L1010.9,141.1 L1013.0,141.3 L1015.0,141.5 L1017.1,141.7 L1019.1,141.9 L1021.2,142.1 L1023.2,142.4 L1025.3,142.6 L1027.3,142.8 L1029.4,143.0 L1031.4,143.3 L1033.5,143.5 L1035.5,143.7 L1037.6,144.0 L1039.6,144.2 L1041.7,144.4 L1043.7,144.7 L1045.8,144.9 L1047.8,145.1 L1049.9,145.4 L1051.9,145.6 L1054.0,145.9 L1056.0,146.1 L1058.1,146.3 L1060.1,146.6 L1062.2,146.8 L1064.2,147.1 L1066.3,147.3 L1068.3,147.6 L1070.4,147.8 L1072.4,148.1 L1074.5,148.3 L1076.5,148.6 L1078.6,148.8 L1080.6,149.1 L1082.7,149.3 L1084.7,149.6 L1086.8,149.9 L1088.8,150.1 L1090.9,150.4 L1092.9,150.7 L1095.0,150.9 L1097.0,151.2 L1099.1,151.5 L1101.1,151.7 L1103.2,152.0 L1105.2,152.3 L1107.3,152.6 L1109.3,152.9 L1111.3,153.2 L1113.4,153.5 L1115.4,153.8 L1117.5,154.1 L1119.5,154.4 L1121.6,154.7 L1123.6,155.0 L1125.7,155.3 L1127.7,155.7 L1129.8,156.0 L1131.8,156.3 L1133.8,156.6 L1135.9,156.9 L1137.9,157.2 L1140.0,157.5 L1142.0,157.9 L1144.1,158.2 L1146.2,158.5 L1148.2,158.7 L1150.3,159.0 L1152.3,159.3 L1154.4,159.6 L1156.4,159.9 L1158.4,160.1 L1160.5,160.4 L1162.5,160.6 L1164.5,160.9 L1166.6,161.1 L1168.6,161.3 L1170.7,161.6 L1172.7,161.8 L1174.8,162.0 L1176.8,162.2 L1178.8,162.5 L1180.9,162.7 L1182.9,162.9 L1185.0,163.1 L1187.0,163.4 L1189.0,163.6 L1191.1,163.8 L1193.1,164.0 L1195.1,164.3 L1197.1,164.5 L1199.1,164.7 L1201.1,165.0 L1203.0,165.2 L1205.0,165.5 L1207.1,165.8 L1209.1,166.1 L1211.2,166.3 L1213.2,166.6 L1215.2,166.9 L1217.2,167.2 L1219.2,167.5 L1221.2,167.8 L1223.2,168.1 L1225.2,168.3 L1227.2,168.6 L1229.1,168.9 L1231.1,169.2 L1233.1,169.5 L1235.1,169.9 L1237.1,170.2 L1239.1,170.5 L1241.1,170.8 L1243.1,171.1 L1245.1,171.4 L1247.1,171.8 L1249.2,172.1 L1251.2,172.4 L1253.2,172.8 L1255.2,173.1 L1257.3,173.5 L1259.3,173.8 L1261.3,174.2 L1263.4,174.5 L1265.4,174.9 L1267.5,175.3 L1269.5,175.6 L1271.6,176.0 L1273.6,176.4 L1275.7,176.7 L1277.8,177.1 L1279.8,177.5 L1281.9,177.9 L1284.0,178.2 L1286.0,178.6 L1288.1,179.0 L1290.2,179.3 L1292.2,179.7 L1294.3,180.0 L1296.3,180.4 L1298.4,180.7 L1300.4,181.0 L1302.5,181.3 L1304.5,181.7 L1306.6,182.0 L1308.6,182.3 L1310.7,182.5 L1312.8,182.8 L1314.8,183.1 L1316.9,183.4 L1318.9,183.7 L1321.0,184.0 L1323.0,184.2 L1325.1,184.5 L1327.1,184.8 L1329.2,185.1 L1331.2,185.4 L1333.3,185.7 L1335.3,186.0 L1337.4,186.3 L1339.4,186.7 L1341.5,187.0 L1343.5,187.4 L1345.6,187.7 L1347.6,188.1 L1349.6,188.5 L1351.5,188.9 L1353.5,189.3 L1355.5,189.7 L1357.5,190.1 L1359.4,190.5 L1361.4,190.9 L1363.4,191.4 L1365.3,191.8 L1367.3,192.3 L1369.3,192.7 L1371.2,193.2 L1373.2,193.7 L1375.2,194.1 L1377.1,194.6 L1379.1,195.1 L1381.1,195.5 L1383.0,196.0 L1385.0,196.5 L1387.0,196.9 L1388.9,197.4 L1390.9,197.8 L1392.9,198.3 L1394.8,198.8 L1396.8,199.2 L1398.8,199.6 L1400.7,200.1 L1402.7,200.5 L1404.7,201.0 L1406.6,201.4 L1408.6,201.8 L1410.6,202.3 L1412.5,202.7 L1414.5,203.1 L1416.5,203.5 L1418.5,204.0 L1420.4,204.4 L1422.4,204.8 L1424.4,205.3 L1426.3,205.7 L1428.3,206.2 L1430.3,206.6 L1432.2,207.0 L1434.2,207.5 L1436.2,207.9 L1438.1,208.4 L1440.1,208.8 L1442.1,209.3 L1444.0,209.7 L1446.0,210.2 L1448.0,210.7 L1449.9,211.1 L1451.9,211.6 L1453.9,212.1 L1455.9,212.5 L1457.8,213.0 L1459.8,213.5 L1461.8,214.0 L1463.7,214.4 L1465.7,214.9 L1467.7,215.4 L1469.6,215.9 L1471.6,216.4 L1473.6,216.9 L1475.5,217.3 L1477.5,217.8 L1479.5,218.3 L1481.5,218.8 L1483.4,219.4 L1485.4,219.9 L1487.3,220.4 L1489.3,220.9 L1491.3,221.4 L1493.2,222.0 L1495.2,222.5 L1497.2,223.0 L1499.2,223.6 L1501.2,224.2 L1503.2,224.7 L1505.2,225.3 L1507.2,225.9 L1509.2,226.5 L1511.2,227.1 L1513.3,227.7 L1515.3,228.3 L1517.3,228.9 L1519.3,229.5 L1521.3,230.1 L1523.3,230.7 L1525.3,231.4 L1527.3,232.0 L1529.3,232.6 L1531.2,233.2 L1533.2,233.8 L1535.1,234.4 L1537.0,235.0 L1538.9,235.6 L1540.7,236.2 L1542.6,236.7 L1544.4,237.3 L1546.5,238.0 L1548.6,238.6 L1550.7,239.3 L1552.8,239.9 L1554.9,240.5 L1556.9,241.2 L1558.9,241.8 L1560.9,242.4 L1562.9,243.0 L1564.9,243.6 L1566.8,244.3 L1568.8,244.9 L1570.7,245.5 L1572.6,246.2 L1574.5,246.8 L1576.3,247.5 L1578.2,248.2 L1580.0,248.9 L1582.1,249.7 L1584.1,250.5 L1586.1,251.4 L1588.1,252.2 L1590.0,253.0 L1591.9,253.9 L1593.9,254.7 L1595.8,255.6 L1597.6,256.5 L1599.5,257.4 L1601.4,258.3 L1603.3,259.2 L1605.2,260.2 L1607.1,261.1 L1608.9,262.0 L1610.7,263.0 L1612.5,263.9 L1614.3,264.9 L1616.2,265.8 L1618.0,266.8 L1619.8,267.8 L1621.5,268.8 L1623.3,269.8 L1625.1,270.9 L1626.9,271.9 L1628.7,272.9 L1630.5,273.9 L1632.3,275.0 L1634.1,276.0 L1635.9,277.0 L1637.7,278.1 L1639.5,279.1 L1641.4,280.2 L1643.2,281.2 L1645.0,282.3 L1646.8,283.3 L1648.6,284.4 L1650.4,285.5 L1652.2,286.6 L1654.0,287.7 L1655.8,288.8 L1657.6,289.9 L1659.4,291.1 L1661.2,292.2 L1662.9,293.3 L1664.6,294.4 L1666.3,295.6 L1668.0,296.7 L1669.7,297.9 L1671.4,299.1 L1673.1,300.2 L1674.8,301.4 L1676.5,302.6 L1678.2,303.8 L1679.9,305.0 L1681.6,306.2 L1683.3,307.5 L1684.9,308.7 L1686.6,310.0 L1688.3,311.2 L1689.9,312.4 L1691.5,313.6 L1693.1,314.9 L1694.7,316.1 L1696.3,317.3 L1697.9,318.6 L1699.5,319.8 L1701.1,321.1 L1702.7,322.4 L1704.3,323.6 L1705.8,324.9 L1707.4,326.2 L1709.0,327.5 L1710.6,328.8 L1712.2,330.1 L1713.7,331.5 L1715.3,332.8 L1716.8,334.1 L1718.3,335.4 L1719.9,336.7 L1721.4,338.1 L1722.9,339.4 L1724.4,340.7 L1725.9,342.1 L1727.4,343.4 L1728.9,344.8 L1730.4,346.2 L1731.9,347.5 L1733.4,348.9 L1734.9,350.3 L1736.4,351.7 L1737.9,353.0 L1739.4,354.4 L1740.9,355.8 L1742.4,357.2 L1743.9,358.6 L1745.4,360.0 L1746.9,361.4 L1748.5,362.8 L1750.0,364.3 L1751.5,365.7 L1753.0,367.1 L1754.5,368.6 L1756.0,370.0 L1757.5,371.4 L1759.0,372.9 L1760.5,374.3 L1762.0,375.7 L1763.5,377.2 L1765.0,378.6 L1766.5,380.0 L1767.9,381.5 L1769.4,382.9 L1770.9,384.4 L1772.4,385.9 L1774.0,387.4 L1775.5,388.9 L1777.0,390.4 L1778.6,391.9 L1780.1,393.4 L1781.6,394.9 L1783.1,396.4 L1784.6,397.9 L1786.1,399.4 L1787.5,400.8 L1788.9,402.2 L1790.2,403.6 L1791.6,405.0 L1792.8,406.3 L1794.0,407.5 L1795.7,409.3 L1797.2,410.9 L1798.7,412.5 L1800.1,414.1 L1801.4,415.6 L1802.8,417.1 L1804.2,418.7 L1805.6,420.3 L1807.0,421.8 L1808.4,423.4 L1809.8,424.9 L1811.2,426.5 L1812.7,428.1 L1814.1,429.7 L1815.5,431.3 L1817.0,432.8 L1818.4,434.4 L1819.8,436.0 L1821.2,437.5 L1822.6,439.1 L1824.0,440.7 L1825.4,442.2 L1826.8,443.8 L1828.2,445.4 L1829.6,446.9 L1831.1,448.5 L1832.5,450.0 L1834.0,451.5 L1835.4,453.0 L1836.9,454.5 L1838.4,455.9 L1839.9,457.4 L1841.5,458.9 L1843.0,460.3 L1844.5,461.7 L1846.0,463.0 L1847.7,464.5 L1849.4,465.9 L1851.1,467.3 L1852.9,468.7 L1854.6,470.0 L1856.3,471.4 L1858.1,472.6 L1859.9,473.9 L1861.7,475.1 L1863.6,476.4 L1865.4,477.5 L1867.3,478.7 L1869.2,479.8 L1871.1,480.9 L1873.0,482.0 L1875.0,483.0 L1876.8,483.9 L1878.7,484.7 L1880.5,485.5 L1882.4,486.3 L1884.3,487.0 L1886.2,487.8 L1888.1,488.5 L1890.0,489.1 L1891.9,489.8 L1893.9,490.5 L1895.9,491.2 L1897.9,491.8 L1899.9,492.4 L1901.8,493.0 L1903.8,493.6 L1905.9,494.1 L1907.9,494.5 L1910.0,494.9 L1912.1,495.2 L1914.2,495.5 L1916.3,495.8 L1918.4,496.0 L1920.6,496.2 L1922.8,496.3 L1925.0,496.5 L1926.9,496.6 L1928.9,496.7 L1930.9,496.8 L1932.9,496.8 L1934.9,496.9 L1936.9,496.9 L1938.9,496.9 L1941.0,496.9 L1943.0,497.0 L1945.0,497.0" stroke="#f00" stroke-width="6.0" fill="none" stroke-linejoin="round" stroke-linecap="butt"/>
<path d="M301.0,73.5 L303.0,73.5 L305.1,73.5 L307.1,73.5 L309.1,73.4 L311.1,73.4 L313.0,73.4 L315.0,73.4 L317.0,73.4 L319.0,73.4 L321.0,73.4 L323.0,73.4 L325.0,73.3 L327.0,73.3 L329.0,73.3 L331.0,73.3 L333.0,73.3 L335.1,73.3 L337.1,73.3 L339.2,73.3 L341.3,73.2 L343.5,73.2 L345.6,73.2 L347.8,73.2 L350.0,73.2 L351.8,73.2 L353.7,73.2 L355.5,73.2 L357.4,73.2 L359.3,73.1 L361.2,73.1 L363.1,73.1 L365.1,73.1 L367.0,73.1 L369.0,73.1 L370.9,73.1 L372.9,73.1 L374.9,73.1 L376.9,73.0 L378.9,73.0 L380.9,73.0 L382.9,73.0 L384.9,73.0 L387.0,73.0 L389.0,73.0 L391.1,73.0 L393.1,73.0 L395.2,73.0 L397.2,73.0 L399.3,72.9 L401.4,72.9 L403.4,72.9 L405.5,72.9 L407.6,72.9 L409.6,72.9 L411.7,72.9 L413.8,72.9 L415.9,72.9 L417.9,72.9 L420.0,72.9 L421.9,72.9 L423.9,72.9 L425.9,72.9 L427.9,72.9 L429.9,72.9 L431.9,72.9 L433.9,72.9 L436.0,72.9 L438.0,72.9 L440.1,72.9 L442.1,72.9 L444.2,72.9 L446.3,72.9 L448.4,72.9 L450.4,72.9 L452.5,72.9 L454.6,72.9 L456.7,72.9 L458.8,73.0 L460.8,73.0 L462.9,73.0 L465.0,73.0 L467.0,73.0 L469.1,73.0 L471.1,73.0 L473.2,73.0 L475.2,73.0 L477.2,73.0 L479.2,73.0 L481.2,73.1 L483.2,73.1 L485.1,73.1 L487.0,73.1 L489.0,73.1 L490.9,73.1 L492.7,73.1 L494.6,73.2 L496.4,73.2 L498.2,73.2 L500.0,73.2 L502.2,73.2 L504.4,73.2 L506.5,73.3 L508.6,73.3 L510.6,73.3 L512.6,73.4 L514.6,73.4 L516.6,73.4 L518.5,73.5 L520.4,73.5 L522.4,73.5 L524.3,73.6 L526.2,73.6 L528.1,73.6 L530.0,73.7 L531.9,73.7 L533.8,73.7 L535.7,73.8 L537.7,73.8 L539.6,73.8 L541.7,73.9 L543.7,73.9 L545.8,73.9 L547.9,74.0 L550.0,74.0 L551.8,74.0 L553.7,74.1 L555.6,74.1 L557.5,74.1 L559.4,74.1 L561.4,74.1 L563.3,74.2 L565.3,74.2 L567.3,74.2 L569.3,74.2 L571.3,74.3 L573.3,74.3 L575.3,74.3 L577.3,74.3 L579.4,74.4 L581.4,74.4 L583.5,74.4 L585.5,74.4 L587.6,74.5 L589.6,74.5 L591.7,74.5 L593.8,74.5 L595.8,74.6 L597.9,74.6 L599.9,74.6 L602.0,74.6 L604.0,74.6 L606.1,74.7 L608.1,74.7 L610.1,74.7 L612.1,74.7 L614.1,74.7 L616.1,74.8 L618.0,74.8 L620.0,74.8 L622.1,74.8 L624.1,74.8 L626.2,74.9 L628.3,74.9 L630.3,74.9 L632.3,74.9 L634.4,74.9 L636.4,74.9 L638.4,75.0 L640.4,75.0 L642.4,75.0 L644.5,75.0 L646.5,75.0 L648.5,75.0 L650.5,75.0 L652.5,75.1 L654.5,75.1 L656.5,75.1 L658.5,75.1 L660.5,75.1 L662.5,75.1 L664.5,75.1 L666.5,75.2 L668.5,75.2 L670.6,75.2 L672.6,75.2 L674.6,75.2 L676.7,75.2 L678.7,75.3 L680.7,75.3 L682.8,75.3 L684.8,75.3 L686.8,75.3 L688.8,75.4 L690.8,75.4 L692.9,75.4 L694.9,75.4 L696.9,75.4 L699.0,75.5 L701.0,75.5 L703.0,75.5 L705.1,75.5 L707.1,75.5 L709.2,75.6 L711.2,75.6 L713.3,75.6 L715.3,75.6 L717.4,75.6 L719.4,75.7 L721.5,75.7 L723.5,75.7 L725.6,75.7 L727.6,75.8 L729.6,75.8 L731.7,75.8 L733.7,75.8 L735.8,75.8 L737.8,75.9 L739.9,75.9 L741.9,75.9 L743.9,75.9 L746.0,76.0 L748.0,76.0 L750.0,76.0 L752.0,76.0 L754.1,76.0 L756.1,76.1 L758.1,76.1 L760.1,76.1 L762.1,76.1 L764.1,76.1 L766.1,76.2 L768.0,76.2 L770.0,76.2 L772.0,76.2 L773.9,76.2 L775.9,76.2 L777.9,76.3 L779.9,76.3 L781.8,76.3 L783.8,76.3 L785.8,76.3 L787.8,76.4 L789.8,76.4 L791.8,76.4 L793.9,76.4 L795.9,76.4 L797.9,76.5 L800.0,76.5 L802.1,76.5 L804.2,76.5 L806.3,76.6 L808.5,76.6 L810.6,76.6 L812.8,76.7 L815.0,76.7 L816.9,76.7 L818.7,76.8 L820.6,76.8 L822.5,76.8 L824.4,76.9 L826.3,76.9 L828.3,76.9 L830.2,77.0 L832.2,77.0 L834.1,77.0 L836.1,77.1 L838.1,77.1 L840.1,77.2 L842.1,77.2 L844.1,77.2 L846.1,77.3 L848.2,77.3 L850.2,77.4 L852.3,77.4 L854.3,77.4 L856.4,77.5 L858.4,77.5 L860.5,77.6 L862.6,77.6 L864.6,77.7 L866.7,77.7 L868.8,77.7 L870.9,77.8 L873.0,77.8 L875.1,77.9 L877.2,77.9 L879.3,78.0 L881.3,78.0 L883.4,78.0 L885.5,78.1 L887.6,78.1 L889.7,78.2 L891.8,78.2 L893.9,78.2 L896.0,78.3 L898.1,78.3 L900.1,78.4 L902.2,78.4 L904.3,78.4 L906.3,78.5 L908.4,78.5 L910.4,78.5 L912.4,78.6 L914.4,78.6 L916.3,78.6 L918.3,78.6 L920.3,78.7 L922.3,78.7 L924.3,78.7 L926.3,78.7 L928.3,78.8 L930.3,78.8 L932.3,78.8 L934.3,78.8 L936.3,78.9 L938.3,78.9 L940.3,78.9 L942.3,78.9 L944.4,78.9 L946.4,79.0 L948.4,79.0 L950.4,79.0 L952.4,79.0 L954.4,79.0 L956.4,79.1 L958.4,79.1 L960.5,79.1 L962.5,79.1 L964.5,79.1 L966.5,79.2 L968.5,79.2 L970.5,79.2 L972.6,79.2 L974.6,79.2 L976.6,79.3 L978.6,79.3 L980.6,79.3 L982.6,79.3 L984.7,79.4 L986.7,79.4 L988.7,79.4 L990.7,79.4 L992.7,79.5 L994.7,79.5 L996.7,79.5 L998.8,79.6 L1000.8,79.6 L1002.8,79.6 L1004.8,79.7 L1006.8,79.7 L1008.8,79.7 L1010.8,79.8 L1012.8,79.8 L1014.8,79.9 L1016.8,79.9 L1018.9,79.9 L1020.9,80.0 L1022.9,80.0 L1024.9,80.0 L1026.9,80.1 L1028.9,80.1 L1030.9,80.2 L1033.0,80.2 L1035.0,80.3 L1037.0,80.3 L1039.0,80.3 L1041.0,80.4 L1043.0,80.4 L1045.0,80.5 L1047.1,80.5 L1049.1,80.6 L1051.1,80.6 L1053.1,80.7 L1055.1,80.7 L1057.1,80.8 L1059.1,80.8 L1061.1,80.9 L1063.2,80.9 L1065.2,81.0 L1067.2,81.0 L1069.2,81.1 L1071.2,81.1 L1073.2,81.2 L1075.2,81.2 L1077.2,81.3 L1079.2,81.3 L1081.2,81.4 L1083.2,81.4 L1085.2,81.5 L1087.2,81.6 L1089.2,81.6 L1091.2,81.7 L1093.2,81.7 L1095.2,81.8 L1097.2,81.8 L1099.2,81.9 L1101.2,82.0 L1103.2,82.0 L1105.2,82.1 L1107.2,82.2 L1109.3,82.2 L1111.4,82.3 L1113.4,82.4 L1115.5,82.4 L1117.6,82.5 L1119.7,82.6 L1121.8,82.7 L1123.9,82.7 L1126.0,82.8 L1128.2,82.9 L1130.3,82.9 L1132.4,83.0 L1134.5,83.1 L1136.7,83.2 L1138.8,83.3 L1140.9,83.3 L1143.0,83.4 L1145.2,83.5 L1147.3,83.6 L1149.4,83.7 L1151.5,83.7 L1153.6,83.8 L1155.7,83.9 L1157.8,84.0 L1159.9,84.1 L1161.9,84.1 L1164.0,84.2 L1166.0,84.3 L1168.1,84.4 L1170.1,84.5 L1172.1,84.6 L1174.1,84.7 L1176.1,84.7 L1178.0,84.8 L1180.0,84.9 L1181.9,85.0 L1183.8,85.1 L1185.7,85.2 L1187.6,85.3 L1189.4,85.4 L1191.2,85.5 L1193.0,85.5 L1194.8,85.6 L1196.6,85.7 L1198.3,85.8 L1200.0,85.9 L1202.4,86.0 L1204.7,86.2 L1206.9,86.3 L1209.1,86.4 L1211.3,86.5 L1213.4,86.6 L1215.5,86.8 L1217.6,86.9 L1219.6,87.0 L1221.6,87.1 L1223.6,87.3 L1225.6,87.4 L1227.6,87.5 L1229.5,87.7 L1231.5,87.8 L1233.4,87.9 L1235.3,88.1 L1237.3,88.2 L1239.2,88.4 L1241.2,88.5 L1243.2,88.7 L1245.2,88.9 L1247.2,89.0 L1249.2,89.2 L1251.3,89.4 L1253.3,89.6 L1255.4,89.8 L1257.4,90.0 L1259.5,90.2 L1261.5,90.4 L1263.6,90.6 L1265.6,90.8 L1267.7,91.1 L1269.7,91.3 L1271.8,91.5 L1273.8,91.8 L1275.9,92.0 L1277.9,92.2 L1280.0,92.5 L1282.0,92.7 L1284.1,93.0 L1286.1,93.2 L1288.2,93.4 L1290.2,93.7 L1292.3,93.9 L1294.3,94.1 L1296.4,94.4 L1298.4,94.6 L1300.4,94.8 L1302.5,95.1 L1304.5,95.3 L1306.6,95.5 L1308.6,95.7 L1310.7,96.0 L1312.7,96.2 L1314.8,96.4 L1316.8,96.7 L1318.9,96.9 L1320.9,97.1 L1323.0,97.4 L1325.0,97.6 L1327.1,97.8 L1329.1,98.0 L1331.2,98.3 L1333.2,98.5 L1335.3,98.7 L1337.3,98.9 L1339.4,99.2 L1341.4,99.4 L1343.5,99.6 L1345.5,99.8 L1347.6,100.0 L1349.6,100.2 L1351.7,100.4 L1353.7,100.6 L1355.8,100.8 L1357.8,101.0 L1359.9,101.1 L1361.9,101.3 L1364.0,101.5 L1366.1,101.6 L1368.1,101.8 L1370.2,102.0 L1372.2,102.2 L1374.3,102.3 L1376.3,102.5 L1378.4,102.7 L1380.4,102.8 L1382.5,103.0 L1384.5,103.2 L1386.6,103.4 L1388.6,103.6 L1390.7,103.8 L1392.7,104.0 L1394.8,104.2 L1396.8,104.4 L1398.9,104.6 L1400.9,104.9 L1403.0,105.1 L1405.0,105.3 L1407.1,105.6 L1409.1,105.8 L1411.2,106.1 L1413.2,106.3 L1415.3,106.6 L1417.3,106.9 L1419.4,107.1 L1421.4,107.4 L1423.5,107.7 L1425.5,107.9 L1427.6,108.2 L1429.6,108.5 L1431.7,108.7 L1433.7,109.0 L1435.8,109.3 L1437.8,109.6 L1439.9,109.8 L1441.9,110.1 L1443.9,110.3 L1446.0,110.6 L1448.0,110.9 L1450.1,111.1 L1452.1,111.4 L1454.2,111.6 L1456.2,111.9 L1458.3,112.1 L1460.3,112.4 L1462.4,112.6 L1464.4,112.9 L1466.5,113.1 L1468.5,113.4 L1470.6,113.7 L1472.7,113.9 L1474.7,114.2 L1476.8,114.4 L1478.8,114.7 L1480.9,114.9 L1482.9,115.2 L1485.0,115.4 L1487.0,115.7 L1489.1,115.9 L1491.1,116.2 L1493.2,116.4 L1495.2,116.7 L1497.2,117.0 L1499.3,117.2 L1501.3,117.5 L1503.4,117.7 L1505.4,118.0 L1507.4,118.2 L1509.5,118.5 L1511.5,118.7 L1513.5,119.0 L1515.5,119.2 L1517.6,119.5 L1519.6,119.7 L1521.7,120.0 L1523.7,120.3 L1525.7,120.5 L1527.8,120.8 L1529.8,121.0 L1531.9,121.3 L1534.0,121.6 L1536.0,121.8 L1538.1,122.1 L1540.2,122.4 L1542.3,122.6 L1544.4,122.9 L1546.3,123.2 L1548.3,123.4 L1550.3,123.7 L1552.3,123.9 L1554.3,124.2 L1556.4,124.4 L1558.4,124.7 L1560.5,124.9 L1562.6,125.2 L1564.6,125.5 L1566.7,125.7 L1568.8,126.0 L1570.9,126.3 L1573.0,126.5 L1575.0,126.8 L1577.1,127.1 L1579.1,127.3 L1581.1,127.6 L1583.2,127.9 L1585.1,128.2 L1587.1,128.4 L1589.0,128.7 L1591.0,129.0 L1592.8,129.3 L1594.7,129.5 L1596.5,129.8 L1598.3,130.1 L1600.0,130.4 L1602.2,130.8 L1604.4,131.2 L1606.6,131.6 L1608.6,131.9 L1610.7,132.3 L1612.7,132.7 L1614.6,133.1 L1616.6,133.5 L1618.5,133.9 L1620.4,134.3 L1622.3,134.7 L1624.2,135.1 L1626.1,135.5 L1628.1,136.0 L1630.0,136.4 L1632.0,136.8 L1634.0,137.2 L1636.0,137.7 L1638.0,138.1 L1640.0,138.5 L1642.0,139.0 L1644.0,139.4 L1646.0,139.9 L1648.0,140.3 L1650.0,140.8 L1652.0,141.2 L1654.0,141.7 L1656.0,142.1 L1658.0,142.6 L1660.0,143.1 L1662.0,143.5 L1664.0,144.0 L1666.0,144.5 L1668.0,145.0 L1670.1,145.5 L1672.1,145.9 L1674.1,146.4 L1676.2,146.9 L1678.2,147.5 L1680.2,148.0 L1682.3,148.5 L1684.3,149.0 L1686.3,149.5 L1688.3,150.0 L1690.2,150.5 L1692.1,151.0 L1694.0,151.5 L1695.9,152.0 L1698.1,152.6 L1700.2,153.2 L1702.3,153.7 L1704.5,154.3 L1706.6,154.9 L1708.6,155.4 L1710.6,156.0 L1712.6,156.6 L1714.6,157.2 L1716.4,157.7 L1718.3,158.3 L1720.0,158.9 L1722.2,159.7 L1724.2,160.4 L1726.1,161.1 L1728.0,161.9 L1729.8,162.7 L1731.6,163.5 L1733.5,164.4 L1735.5,165.4 L1737.4,166.5 L1739.4,167.6 L1741.3,168.7 L1743.3,170.0 L1745.2,171.2 L1747.1,172.5 L1748.8,173.7 L1750.5,175.0 L1752.2,176.3 L1753.9,177.7 L1755.6,179.1 L1757.3,180.5 L1758.9,181.9 L1760.6,183.3 L1762.1,184.6 L1763.6,185.9 L1765.1,187.2 L1766.6,188.6 L1768.1,190.0 L1769.6,191.3 L1771.1,192.7 L1772.6,194.1 L1774.1,195.5 L1775.6,196.9 L1777.2,198.4 L1778.7,199.9 L1780.2,201.3 L1781.7,202.8 L1783.2,204.4 L1784.7,205.9 L1786.2,207.4 L1787.7,209.0 L1789.1,210.5 L1790.5,212.0 L1791.8,213.5 L1793.2,215.0 L1794.5,216.6 L1795.9,218.1 L1797.2,219.7 L1798.6,221.3 L1799.9,222.9 L1801.2,224.6 L1802.5,226.2 L1803.7,227.8 L1804.9,229.5 L1806.1,231.1 L1807.4,232.8 L1808.6,234.5 L1809.8,236.3 L1811.0,238.0 L1812.2,239.8 L1813.4,241.6 L1814.7,243.5 L1815.8,245.1 L1816.9,246.7 L1818.0,248.4 L1819.1,250.1 L1820.2,251.8 L1821.3,253.5 L1822.5,255.3 L1823.6,257.1 L1824.7,258.8 L1825.8,260.6 L1826.9,262.4 L1828.0,264.2 L1829.1,266.0 L1830.1,267.7 L1831.1,269.5 L1832.1,271.3 L1833.1,273.1 L1834.0,275.0 L1835.0,276.8 L1835.9,278.6 L1836.8,280.4 L1837.7,282.3 L1838.6,284.1 L1839.4,285.9 L1840.3,287.8 L1841.2,289.6 L1842.1,291.4 L1843.0,293.3 L1843.9,295.1 L1844.8,296.9 L1845.7,298.7 L1846.6,300.6 L1847.6,302.4 L1848.5,304.2 L1849.4,306.0 L1850.3,307.9 L1851.2,309.7 L1852.1,311.5 L1853.0,313.3 L1854.0,315.1 L1854.9,317.0 L1855.8,318.8 L1856.7,320.6 L1857.6,322.4 L1858.5,324.3 L1859.4,326.1 L1860.4,327.9 L1861.3,329.7 L1862.2,331.6 L1863.1,333.4 L1864.0,335.2 L1864.9,337.1 L1865.8,338.9 L1866.8,340.7 L1867.7,342.5 L1868.6,344.4 L1869.5,346.2 L1870.4,348.0 L1871.3,349.9 L1872.2,351.7 L1873.1,353.6 L1874.0,355.4 L1875.0,357.3 L1875.9,359.1 L1876.8,360.9 L1877.7,362.8 L1878.6,364.6 L1879.5,366.4 L1880.4,368.2 L1881.4,370.0 L1882.3,371.8 L1883.3,373.6 L1884.2,375.4 L1885.2,377.3 L1886.2,379.1 L1887.1,380.9 L1888.1,382.7 L1889.1,384.4 L1890.1,386.2 L1891.1,388.0 L1892.1,389.7 L1893.1,391.4 L1894.1,393.1 L1895.1,394.8 L1896.2,396.6 L1897.4,398.5 L1898.5,400.2 L1899.6,402.0 L1900.8,403.8 L1901.9,405.5 L1903.1,407.2 L1904.3,409.0 L1905.4,410.7 L1906.6,412.3 L1907.8,414.0 L1909.0,415.7 L1910.3,417.5 L1911.6,419.2 L1912.8,420.9 L1914.1,422.6 L1915.4,424.3 L1916.7,425.9 L1918.0,427.5 L1919.3,429.1 L1920.6,430.6 L1922.0,432.1 L1923.4,433.6 L1924.8,435.1 L1926.3,436.5 L1927.7,437.9 L1929.1,439.3 L1930.6,440.7 L1932.0,442.0 L1933.4,443.4 L1934.9,444.8 L1936.3,446.2 L1937.8,447.6 L1939.2,449.0 L1940.7,450.4 L1942.1,451.7 L1943.6,453.1 L1945.0,454.5" stroke="#00f" stroke-width="6.0" fill="none" stroke-linejoin="round" stroke-linecap="butt"/>
<path d="M301.0,1196.5 L303.0,1196.5 L305.0,1196.5 L307.1,1196.6 L309.2,1196.6 L311.2,1196.6 L313.3,1196.6 L315.3,1196.7 L317.4,1196.7 L319.4,1196.7 L321.3,1196.7 L323.3,1196.6 L325.2,1196.6 L327.0,1196.5 L329.2,1196.4 L331.3,1196.2 L333.3,1196.0 L335.3,1195.7 L337.3,1195.5 L339.2,1195.2 L341.2,1195.0 L343.1,1194.7 L345.0,1194.5 L347.2,1194.2 L349.4,1193.9 L351.5,1193.6 L353.6,1193.3 L355.8,1193.1 L357.9,1192.8 L360.0,1192.6 L362.1,1192.4 L364.1,1192.3 L366.1,1192.2 L368.2,1192.1 L370.3,1192.0 L372.6,1192.0 L375.0,1191.9 L376.7,1191.9 L378.4,1191.8 L380.3,1191.8 L382.2,1191.8 L384.1,1191.8 L386.1,1191.7 L388.2,1191.7 L390.3,1191.7 L392.4,1191.7 L394.5,1191.7 L396.6,1191.7 L398.7,1191.8 L400.8,1191.8 L402.9,1191.8 L405.0,1191.9 L407.0,1191.9 L409.0,1192.0 L411.0,1192.0 L413.0,1192.1 L415.0,1192.2 L417.0,1192.3 L419.0,1192.4 L421.0,1192.5 L423.0,1192.6 L425.0,1192.7 L427.0,1192.8 L429.0,1192.9 L431.0,1193.0 L433.0,1193.2 L435.0,1193.3 L437.0,1193.4 L439.0,1193.5 L441.0,1193.6 L443.0,1193.7 L445.0,1193.8 L447.0,1193.9 L449.0,1194.1 L451.0,1194.2 L453.0,1194.3 L455.0,1194.4 L457.0,1194.5 L459.0,1194.6 L461.0,1194.8 L463.0,1194.9 L465.0,1195.0 L467.0,1195.1 L469.0,1195.2 L471.0,1195.3 L473.0,1195.4 L475.0,1195.5 L477.0,1195.6 L479.0,1195.7 L481.0,1195.8 L483.0,1195.9 L485.0,1196.0 L487.0,1196.1 L489.0,1196.2 L491.0,1196.3 L493.0,1196.4 L495.0,1196.5 L497.0,1196.6 L499.0,1196.7 L501.0,1196.7 L503.0,1196.8 L505.0,1196.9 L507.0,1196.9 L509.0,1197.0 L511.0,1197.0 L513.0,1197.1 L514.9,1197.1 L516.9,1197.2 L518.9,1197.2 L520.9,1197.3 L522.9,1197.3 L524.9,1197.4 L526.9,1197.4 L528.9,1197.4 L530.9,1197.4 L533.0,1197.5 L535.0,1197.5 L537.0,1197.5 L539.0,1197.5 L541.0,1197.6 L543.0,1197.6 L545.1,1197.6 L547.1,1197.6 L549.1,1197.6 L551.1,1197.6 L553.2,1197.6 L555.2,1197.6 L557.3,1197.6 L559.4,1197.6 L561.5,1197.6 L563.6,1197.6 L565.7,1197.6 L567.8,1197.6 L570.0,1197.6 L571.9,1197.6 L573.8,1197.6 L575.7,1197.6 L577.6,1197.6 L579.5,1197.6 L581.4,1197.6 L583.3,1197.7 L585.3,1197.7 L587.2,1197.7 L589.2,1197.7 L591.2,1197.7 L593.2,1197.7 L595.2,1197.7 L597.2,1197.7 L599.2,1197.7 L601.3,1197.7 L603.3,1197.7 L605.4,1197.7 L607.5,1197.7 L609.7,1197.6 L611.8,1197.6 L614.0,1197.6 L615.8,1197.6 L617.7,1197.6 L619.6,1197.5 L621.6,1197.5 L623.6,1197.5 L625.6,1197.4 L627.6,1197.4 L629.7,1197.4 L631.8,1197.3 L633.9,1197.3 L636.0,1197.3 L638.1,1197.2 L640.2,1197.2 L642.4,1197.1 L644.5,1197.1 L646.6,1197.0 L648.8,1197.0 L650.9,1196.9 L653.0,1196.9 L655.1,1196.8 L657.2,1196.8 L659.2,1196.7 L661.3,1196.7 L663.3,1196.6 L665.2,1196.5 L667.2,1196.5 L669.1,1196.4 L671.0,1196.3 L672.8,1196.2 L674.6,1196.2 L676.3,1196.1 L678.0,1196.0 L680.3,1195.9 L682.5,1195.8 L684.7,1195.6 L686.8,1195.5 L688.8,1195.4 L690.8,1195.2 L692.8,1195.1 L694.7,1195.0 L696.6,1194.8 L698.5,1194.7 L700.4,1194.5 L702.3,1194.3 L704.2,1194.2 L706.1,1194.0 L708.0,1193.8 L710.0,1193.6 L712.0,1193.4 L714.0,1193.2 L716.1,1193.0 L718.1,1192.8 L720.2,1192.6 L722.2,1192.4 L724.3,1192.2 L726.3,1192.0 L728.4,1191.7 L730.4,1191.5 L732.4,1191.2 L734.4,1190.9 L736.3,1190.6 L738.2,1190.3 L740.1,1190.0 L742.0,1189.6 L744.2,1189.1 L746.4,1188.6 L748.5,1188.1 L750.7,1187.5 L752.8,1186.9 L754.9,1186.3 L757.0,1185.7 L759.0,1185.1 L760.9,1184.4 L762.7,1183.7 L764.4,1183.1 L766.0,1182.4 L768.4,1181.3 L770.5,1180.1 L772.4,1178.9 L774.2,1177.7 L776.0,1176.5 L778.0,1175.2 L779.9,1173.9 L781.6,1172.5 L783.3,1170.9 L784.5,1169.4 L785.7,1167.6 L786.8,1165.8 L787.9,1163.9 L788.8,1161.9 L789.7,1160.0 L790.6,1157.8 L791.4,1155.7 L792.1,1153.4 L792.8,1151.1 L793.3,1148.7 L793.6,1146.8 L793.9,1144.9 L794.0,1142.9 L794.2,1140.9 L794.3,1138.8 L794.4,1136.6 L794.5,1134.4 L794.6,1132.0 L794.7,1130.3 L794.8,1128.6 L794.8,1126.8 L794.9,1124.9 L795.0,1123.1 L795.0,1121.1 L795.1,1119.2 L795.1,1117.2 L795.2,1115.2 L795.2,1113.1 L795.3,1111.0 L795.3,1108.9 L795.4,1106.7 L795.4,1104.5 L795.5,1102.3 L795.5,1100.0 L795.5,1098.3 L795.6,1096.5 L795.6,1094.8 L795.6,1093.0 L795.7,1091.2 L795.7,1089.4 L795.7,1087.6 L795.8,1085.7 L795.8,1083.9 L795.8,1082.0 L795.8,1080.1 L795.9,1078.1 L795.9,1076.2 L795.9,1074.2 L795.9,1072.2 L796.0,1070.2 L796.0,1068.2 L796.0,1066.1 L796.0,1064.0 L796.0,1061.9 L796.1,1059.8 L796.1,1057.6 L796.1,1055.4 L796.1,1053.2 L796.1,1050.9 L796.2,1048.7 L796.2,1046.3 L796.2,1044.0 L796.2,1042.3 L796.2,1040.6 L796.2,1038.9 L796.2,1037.1 L796.3,1035.3 L796.3,1033.5 L796.3,1031.7 L796.3,1029.8 L796.3,1027.9 L796.3,1026.0 L796.3,1024.1 L796.3,1022.1 L796.3,1020.1 L796.3,1018.1 L796.3,1016.1 L796.3,1014.1 L796.3,1012.0 L796.3,1010.0 L796.3,1007.9 L796.3,1005.8 L796.3,1003.7 L796.3,1001.6 L796.3,999.5 L796.3,997.4 L796.3,995.2 L796.3,993.1 L796.3,990.9 L796.3,988.8 L796.3,986.6 L796.4,984.5 L796.4,982.3 L796.4,980.2 L796.4,978.0 L796.4,975.8 L796.4,973.7 L796.4,971.5 L796.4,969.4 L796.4,967.3 L796.4,965.1 L796.4,963.0 L796.4,960.9 L796.4,958.8 L796.4,956.7 L796.4,954.6 L796.4,952.5 L796.4,950.5 L796.4,948.4 L796.4,946.4 L796.4,944.4 L796.4,942.4 L796.4,940.4 L796.4,938.4 L796.5,936.5 L796.5,934.6 L796.5,932.7 L796.5,930.8 L796.5,929.0 L796.5,926.8 L796.5,924.6 L796.5,922.3 L796.6,920.1 L796.6,917.8 L796.6,915.6 L796.6,913.3 L796.6,911.1 L796.6,908.9 L796.7,906.6 L796.7,904.4 L796.7,902.2 L796.7,899.9 L796.7,897.7 L796.7,895.5 L796.7,893.3 L796.8,891.2 L796.8,889.0 L796.8,886.9 L796.8,884.8 L796.8,882.7 L796.9,880.6 L796.9,878.5 L796.9,876.5 L796.9,874.5 L797.0,872.5 L797.0,870.6 L797.0,868.6 L797.0,866.8 L797.1,864.9 L797.1,863.1 L797.1,861.3 L797.2,859.6 L797.2,857.9 L797.2,856.2 L797.3,854.6 L797.3,853.0 L797.4,851.5 L797.4,850.0 L797.5,847.4 L797.6,845.0 L797.7,842.8 L797.8,840.6 L797.9,838.6 L798.0,836.6 L798.1,834.7 L798.2,832.8 L798.3,830.9 L798.4,829.0 L798.5,827.0 L798.6,825.0 L798.7,822.9 L798.8,820.8 L798.9,818.7 L799.1,816.6 L799.2,814.5 L799.3,812.4 L799.4,810.3 L799.6,808.2 L799.7,806.1 L799.8,804.1 L799.9,802.0 L800.0,800.0 L800.1,797.9 L800.2,795.9 L800.2,793.8 L800.3,791.8 L800.4,789.8 L800.4,787.8 L800.5,785.8 L800.6,783.8 L800.6,781.8 L800.7,779.9 L800.8,777.9 L800.9,775.6 L801.0,773.3 L801.1,771.0 L801.2,768.7 L801.3,766.5 L801.5,764.3 L801.6,762.1 L801.8,760.0 L802.0,758.0 L802.2,755.6 L802.5,753.2 L802.8,751.0 L803.1,748.8 L803.5,746.8 L804.0,745.0 L804.9,742.5 L805.9,740.3 L807.0,739.3 L808.6,740.9 L810.0,744.0 L810.6,745.7 L811.1,747.6 L811.5,749.7 L811.9,752.0 L812.2,754.3 L812.5,756.7 L812.7,758.6 L812.9,760.5 L813.0,762.6 L813.1,764.7 L813.2,766.8 L813.3,769.0 L813.4,771.2 L813.5,773.4 L813.5,775.7 L813.6,777.9 L813.7,779.8 L813.7,781.7 L813.8,783.7 L813.8,785.6 L813.9,787.6 L813.9,789.5 L813.9,791.5 L814.0,793.6 L814.0,795.6 L814.0,797.7 L814.1,799.9 L814.1,802.1 L814.2,804.4 L814.3,806.2 L814.3,808.0 L814.4,809.9 L814.4,811.8 L814.5,813.7 L814.6,815.6 L814.6,817.6 L814.7,819.6 L814.8,821.6 L814.8,823.6 L814.9,825.7 L815.0,827.7 L815.1,829.8 L815.1,832.0 L815.2,834.1 L815.3,836.3 L815.3,838.5 L815.4,840.8 L815.4,843.0 L815.5,845.3 L815.6,847.7 L815.6,850.0 L815.6,851.8 L815.7,853.5 L815.7,855.3 L815.7,857.1 L815.7,859.0 L815.8,860.8 L815.8,862.7 L815.8,864.6 L815.8,866.5 L815.9,868.4 L815.9,870.3 L815.9,872.2 L815.9,874.2 L815.9,876.2 L815.9,878.1 L815.9,880.1 L816.0,882.1 L816.0,884.2 L816.0,886.2 L816.0,888.3 L816.0,890.3 L816.0,892.4 L816.0,894.5 L816.0,896.6 L816.0,898.7 L816.1,900.8 L816.1,902.9 L816.1,905.0 L816.1,907.2 L816.1,909.3 L816.1,911.5 L816.1,913.6 L816.1,915.8 L816.1,918.0 L816.1,920.2 L816.2,922.4 L816.2,924.6 L816.2,926.8 L816.2,929.0 L816.2,930.8 L816.2,932.7 L816.2,934.6 L816.2,936.5 L816.3,938.4 L816.3,940.4 L816.3,942.3 L816.3,944.3 L816.3,946.3 L816.3,948.3 L816.3,950.3 L816.3,952.4 L816.4,954.4 L816.4,956.5 L816.4,958.5 L816.4,960.6 L816.4,962.7 L816.4,964.8 L816.4,966.9 L816.4,969.0 L816.4,971.1 L816.5,973.3 L816.5,975.4 L816.5,977.5 L816.5,979.7 L816.5,981.8 L816.5,983.9 L816.5,986.1 L816.5,988.2 L816.6,990.3 L816.6,992.5 L816.6,994.6 L816.6,996.7 L816.6,998.8 L816.6,1000.9 L816.6,1003.0 L816.6,1005.1 L816.6,1007.2 L816.7,1009.3 L816.7,1011.4 L816.7,1013.4 L816.7,1015.5 L816.7,1017.5 L816.7,1019.5 L816.7,1021.5 L816.7,1023.5 L816.8,1025.4 L816.8,1027.4 L816.8,1029.3 L816.8,1031.2 L816.8,1033.1 L816.8,1035.0 L816.8,1036.8 L816.9,1038.7 L816.9,1040.5 L816.9,1042.2 L816.9,1044.0 L816.9,1046.3 L816.9,1048.5 L817.0,1050.8 L817.0,1053.0 L817.0,1055.3 L817.0,1057.5 L817.0,1059.7 L817.0,1061.9 L817.0,1064.1 L817.1,1066.2 L817.1,1068.4 L817.1,1070.5 L817.1,1072.6 L817.1,1074.7 L817.1,1076.8 L817.2,1078.9 L817.2,1080.9 L817.2,1082.9 L817.2,1084.9 L817.2,1086.9 L817.3,1088.8 L817.3,1090.8 L817.3,1092.7 L817.3,1094.5 L817.3,1096.4 L817.4,1098.2 L817.4,1100.0 L817.4,1101.7 L817.5,1103.4 L817.5,1105.1 L817.5,1106.8 L817.6,1108.4 L817.6,1110.0 L817.7,1112.5 L817.7,1114.9 L817.8,1117.2 L817.9,1119.4 L818.0,1121.5 L818.0,1123.6 L818.1,1125.6 L818.2,1127.6 L818.3,1129.6 L818.4,1131.6 L818.5,1133.6 L818.6,1135.6 L818.7,1137.7 L818.8,1139.8 L818.9,1142.0 L819.0,1144.2 L819.2,1146.4 L819.3,1148.6 L819.4,1150.8 L819.6,1153.0 L819.7,1155.2 L819.8,1157.3 L820.0,1159.4 L820.1,1161.4 L820.3,1163.4 L820.4,1165.3 L820.6,1167.6 L820.8,1169.9 L821.0,1172.0 L821.2,1174.1 L821.4,1176.2 L821.6,1178.2 L821.8,1180.1 L822.0,1182.0 L822.3,1184.4 L822.6,1186.7 L822.9,1188.9 L823.3,1191.0 L823.7,1193.0 L824.3,1195.5 L825.0,1197.8 L826.0,1199.5 L827.8,1200.7 L830.5,1201.3 L831.6,1201.5 L832.9,1201.6 L834.4,1201.8 L835.9,1201.9 L837.7,1201.9 L839.5,1202.0 L841.5,1202.0 L843.5,1202.0 L845.7,1202.0 L847.9,1202.0 L850.2,1202.0 L852.6,1202.0 L855.0,1202.0 L857.5,1201.9 L859.9,1201.9 L862.5,1201.9 L865.0,1201.9 L867.5,1201.9 L870.0,1201.9 L871.6,1201.9 L873.2,1201.9 L874.8,1201.9 L876.5,1202.0 L878.2,1202.0 L879.8,1202.0 L881.5,1202.0 L883.2,1202.0 L885.0,1202.0 L886.7,1202.0 L888.5,1202.0 L890.3,1202.1 L892.0,1202.1 L893.9,1202.1 L895.7,1202.1 L897.5,1202.1 L899.4,1202.1 L901.3,1202.1 L903.2,1202.1 L905.1,1202.1 L907.1,1202.1 L909.0,1202.1 L911.0,1202.2 L913.0,1202.2 L915.0,1202.2 L917.1,1202.2 L919.1,1202.2 L921.2,1202.2 L923.3,1202.2 L925.4,1202.2 L927.6,1202.2 L929.8,1202.2 L931.9,1202.2 L934.2,1202.2 L936.4,1202.2 L938.6,1202.2 L940.9,1202.2 L943.2,1202.3 L945.6,1202.3 L947.9,1202.3 L950.3,1202.3 L952.7,1202.3 L955.1,1202.3 L957.5,1202.3 L960.0,1202.3 L961.5,1202.3 L963.1,1202.3 L964.6,1202.3 L966.2,1202.3 L967.8,1202.3 L969.4,1202.3 L971.1,1202.3 L972.7,1202.3 L974.4,1202.3 L976.1,1202.3 L977.8,1202.3 L979.5,1202.3 L981.2,1202.3 L983.0,1202.4 L984.7,1202.4 L986.5,1202.4 L988.3,1202.4 L990.1,1202.4 L991.9,1202.4 L993.7,1202.4 L995.6,1202.4 L997.4,1202.4 L999.3,1202.4 L1001.2,1202.4 L1003.1,1202.4 L1005.0,1202.4 L1006.9,1202.4 L1008.8,1202.4 L1010.7,1202.4 L1012.7,1202.4 L1014.7,1202.4 L1016.6,1202.4 L1018.6,1202.4 L1020.6,1202.4 L1022.6,1202.4 L1024.6,1202.4 L1026.6,1202.4 L1028.6,1202.4 L1030.7,1202.4 L1032.7,1202.4 L1034.8,1202.4 L1036.8,1202.4 L1038.9,1202.4 L1041.0,1202.4 L1043.1,1202.4 L1045.2,1202.4 L1047.2,1202.4 L1049.3,1202.4 L1051.5,1202.5 L1053.6,1202.5 L1055.7,1202.5 L1057.8,1202.5 L1059.9,1202.5 L1062.1,1202.5 L1064.2,1202.5 L1066.3,1202.5 L1068.5,1202.5 L1070.6,1202.5 L1072.8,1202.5 L1074.9,1202.5 L1077.1,1202.5 L1079.3,1202.5 L1081.4,1202.5 L1083.6,1202.5 L1085.8,1202.5 L1087.9,1202.5 L1090.1,1202.5 L1092.3,1202.5 L1094.4,1202.5 L1096.6,1202.5 L1098.8,1202.5 L1100.9,1202.5 L1103.1,1202.5 L1105.3,1202.5 L1107.5,1202.5 L1109.6,1202.5 L1111.8,1202.5 L1114.0,1202.5 L1116.1,1202.5 L1118.3,1202.5 L1120.4,1202.5 L1122.6,1202.5 L1124.7,1202.5 L1126.9,1202.5 L1129.0,1202.5 L1131.2,1202.5 L1133.3,1202.5 L1135.5,1202.5 L1137.6,1202.5 L1139.7,1202.5 L1141.8,1202.5 L1144.0,1202.5 L1146.1,1202.5 L1148.2,1202.5 L1150.3,1202.5 L1152.4,1202.5 L1154.4,1202.5 L1156.5,1202.5 L1158.6,1202.5 L1160.7,1202.5 L1162.7,1202.5 L1164.8,1202.5 L1166.8,1202.5 L1168.8,1202.5 L1170.9,1202.5 L1172.9,1202.5 L1174.9,1202.5 L1176.9,1202.5 L1178.9,1202.5 L1180.8,1202.5 L1182.8,1202.5 L1184.8,1202.5 L1186.7,1202.5 L1188.6,1202.5 L1190.6,1202.5 L1192.5,1202.5 L1194.4,1202.5 L1196.3,1202.5 L1198.1,1202.5 L1200.0,1202.5 L1202.1,1202.5 L1204.3,1202.5 L1206.4,1202.5 L1208.6,1202.5 L1210.7,1202.5 L1212.9,1202.5 L1215.1,1202.5 L1217.2,1202.5 L1219.4,1202.5 L1221.5,1202.5 L1223.7,1202.5 L1225.8,1202.5 L1228.0,1202.5 L1230.2,1202.5 L1232.3,1202.5 L1234.5,1202.5 L1236.6,1202.5 L1238.8,1202.5 L1241.0,1202.5 L1243.1,1202.5 L1245.3,1202.5 L1247.4,1202.5 L1249.6,1202.5 L1251.7,1202.5 L1253.9,1202.5 L1256.0,1202.5 L1258.2,1202.5 L1260.3,1202.5 L1262.4,1202.5 L1264.6,1202.5 L1266.7,1202.5 L1268.8,1202.5 L1271.0,1202.5 L1273.1,1202.5 L1275.2,1202.5 L1277.3,1202.5 L1279.4,1202.5 L1281.5,1202.5 L1283.6,1202.5 L1285.7,1202.5 L1287.8,1202.5 L1289.9,1202.5 L1292.0,1202.5 L1294.0,1202.5 L1296.1,1202.5 L1298.2,1202.5 L1300.2,1202.5 L1302.3,1202.5 L1304.3,1202.5 L1306.4,1202.5 L1308.4,1202.5 L1310.4,1202.5 L1312.4,1202.4 L1314.4,1202.4 L1316.4,1202.4 L1318.4,1202.4 L1320.4,1202.4 L1322.4,1202.4 L1324.3,1202.4 L1326.3,1202.4 L1328.2,1202.4 L1330.2,1202.4 L1332.1,1202.4 L1334.0,1202.4 L1335.9,1202.4 L1337.8,1202.4 L1339.7,1202.4 L1341.6,1202.4 L1343.5,1202.4 L1345.3,1202.4 L1347.2,1202.4 L1349.0,1202.4 L1350.8,1202.4 L1352.7,1202.3 L1354.5,1202.3 L1356.3,1202.3 L1358.0,1202.3 L1359.8,1202.3 L1361.6,1202.3 L1363.3,1202.3 L1365.0,1202.3 L1366.7,1202.3 L1368.5,1202.3 L1370.1,1202.3 L1371.8,1202.3 L1373.5,1202.2 L1375.1,1202.2 L1376.8,1202.2 L1378.4,1202.2 L1380.0,1202.2 L1382.4,1202.2 L1384.7,1202.2 L1387.1,1202.1 L1389.4,1202.1 L1391.6,1202.1 L1393.9,1202.1 L1396.1,1202.1 L1398.3,1202.0 L1400.5,1202.0 L1402.6,1202.0 L1404.7,1202.0 L1406.8,1201.9 L1408.9,1201.9 L1411.0,1201.9 L1413.0,1201.9 L1415.0,1201.8 L1417.0,1201.8 L1419.0,1201.8 L1421.0,1201.7 L1422.9,1201.7 L1424.9,1201.7 L1426.8,1201.7 L1428.7,1201.6 L1430.6,1201.6 L1432.5,1201.6 L1434.4,1201.6 L1436.2,1201.5 L1438.1,1201.5 L1440.0,1201.5 L1441.8,1201.4 L1443.6,1201.4 L1445.5,1201.4 L1447.3,1201.4 L1449.1,1201.3 L1450.9,1201.3 L1452.7,1201.3 L1454.6,1201.3 L1456.4,1201.2 L1458.2,1201.2 L1460.0,1201.2 L1462.2,1201.2 L1464.4,1201.2 L1466.6,1201.1 L1468.7,1201.1 L1470.8,1201.1 L1472.9,1201.1 L1475.0,1201.1 L1477.0,1201.0 L1479.1,1201.0 L1481.1,1201.0 L1483.1,1201.0 L1485.1,1201.0 L1487.1,1201.0 L1489.1,1201.0 L1491.1,1200.9 L1493.1,1200.9 L1495.0,1200.9 L1497.0,1200.9 L1499.0,1200.9 L1501.0,1200.8 L1502.9,1200.8 L1504.9,1200.8 L1506.9,1200.8 L1508.9,1200.7 L1510.9,1200.7 L1513.0,1200.6 L1515.0,1200.6 L1517.0,1200.6 L1519.0,1200.5 L1521.0,1200.5 L1523.1,1200.4 L1525.1,1200.4 L1527.2,1200.3 L1529.2,1200.2 L1531.3,1200.2 L1533.4,1200.1 L1535.4,1200.1 L1537.5,1200.0 L1539.6,1199.9 L1541.6,1199.9 L1543.7,1199.8 L1545.7,1199.7 L1547.8,1199.7 L1549.8,1199.6 L1551.8,1199.5 L1553.8,1199.5 L1555.8,1199.4 L1557.8,1199.3 L1559.8,1199.2 L1561.7,1199.2 L1563.6,1199.1 L1565.5,1199.0 L1567.4,1198.9 L1569.2,1198.9 L1571.0,1198.8 L1573.2,1198.7 L1575.4,1198.6 L1577.6,1198.5 L1579.7,1198.4 L1581.8,1198.3 L1583.9,1198.2 L1586.0,1198.1 L1588.0,1198.0 L1590.0,1197.9 L1592.0,1197.8 L1594.0,1197.6 L1596.0,1197.5 L1598.0,1197.4 L1600.0,1197.3 L1602.0,1197.3 L1604.0,1197.2 L1606.0,1197.1 L1608.0,1197.0 L1610.0,1196.9 L1612.0,1196.9 L1614.0,1196.8 L1616.0,1196.7 L1618.0,1196.6 L1620.0,1196.6 L1622.0,1196.5 L1624.0,1196.4 L1626.0,1196.4 L1628.0,1196.3 L1630.0,1196.3 L1632.0,1196.2 L1634.0,1196.2 L1636.0,1196.2 L1638.0,1196.1 L1640.0,1196.1 L1642.0,1196.1 L1644.0,1196.1 L1646.0,1196.1 L1648.1,1196.1 L1650.1,1196.1 L1652.2,1196.2 L1654.2,1196.2 L1656.3,1196.2 L1658.4,1196.3 L1660.4,1196.3 L1662.5,1196.4 L1664.5,1196.4 L1666.6,1196.5 L1668.7,1196.6 L1670.7,1196.6 L1672.8,1196.7 L1674.8,1196.8 L1676.9,1196.9 L1678.9,1197.0 L1681.0,1197.1 L1683.1,1197.2 L1685.1,1197.3 L1687.1,1197.5 L1689.2,1197.6 L1691.2,1197.7 L1693.2,1197.9 L1695.3,1198.1 L1697.3,1198.2 L1699.4,1198.4 L1701.4,1198.6 L1703.4,1198.7 L1705.5,1198.9 L1707.6,1199.1 L1709.6,1199.2 L1711.7,1199.4 L1713.8,1199.5 L1715.9,1199.7 L1718.0,1199.8 L1719.9,1199.9 L1721.8,1200.0 L1723.7,1200.1 L1725.6,1200.3 L1727.5,1200.4 L1729.3,1200.5 L1731.2,1200.6 L1733.1,1200.7 L1735.0,1200.8 L1736.9,1200.9 L1738.8,1201.0 L1740.7,1201.1 L1742.7,1201.2 L1744.7,1201.3 L1746.8,1201.3 L1748.8,1201.4 L1751.0,1201.5 L1753.1,1201.6 L1755.4,1201.7 L1757.7,1201.7 L1760.0,1201.8 L1761.6,1201.8 L1763.3,1201.9 L1765.0,1201.9 L1766.7,1202.0 L1768.5,1202.0 L1770.3,1202.0 L1772.1,1202.1 L1773.9,1202.1 L1775.8,1202.1 L1777.7,1202.2 L1779.6,1202.2 L1781.5,1202.2 L1783.5,1202.2 L1785.4,1202.3 L1787.4,1202.3 L1789.4,1202.3 L1791.4,1202.3 L1793.4,1202.3 L1795.5,1202.3 L1797.5,1202.4 L1799.6,1202.4 L1801.7,1202.4 L1803.8,1202.4 L1805.9,1202.4 L1808.0,1202.4 L1810.1,1202.4 L1812.2,1202.4 L1814.3,1202.4 L1816.4,1202.5 L1818.6,1202.5 L1820.7,1202.5 L1822.8,1202.5 L1824.9,1202.5 L1827.1,1202.5 L1829.2,1202.5 L1831.3,1202.5 L1833.4,1202.5 L1835.5,1202.5 L1837.6,1202.5 L1839.7,1202.5 L1841.8,1202.6 L1843.9,1202.6 L1845.9,1202.6 L1848.0,1202.6 L1850.0,1202.6 L1852.0,1202.6 L1854.0,1202.6 L1856.0,1202.6 L1858.0,1202.6 L1860.0,1202.7 L1862.0,1202.7 L1864.0,1202.7 L1866.0,1202.7 L1868.0,1202.7 L1870.0,1202.7 L1872.1,1202.7 L1874.1,1202.7 L1876.1,1202.7 L1878.1,1202.7 L1880.1,1202.7 L1882.2,1202.7 L1884.2,1202.7 L1886.2,1202.8 L1888.2,1202.8 L1890.2,1202.8 L1892.3,1202.8 L1894.3,1202.8 L1896.3,1202.8 L1898.4,1202.8 L1900.4,1202.8 L1902.4,1202.8 L1904.4,1202.8 L1906.5,1202.8 L1908.5,1202.8 L1910.5,1202.8 L1912.6,1202.8 L1914.6,1202.8 L1916.6,1202.8 L1918.7,1202.8 L1920.7,1202.8 L1922.7,1202.8 L1924.7,1202.8 L1926.8,1202.9 L1928.8,1202.9 L1930.8,1202.9 L1932.9,1202.9 L1934.9,1202.9 L1936.9,1202.9 L1938.9,1202.9 L1941.0,1202.9 L1943.0,1202.9 L1945.0,1202.9" transform="translate(0,2.8)" stroke="#8c9290" stroke-width="5.2" fill="none" stroke-linejoin="round"/>
<path d="M301.0,1196.5 L303.0,1196.5 L305.0,1196.5 L307.1,1196.6 L309.2,1196.6 L311.2,1196.6 L313.3,1196.6 L315.3,1196.7 L317.4,1196.7 L319.4,1196.7 L321.3,1196.7 L323.3,1196.6 L325.2,1196.6 L327.0,1196.5 L329.2,1196.4 L331.3,1196.2 L333.3,1196.0 L335.3,1195.7 L337.3,1195.5 L339.2,1195.2 L341.2,1195.0 L343.1,1194.7 L345.0,1194.5 L347.2,1194.2 L349.4,1193.9 L351.5,1193.6 L353.6,1193.3 L355.8,1193.1 L357.9,1192.8 L360.0,1192.6 L362.1,1192.4 L364.1,1192.3 L366.1,1192.2 L368.2,1192.1 L370.3,1192.0 L372.6,1192.0 L375.0,1191.9 L376.7,1191.9 L378.4,1191.8 L380.3,1191.8 L382.2,1191.8 L384.1,1191.8 L386.1,1191.7 L388.2,1191.7 L390.3,1191.7 L392.4,1191.7 L394.5,1191.7 L396.6,1191.7 L398.7,1191.8 L400.8,1191.8 L402.9,1191.8 L405.0,1191.9 L407.0,1191.9 L409.0,1192.0 L411.0,1192.0 L413.0,1192.1 L415.0,1192.2 L417.0,1192.3 L419.0,1192.4 L421.0,1192.5 L423.0,1192.6 L425.0,1192.7 L427.0,1192.8 L429.0,1192.9 L431.0,1193.0 L433.0,1193.2 L435.0,1193.3 L437.0,1193.4 L439.0,1193.5 L441.0,1193.6 L443.0,1193.7 L445.0,1193.8 L447.0,1193.9 L449.0,1194.1 L451.0,1194.2 L453.0,1194.3 L455.0,1194.4 L457.0,1194.5 L459.0,1194.6 L461.0,1194.8 L463.0,1194.9 L465.0,1195.0 L467.0,1195.1 L469.0,1195.2 L471.0,1195.3 L473.0,1195.4 L475.0,1195.5 L477.0,1195.6 L479.0,1195.7 L481.0,1195.8 L483.0,1195.9 L485.0,1196.0 L487.0,1196.1 L489.0,1196.2 L491.0,1196.3 L493.0,1196.4 L495.0,1196.5 L497.0,1196.6 L499.0,1196.7 L501.0,1196.7 L503.0,1196.8 L505.0,1196.9 L507.0,1196.9 L509.0,1197.0 L511.0,1197.0 L513.0,1197.1 L514.9,1197.1 L516.9,1197.2 L518.9,1197.2 L520.9,1197.3 L522.9,1197.3 L524.9,1197.4 L526.9,1197.4 L528.9,1197.4 L530.9,1197.4 L533.0,1197.5 L535.0,1197.5 L537.0,1197.5 L539.0,1197.5 L541.0,1197.6 L543.0,1197.6 L545.1,1197.6 L547.1,1197.6 L549.1,1197.6 L551.1,1197.6 L553.2,1197.6 L555.2,1197.6 L557.3,1197.6 L559.4,1197.6 L561.5,1197.6 L563.6,1197.6 L565.7,1197.6 L567.8,1197.6 L570.0,1197.6 L571.9,1197.6 L573.8,1197.6 L575.7,1197.6 L577.6,1197.6 L579.5,1197.6 L581.4,1197.6 L583.3,1197.7 L585.3,1197.7 L587.2,1197.7 L589.2,1197.7 L591.2,1197.7 L593.2,1197.7 L595.2,1197.7 L597.2,1197.7 L599.2,1197.7 L601.3,1197.7 L603.3,1197.7 L605.4,1197.7 L607.5,1197.7 L609.7,1197.6 L611.8,1197.6 L614.0,1197.6 L615.8,1197.6 L617.7,1197.6 L619.6,1197.5 L621.6,1197.5 L623.6,1197.5 L625.6,1197.4 L627.6,1197.4 L629.7,1197.4 L631.8,1197.3 L633.9,1197.3 L636.0,1197.3 L638.1,1197.2 L640.2,1197.2 L642.4,1197.1 L644.5,1197.1 L646.6,1197.0 L648.8,1197.0 L650.9,1196.9 L653.0,1196.9 L655.1,1196.8 L657.2,1196.8 L659.2,1196.7 L661.3,1196.7 L663.3,1196.6 L665.2,1196.5 L667.2,1196.5 L669.1,1196.4 L671.0,1196.3 L672.8,1196.2 L674.6,1196.2 L676.3,1196.1 L678.0,1196.0 L680.3,1195.9 L682.5,1195.8 L684.7,1195.6 L686.8,1195.5 L688.8,1195.4 L690.8,1195.2 L692.8,1195.1 L694.7,1195.0 L696.6,1194.8 L698.5,1194.7 L700.4,1194.5 L702.3,1194.3 L704.2,1194.2 L706.1,1194.0 L708.0,1193.8 L710.0,1193.6 L712.0,1193.4 L714.0,1193.2 L716.1,1193.0 L718.1,1192.8 L720.2,1192.6 L722.2,1192.4 L724.3,1192.2 L726.3,1192.0 L728.4,1191.7 L730.4,1191.5 L732.4,1191.2 L734.4,1190.9 L736.3,1190.6 L738.2,1190.3 L740.1,1190.0 L742.0,1189.6 L744.2,1189.1 L746.4,1188.6 L748.5,1188.1 L750.7,1187.5 L752.8,1186.9 L754.9,1186.3 L757.0,1185.7 L759.0,1185.1 L760.9,1184.4 L762.7,1183.7 L764.4,1183.1 L766.0,1182.4 L768.4,1181.3 L770.5,1180.1 L772.4,1178.9 L774.2,1177.7 L776.0,1176.5 L778.0,1175.2 L779.9,1173.9 L781.6,1172.5 L783.3,1170.9 L784.5,1169.4 L785.7,1167.6 L786.8,1165.8 L787.9,1163.9 L788.8,1161.9 L789.7,1160.0 L790.6,1157.8 L791.4,1155.7 L792.1,1153.4 L792.8,1151.1 L793.3,1148.7 L793.6,1146.8 L793.9,1144.9 L794.0,1142.9 L794.2,1140.9 L794.3,1138.8 L794.4,1136.6 L794.5,1134.4 L794.6,1132.0 L794.7,1130.3 L794.8,1128.6 L794.8,1126.8 L794.9,1124.9 L795.0,1123.1 L795.0,1121.1 L795.1,1119.2 L795.1,1117.2 L795.2,1115.2 L795.2,1113.1 L795.3,1111.0 L795.3,1108.9 L795.4,1106.7 L795.4,1104.5 L795.5,1102.3 L795.5,1100.0 L795.5,1098.3 L795.6,1096.5 L795.6,1094.8 L795.6,1093.0 L795.7,1091.2 L795.7,1089.4 L795.7,1087.6 L795.8,1085.7 L795.8,1083.9 L795.8,1082.0 L795.8,1080.1 L795.9,1078.1 L795.9,1076.2 L795.9,1074.2 L795.9,1072.2 L796.0,1070.2 L796.0,1068.2 L796.0,1066.1 L796.0,1064.0 L796.0,1061.9 L796.1,1059.8 L796.1,1057.6 L796.1,1055.4 L796.1,1053.2 L796.1,1050.9 L796.2,1048.7 L796.2,1046.3 L796.2,1044.0 L796.2,1042.3 L796.2,1040.6 L796.2,1038.9 L796.2,1037.1 L796.3,1035.3 L796.3,1033.5 L796.3,1031.7 L796.3,1029.8 L796.3,1027.9 L796.3,1026.0 L796.3,1024.1 L796.3,1022.1 L796.3,1020.1 L796.3,1018.1 L796.3,1016.1 L796.3,1014.1 L796.3,1012.0 L796.3,1010.0 L796.3,1007.9 L796.3,1005.8 L796.3,1003.7 L796.3,1001.6 L796.3,999.5 L796.3,997.4 L796.3,995.2 L796.3,993.1 L796.3,990.9 L796.3,988.8 L796.3,986.6 L796.4,984.5 L796.4,982.3 L796.4,980.2 L796.4,978.0 L796.4,975.8 L796.4,973.7 L796.4,971.5 L796.4,969.4 L796.4,967.3 L796.4,965.1 L796.4,963.0 L796.4,960.9 L796.4,958.8 L796.4,956.7 L796.4,954.6 L796.4,952.5 L796.4,950.5 L796.4,948.4 L796.4,946.4 L796.4,944.4 L796.4,942.4 L796.4,940.4 L796.4,938.4 L796.5,936.5 L796.5,934.6 L796.5,932.7 L796.5,930.8 L796.5,929.0 L796.5,926.8 L796.5,924.6 L796.5,922.3 L796.6,920.1 L796.6,917.8 L796.6,915.6 L796.6,913.3 L796.6,911.1 L796.6,908.9 L796.7,906.6 L796.7,904.4 L796.7,902.2 L796.7,899.9 L796.7,897.7 L796.7,895.5 L796.7,893.3 L796.8,891.2 L796.8,889.0 L796.8,886.9 L796.8,884.8 L796.8,882.7 L796.9,880.6 L796.9,878.5 L796.9,876.5 L796.9,874.5 L797.0,872.5 L797.0,870.6 L797.0,868.6 L797.0,866.8 L797.1,864.9 L797.1,863.1 L797.1,861.3 L797.2,859.6 L797.2,857.9 L797.2,856.2 L797.3,854.6 L797.3,853.0 L797.4,851.5 L797.4,850.0 L797.5,847.4 L797.6,845.0 L797.7,842.8 L797.8,840.6 L797.9,838.6 L798.0,836.6 L798.1,834.7 L798.2,832.8 L798.3,830.9 L798.4,829.0 L798.5,827.0 L798.6,825.0 L798.7,822.9 L798.8,820.8 L798.9,818.7 L799.1,816.6 L799.2,814.5 L799.3,812.4 L799.4,810.3 L799.6,808.2 L799.7,806.1 L799.8,804.1 L799.9,802.0 L800.0,800.0 L800.1,797.9 L800.2,795.9 L800.2,793.8 L800.3,791.8 L800.4,789.8 L800.4,787.8 L800.5,785.8 L800.6,783.8 L800.6,781.8 L800.7,779.9 L800.8,777.9 L800.9,775.6 L801.0,773.3 L801.1,771.0 L801.2,768.7 L801.3,766.5 L801.5,764.3 L801.6,762.1 L801.8,760.0 L802.0,758.0 L802.2,755.6 L802.5,753.2 L802.8,751.0 L803.1,748.8 L803.5,746.8 L804.0,745.0 L804.9,742.5 L805.9,740.3 L807.0,739.3 L808.6,740.9 L810.0,744.0 L810.6,745.7 L811.1,747.6 L811.5,749.7 L811.9,752.0 L812.2,754.3 L812.5,756.7 L812.7,758.6 L812.9,760.5 L813.0,762.6 L813.1,764.7 L813.2,766.8 L813.3,769.0 L813.4,771.2 L813.5,773.4 L813.5,775.7 L813.6,777.9 L813.7,779.8 L813.7,781.7 L813.8,783.7 L813.8,785.6 L813.9,787.6 L813.9,789.5 L813.9,791.5 L814.0,793.6 L814.0,795.6 L814.0,797.7 L814.1,799.9 L814.1,802.1 L814.2,804.4 L814.3,806.2 L814.3,808.0 L814.4,809.9 L814.4,811.8 L814.5,813.7 L814.6,815.6 L814.6,817.6 L814.7,819.6 L814.8,821.6 L814.8,823.6 L814.9,825.7 L815.0,827.7 L815.1,829.8 L815.1,832.0 L815.2,834.1 L815.3,836.3 L815.3,838.5 L815.4,840.8 L815.4,843.0 L815.5,845.3 L815.6,847.7 L815.6,850.0 L815.6,851.8 L815.7,853.5 L815.7,855.3 L815.7,857.1 L815.7,859.0 L815.8,860.8 L815.8,862.7 L815.8,864.6 L815.8,866.5 L815.9,868.4 L815.9,870.3 L815.9,872.2 L815.9,874.2 L815.9,876.2 L815.9,878.1 L815.9,880.1 L816.0,882.1 L816.0,884.2 L816.0,886.2 L816.0,888.3 L816.0,890.3 L816.0,892.4 L816.0,894.5 L816.0,896.6 L816.0,898.7 L816.1,900.8 L816.1,902.9 L816.1,905.0 L816.1,907.2 L816.1,909.3 L816.1,911.5 L816.1,913.6 L816.1,915.8 L816.1,918.0 L816.1,920.2 L816.2,922.4 L816.2,924.6 L816.2,926.8 L816.2,929.0 L816.2,930.8 L816.2,932.7 L816.2,934.6 L816.2,936.5 L816.3,938.4 L816.3,940.4 L816.3,942.3 L816.3,944.3 L816.3,946.3 L816.3,948.3 L816.3,950.3 L816.3,952.4 L816.4,954.4 L816.4,956.5 L816.4,958.5 L816.4,960.6 L816.4,962.7 L816.4,964.8 L816.4,966.9 L816.4,969.0 L816.4,971.1 L816.5,973.3 L816.5,975.4 L816.5,977.5 L816.5,979.7 L816.5,981.8 L816.5,983.9 L816.5,986.1 L816.5,988.2 L816.6,990.3 L816.6,992.5 L816.6,994.6 L816.6,996.7 L816.6,998.8 L816.6,1000.9 L816.6,1003.0 L816.6,1005.1 L816.6,1007.2 L816.7,1009.3 L816.7,1011.4 L816.7,1013.4 L816.7,1015.5 L816.7,1017.5 L816.7,1019.5 L816.7,1021.5 L816.7,1023.5 L816.8,1025.4 L816.8,1027.4 L816.8,1029.3 L816.8,1031.2 L816.8,1033.1 L816.8,1035.0 L816.8,1036.8 L816.9,1038.7 L816.9,1040.5 L816.9,1042.2 L816.9,1044.0 L816.9,1046.3 L816.9,1048.5 L817.0,1050.8 L817.0,1053.0 L817.0,1055.3 L817.0,1057.5 L817.0,1059.7 L817.0,1061.9 L817.0,1064.1 L817.1,1066.2 L817.1,1068.4 L817.1,1070.5 L817.1,1072.6 L817.1,1074.7 L817.1,1076.8 L817.2,1078.9 L817.2,1080.9 L817.2,1082.9 L817.2,1084.9 L817.2,1086.9 L817.3,1088.8 L817.3,1090.8 L817.3,1092.7 L817.3,1094.5 L817.3,1096.4 L817.4,1098.2 L817.4,1100.0 L817.4,1101.7 L817.5,1103.4 L817.5,1105.1 L817.5,1106.8 L817.6,1108.4 L817.6,1110.0 L817.7,1112.5 L817.7,1114.9 L817.8,1117.2 L817.9,1119.4 L818.0,1121.5 L818.0,1123.6 L818.1,1125.6 L818.2,1127.6 L818.3,1129.6 L818.4,1131.6 L818.5,1133.6 L818.6,1135.6 L818.7,1137.7 L818.8,1139.8 L818.9,1142.0 L819.0,1144.2 L819.2,1146.4 L819.3,1148.6 L819.4,1150.8 L819.6,1153.0 L819.7,1155.2 L819.8,1157.3 L820.0,1159.4 L820.1,1161.4 L820.3,1163.4 L820.4,1165.3 L820.6,1167.6 L820.8,1169.9 L821.0,1172.0 L821.2,1174.1 L821.4,1176.2 L821.6,1178.2 L821.8,1180.1 L822.0,1182.0 L822.3,1184.4 L822.6,1186.7 L822.9,1188.9 L823.3,1191.0 L823.7,1193.0 L824.3,1195.5 L825.0,1197.8 L826.0,1199.5 L827.8,1200.7 L830.5,1201.3 L831.6,1201.5 L832.9,1201.6 L834.4,1201.8 L835.9,1201.9 L837.7,1201.9 L839.5,1202.0 L841.5,1202.0 L843.5,1202.0 L845.7,1202.0 L847.9,1202.0 L850.2,1202.0 L852.6,1202.0 L855.0,1202.0 L857.5,1201.9 L859.9,1201.9 L862.5,1201.9 L865.0,1201.9 L867.5,1201.9 L870.0,1201.9 L871.6,1201.9 L873.2,1201.9 L874.8,1201.9 L876.5,1202.0 L878.2,1202.0 L879.8,1202.0 L881.5,1202.0 L883.2,1202.0 L885.0,1202.0 L886.7,1202.0 L888.5,1202.0 L890.3,1202.1 L892.0,1202.1 L893.9,1202.1 L895.7,1202.1 L897.5,1202.1 L899.4,1202.1 L901.3,1202.1 L903.2,1202.1 L905.1,1202.1 L907.1,1202.1 L909.0,1202.1 L911.0,1202.2 L913.0,1202.2 L915.0,1202.2 L917.1,1202.2 L919.1,1202.2 L921.2,1202.2 L923.3,1202.2 L925.4,1202.2 L927.6,1202.2 L929.8,1202.2 L931.9,1202.2 L934.2,1202.2 L936.4,1202.2 L938.6,1202.2 L940.9,1202.2 L943.2,1202.3 L945.6,1202.3 L947.9,1202.3 L950.3,1202.3 L952.7,1202.3 L955.1,1202.3 L957.5,1202.3 L960.0,1202.3 L961.5,1202.3 L963.1,1202.3 L964.6,1202.3 L966.2,1202.3 L967.8,1202.3 L969.4,1202.3 L971.1,1202.3 L972.7,1202.3 L974.4,1202.3 L976.1,1202.3 L977.8,1202.3 L979.5,1202.3 L981.2,1202.3 L983.0,1202.4 L984.7,1202.4 L986.5,1202.4 L988.3,1202.4 L990.1,1202.4 L991.9,1202.4 L993.7,1202.4 L995.6,1202.4 L997.4,1202.4 L999.3,1202.4 L1001.2,1202.4 L1003.1,1202.4 L1005.0,1202.4 L1006.9,1202.4 L1008.8,1202.4 L1010.7,1202.4 L1012.7,1202.4 L1014.7,1202.4 L1016.6,1202.4 L1018.6,1202.4 L1020.6,1202.4 L1022.6,1202.4 L1024.6,1202.4 L1026.6,1202.4 L1028.6,1202.4 L1030.7,1202.4 L1032.7,1202.4 L1034.8,1202.4 L1036.8,1202.4 L1038.9,1202.4 L1041.0,1202.4 L1043.1,1202.4 L1045.2,1202.4 L1047.2,1202.4 L1049.3,1202.4 L1051.5,1202.5 L1053.6,1202.5 L1055.7,1202.5 L1057.8,1202.5 L1059.9,1202.5 L1062.1,1202.5 L1064.2,1202.5 L1066.3,1202.5 L1068.5,1202.5 L1070.6,1202.5 L1072.8,1202.5 L1074.9,1202.5 L1077.1,1202.5 L1079.3,1202.5 L1081.4,1202.5 L1083.6,1202.5 L1085.8,1202.5 L1087.9,1202.5 L1090.1,1202.5 L1092.3,1202.5 L1094.4,1202.5 L1096.6,1202.5 L1098.8,1202.5 L1100.9,1202.5 L1103.1,1202.5 L1105.3,1202.5 L1107.5,1202.5 L1109.6,1202.5 L1111.8,1202.5 L1114.0,1202.5 L1116.1,1202.5 L1118.3,1202.5 L1120.4,1202.5 L1122.6,1202.5 L1124.7,1202.5 L1126.9,1202.5 L1129.0,1202.5 L1131.2,1202.5 L1133.3,1202.5 L1135.5,1202.5 L1137.6,1202.5 L1139.7,1202.5 L1141.8,1202.5 L1144.0,1202.5 L1146.1,1202.5 L1148.2,1202.5 L1150.3,1202.5 L1152.4,1202.5 L1154.4,1202.5 L1156.5,1202.5 L1158.6,1202.5 L1160.7,1202.5 L1162.7,1202.5 L1164.8,1202.5 L1166.8,1202.5 L1168.8,1202.5 L1170.9,1202.5 L1172.9,1202.5 L1174.9,1202.5 L1176.9,1202.5 L1178.9,1202.5 L1180.8,1202.5 L1182.8,1202.5 L1184.8,1202.5 L1186.7,1202.5 L1188.6,1202.5 L1190.6,1202.5 L1192.5,1202.5 L1194.4,1202.5 L1196.3,1202.5 L1198.1,1202.5 L1200.0,1202.5 L1202.1,1202.5 L1204.3,1202.5 L1206.4,1202.5 L1208.6,1202.5 L1210.7,1202.5 L1212.9,1202.5 L1215.1,1202.5 L1217.2,1202.5 L1219.4,1202.5 L1221.5,1202.5 L1223.7,1202.5 L1225.8,1202.5 L1228.0,1202.5 L1230.2,1202.5 L1232.3,1202.5 L1234.5,1202.5 L1236.6,1202.5 L1238.8,1202.5 L1241.0,1202.5 L1243.1,1202.5 L1245.3,1202.5 L1247.4,1202.5 L1249.6,1202.5 L1251.7,1202.5 L1253.9,1202.5 L1256.0,1202.5 L1258.2,1202.5 L1260.3,1202.5 L1262.4,1202.5 L1264.6,1202.5 L1266.7,1202.5 L1268.8,1202.5 L1271.0,1202.5 L1273.1,1202.5 L1275.2,1202.5 L1277.3,1202.5 L1279.4,1202.5 L1281.5,1202.5 L1283.6,1202.5 L1285.7,1202.5 L1287.8,1202.5 L1289.9,1202.5 L1292.0,1202.5 L1294.0,1202.5 L1296.1,1202.5 L1298.2,1202.5 L1300.2,1202.5 L1302.3,1202.5 L1304.3,1202.5 L1306.4,1202.5 L1308.4,1202.5 L1310.4,1202.5 L1312.4,1202.4 L1314.4,1202.4 L1316.4,1202.4 L1318.4,1202.4 L1320.4,1202.4 L1322.4,1202.4 L1324.3,1202.4 L1326.3,1202.4 L1328.2,1202.4 L1330.2,1202.4 L1332.1,1202.4 L1334.0,1202.4 L1335.9,1202.4 L1337.8,1202.4 L1339.7,1202.4 L1341.6,1202.4 L1343.5,1202.4 L1345.3,1202.4 L1347.2,1202.4 L1349.0,1202.4 L1350.8,1202.4 L1352.7,1202.3 L1354.5,1202.3 L1356.3,1202.3 L1358.0,1202.3 L1359.8,1202.3 L1361.6,1202.3 L1363.3,1202.3 L1365.0,1202.3 L1366.7,1202.3 L1368.5,1202.3 L1370.1,1202.3 L1371.8,1202.3 L1373.5,1202.2 L1375.1,1202.2 L1376.8,1202.2 L1378.4,1202.2 L1380.0,1202.2 L1382.4,1202.2 L1384.7,1202.2 L1387.1,1202.1 L1389.4,1202.1 L1391.6,1202.1 L1393.9,1202.1 L1396.1,1202.1 L1398.3,1202.0 L1400.5,1202.0 L1402.6,1202.0 L1404.7,1202.0 L1406.8,1201.9 L1408.9,1201.9 L1411.0,1201.9 L1413.0,1201.9 L1415.0,1201.8 L1417.0,1201.8 L1419.0,1201.8 L1421.0,1201.7 L1422.9,1201.7 L1424.9,1201.7 L1426.8,1201.7 L1428.7,1201.6 L1430.6,1201.6 L1432.5,1201.6 L1434.4,1201.6 L1436.2,1201.5 L1438.1,1201.5 L1440.0,1201.5 L1441.8,1201.4 L1443.6,1201.4 L1445.5,1201.4 L1447.3,1201.4 L1449.1,1201.3 L1450.9,1201.3 L1452.7,1201.3 L1454.6,1201.3 L1456.4,1201.2 L1458.2,1201.2 L1460.0,1201.2 L1462.2,1201.2 L1464.4,1201.2 L1466.6,1201.1 L1468.7,1201.1 L1470.8,1201.1 L1472.9,1201.1 L1475.0,1201.1 L1477.0,1201.0 L1479.1,1201.0 L1481.1,1201.0 L1483.1,1201.0 L1485.1,1201.0 L1487.1,1201.0 L1489.1,1201.0 L1491.1,1200.9 L1493.1,1200.9 L1495.0,1200.9 L1497.0,1200.9 L1499.0,1200.9 L1501.0,1200.8 L1502.9,1200.8 L1504.9,1200.8 L1506.9,1200.8 L1508.9,1200.7 L1510.9,1200.7 L1513.0,1200.6 L1515.0,1200.6 L1517.0,1200.6 L1519.0,1200.5 L1521.0,1200.5 L1523.1,1200.4 L1525.1,1200.4 L1527.2,1200.3 L1529.2,1200.2 L1531.3,1200.2 L1533.4,1200.1 L1535.4,1200.1 L1537.5,1200.0 L1539.6,1199.9 L1541.6,1199.9 L1543.7,1199.8 L1545.7,1199.7 L1547.8,1199.7 L1549.8,1199.6 L1551.8,1199.5 L1553.8,1199.5 L1555.8,1199.4 L1557.8,1199.3 L1559.8,1199.2 L1561.7,1199.2 L1563.6,1199.1 L1565.5,1199.0 L1567.4,1198.9 L1569.2,1198.9 L1571.0,1198.8 L1573.2,1198.7 L1575.4,1198.6 L1577.6,1198.5 L1579.7,1198.4 L1581.8,1198.3 L1583.9,1198.2 L1586.0,1198.1 L1588.0,1198.0 L1590.0,1197.9 L1592.0,1197.8 L1594.0,1197.6 L1596.0,1197.5 L1598.0,1197.4 L1600.0,1197.3 L1602.0,1197.3 L1604.0,1197.2 L1606.0,1197.1 L1608.0,1197.0 L1610.0,1196.9 L1612.0,1196.9 L1614.0,1196.8 L1616.0,1196.7 L1618.0,1196.6 L1620.0,1196.6 L1622.0,1196.5 L1624.0,1196.4 L1626.0,1196.4 L1628.0,1196.3 L1630.0,1196.3 L1632.0,1196.2 L1634.0,1196.2 L1636.0,1196.2 L1638.0,1196.1 L1640.0,1196.1 L1642.0,1196.1 L1644.0,1196.1 L1646.0,1196.1 L1648.1,1196.1 L1650.1,1196.1 L1652.2,1196.2 L1654.2,1196.2 L1656.3,1196.2 L1658.4,1196.3 L1660.4,1196.3 L1662.5,1196.4 L1664.5,1196.4 L1666.6,1196.5 L1668.7,1196.6 L1670.7,1196.6 L1672.8,1196.7 L1674.8,1196.8 L1676.9,1196.9 L1678.9,1197.0 L1681.0,1197.1 L1683.1,1197.2 L1685.1,1197.3 L1687.1,1197.5 L1689.2,1197.6 L1691.2,1197.7 L1693.2,1197.9 L1695.3,1198.1 L1697.3,1198.2 L1699.4,1198.4 L1701.4,1198.6 L1703.4,1198.7 L1705.5,1198.9 L1707.6,1199.1 L1709.6,1199.2 L1711.7,1199.4 L1713.8,1199.5 L1715.9,1199.7 L1718.0,1199.8 L1719.9,1199.9 L1721.8,1200.0 L1723.7,1200.1 L1725.6,1200.3 L1727.5,1200.4 L1729.3,1200.5 L1731.2,1200.6 L1733.1,1200.7 L1735.0,1200.8 L1736.9,1200.9 L1738.8,1201.0 L1740.7,1201.1 L1742.7,1201.2 L1744.7,1201.3 L1746.8,1201.3 L1748.8,1201.4 L1751.0,1201.5 L1753.1,1201.6 L1755.4,1201.7 L1757.7,1201.7 L1760.0,1201.8 L1761.6,1201.8 L1763.3,1201.9 L1765.0,1201.9 L1766.7,1202.0 L1768.5,1202.0 L1770.3,1202.0 L1772.1,1202.1 L1773.9,1202.1 L1775.8,1202.1 L1777.7,1202.2 L1779.6,1202.2 L1781.5,1202.2 L1783.5,1202.2 L1785.4,1202.3 L1787.4,1202.3 L1789.4,1202.3 L1791.4,1202.3 L1793.4,1202.3 L1795.5,1202.3 L1797.5,1202.4 L1799.6,1202.4 L1801.7,1202.4 L1803.8,1202.4 L1805.9,1202.4 L1808.0,1202.4 L1810.1,1202.4 L1812.2,1202.4 L1814.3,1202.4 L1816.4,1202.5 L1818.6,1202.5 L1820.7,1202.5 L1822.8,1202.5 L1824.9,1202.5 L1827.1,1202.5 L1829.2,1202.5 L1831.3,1202.5 L1833.4,1202.5 L1835.5,1202.5 L1837.6,1202.5 L1839.7,1202.5 L1841.8,1202.6 L1843.9,1202.6 L1845.9,1202.6 L1848.0,1202.6 L1850.0,1202.6 L1852.0,1202.6 L1854.0,1202.6 L1856.0,1202.6 L1858.0,1202.6 L1860.0,1202.7 L1862.0,1202.7 L1864.0,1202.7 L1866.0,1202.7 L1868.0,1202.7 L1870.0,1202.7 L1872.1,1202.7 L1874.1,1202.7 L1876.1,1202.7 L1878.1,1202.7 L1880.1,1202.7 L1882.2,1202.7 L1884.2,1202.7 L1886.2,1202.8 L1888.2,1202.8 L1890.2,1202.8 L1892.3,1202.8 L1894.3,1202.8 L1896.3,1202.8 L1898.4,1202.8 L1900.4,1202.8 L1902.4,1202.8 L1904.4,1202.8 L1906.5,1202.8 L1908.5,1202.8 L1910.5,1202.8 L1912.6,1202.8 L1914.6,1202.8 L1916.6,1202.8 L1918.7,1202.8 L1920.7,1202.8 L1922.7,1202.8 L1924.7,1202.8 L1926.8,1202.9 L1928.8,1202.9 L1930.8,1202.9 L1932.9,1202.9 L1934.9,1202.9 L1936.9,1202.9 L1938.9,1202.9 L1941.0,1202.9 L1943.0,1202.9 L1945.0,1202.9" stroke="#000" stroke-width="5.2" fill="none" stroke-linejoin="round" stroke-linecap="butt"/>
<path d="M301.4,1857.2 L303.5,1856.9 L305.6,1856.5 L307.7,1856.1 L309.8,1855.7 L311.9,1855.3 L314.0,1854.9 L316.1,1854.5 L318.2,1854.2 L320.4,1853.8 L322.6,1853.6 L324.8,1853.4 L327.0,1853.2 L328.9,1853.1 L330.8,1853.1 L332.8,1853.1 L334.7,1853.1 L336.7,1853.2 L338.7,1853.3 L340.7,1853.4 L342.8,1853.5 L344.8,1853.6 L346.8,1853.8 L348.9,1854.0 L350.9,1854.1 L353.0,1854.3 L355.0,1854.5 L357.0,1854.6 L359.0,1854.8 L361.0,1855.0 L363.0,1855.1 L365.0,1855.3 L367.0,1855.5 L369.0,1855.7 L371.0,1855.9 L373.0,1856.1 L375.0,1856.3 L377.0,1856.5 L379.0,1856.7 L381.0,1856.9 L383.0,1857.2 L385.0,1857.4 L387.0,1857.6 L389.0,1857.8 L391.0,1858.0 L393.0,1858.2 L395.0,1858.4 L397.0,1858.6 L399.0,1858.9 L401.0,1859.1 L403.0,1859.3 L405.0,1859.6 L406.9,1859.8 L408.9,1860.0 L410.9,1860.2 L412.9,1860.4 L414.9,1860.6 L416.9,1860.8 L418.9,1860.9 L420.9,1861.1 L422.9,1861.2 L424.9,1861.3 L426.9,1861.4 L428.9,1861.4 L430.9,1861.5 L432.9,1861.5 L434.9,1861.5 L436.9,1861.5 L438.9,1861.5 L440.9,1861.5 L442.9,1861.5 L444.9,1861.5 L446.9,1861.5 L448.9,1861.5 L450.9,1861.4 L452.9,1861.4 L454.9,1861.4 L456.9,1861.4 L458.9,1861.4 L460.9,1861.3 L462.9,1861.3 L464.9,1861.3 L466.9,1861.2 L468.9,1861.2 L470.9,1861.1 L472.9,1861.1 L474.9,1861.0 L476.9,1861.0 L478.9,1860.9 L480.9,1860.9 L482.9,1860.8 L484.9,1860.8 L486.9,1860.7 L488.9,1860.6 L490.9,1860.6 L492.9,1860.5 L494.9,1860.4 L496.8,1860.4 L498.8,1860.3 L500.8,1860.2 L502.8,1860.2 L504.8,1860.1 L506.8,1860.0 L508.8,1859.9 L510.8,1859.9 L512.8,1859.8 L514.8,1859.7 L516.8,1859.7 L518.9,1859.6 L520.9,1859.5 L522.8,1859.5 L524.8,1859.4 L526.8,1859.4 L528.8,1859.3 L530.8,1859.3 L532.8,1859.2 L534.8,1859.2 L536.8,1859.2 L538.9,1859.1 L540.9,1859.1 L542.9,1859.0 L544.9,1858.9 L547.0,1858.9 L549.0,1858.8 L551.0,1858.8 L553.0,1858.7 L555.0,1858.6 L557.1,1858.5 L559.1,1858.4 L561.1,1858.3 L563.1,1858.2 L565.1,1858.1 L567.1,1858.0 L569.1,1857.9 L571.1,1857.8 L573.1,1857.7 L575.2,1857.6 L577.2,1857.5 L579.3,1857.4 L581.4,1857.2 L583.5,1857.1 L585.7,1856.9 L587.9,1856.8 L590.2,1856.6 L592.0,1856.5 L593.9,1856.3 L595.8,1856.2 L597.7,1856.0 L599.7,1855.8 L601.7,1855.7 L603.7,1855.5 L605.7,1855.3 L607.7,1855.1 L609.8,1855.0 L611.9,1854.8 L614.0,1854.6 L616.1,1854.4 L618.2,1854.2 L620.3,1854.0 L622.4,1853.8 L624.6,1853.6 L626.7,1853.3 L628.8,1853.1 L630.9,1852.9 L633.1,1852.7 L635.2,1852.5 L637.3,1852.3 L639.4,1852.1 L641.5,1851.8 L643.5,1851.6 L645.6,1851.4 L647.7,1851.2 L649.7,1850.9 L651.8,1850.7 L653.9,1850.5 L656.0,1850.2 L658.1,1849.9 L660.2,1849.7 L662.3,1849.4 L664.5,1849.1 L666.6,1848.9 L668.7,1848.6 L670.8,1848.3 L672.9,1848.0 L675.0,1847.8 L677.1,1847.5 L679.2,1847.2 L681.2,1847.0 L683.3,1846.7 L685.3,1846.5 L687.4,1846.2 L689.4,1846.0 L691.3,1845.8 L693.3,1845.5 L695.2,1845.3 L697.2,1845.1 L699.0,1845.0 L700.9,1844.8 L703.1,1844.6 L705.3,1844.4 L707.5,1844.2 L709.7,1844.1 L711.8,1843.9 L713.9,1843.8 L716.0,1843.6 L718.0,1843.5 L720.1,1843.3 L722.1,1843.2 L724.1,1843.1 L726.1,1843.0 L728.1,1843.0 L730.0,1842.9 L732.0,1842.9 L733.9,1842.8 L735.9,1842.8 L737.8,1842.8 L740.0,1842.8 L742.1,1842.8 L744.2,1842.9 L746.3,1843.0 L748.3,1843.0 L750.4,1843.1 L752.4,1843.3 L754.4,1843.4 L756.5,1843.6 L758.5,1843.7 L760.7,1843.9 L762.8,1844.1 L765.0,1844.4 L767.3,1844.6 L769.1,1844.8 L771.0,1845.1 L772.9,1845.3 L774.9,1845.6 L776.9,1845.9 L778.9,1846.2 L780.9,1846.6 L782.9,1846.9 L785.0,1847.3 L787.1,1847.6 L789.1,1848.0 L791.2,1848.4 L793.3,1848.8 L795.4,1849.1 L797.5,1849.5 L799.6,1849.8 L801.6,1850.2 L803.7,1850.5 L805.7,1850.8 L807.7,1851.2 L809.7,1851.4 L811.6,1851.7 L813.7,1852.0 L815.8,1852.2 L817.9,1852.5 L819.9,1852.8 L822.0,1853.0 L824.0,1853.3 L826.0,1853.5 L828.0,1853.7 L830.0,1853.9 L832.0,1854.1 L834.0,1854.3 L836.0,1854.5 L838.0,1854.7 L840.1,1854.9 L842.1,1855.0 L844.2,1855.1 L846.3,1855.3 L848.5,1855.4 L850.4,1855.5 L852.3,1855.6 L854.2,1855.6 L856.1,1855.7 L857.9,1855.7 L859.8,1855.7 L861.7,1855.8 L863.6,1855.8 L865.5,1855.8 L867.5,1855.8 L869.4,1855.8 L871.4,1855.7 L873.3,1855.7 L875.3,1855.7 L877.4,1855.7 L879.4,1855.7 L881.5,1855.6 L883.7,1855.6 L885.9,1855.6 L888.1,1855.6 L890.3,1855.6 L892.6,1855.6 L895.0,1855.6 L896.7,1855.6 L898.4,1855.6 L900.2,1855.6 L902.0,1855.6 L903.8,1855.7 L905.6,1855.7 L907.5,1855.7 L909.4,1855.7 L911.4,1855.7 L913.3,1855.7 L915.3,1855.7 L917.3,1855.7 L919.3,1855.8 L921.4,1855.8 L923.4,1855.8 L925.5,1855.8 L927.6,1855.8 L929.7,1855.8 L931.8,1855.9 L934.0,1855.9 L936.1,1855.9 L938.3,1855.9 L940.4,1855.9 L942.6,1855.9 L944.7,1856.0 L946.9,1856.0 L949.1,1856.0 L951.2,1856.0 L953.4,1856.0 L955.6,1856.0 L957.7,1856.0 L959.9,1856.1 L962.0,1856.1 L964.2,1856.1 L966.3,1856.1 L968.4,1856.1 L970.5,1856.1 L972.6,1856.1 L974.7,1856.1 L976.8,1856.1 L978.8,1856.1 L980.9,1856.1 L982.9,1856.1 L984.9,1856.1 L986.8,1856.1 L988.8,1856.1 L990.7,1856.1 L992.9,1856.1 L995.1,1856.1 L997.3,1856.1 L999.5,1856.1 L1001.7,1856.1 L1003.8,1856.1 L1006.0,1856.1 L1008.2,1856.1 L1010.4,1856.1 L1012.6,1856.1 L1014.8,1856.1 L1017.0,1856.1 L1019.1,1856.1 L1021.3,1856.1 L1023.4,1856.1 L1025.6,1856.1 L1027.7,1856.1 L1029.8,1856.1 L1031.9,1856.1 L1034.0,1856.0 L1036.0,1856.0 L1038.1,1856.0 L1040.1,1856.0 L1042.1,1856.0 L1044.1,1855.9 L1046.1,1855.9 L1048.1,1855.8 L1050.0,1855.8 L1051.9,1855.7 L1053.8,1855.7 L1055.6,1855.6 L1057.5,1855.6 L1059.3,1855.5 L1061.0,1855.4 L1062.8,1855.3 L1064.5,1855.2 L1066.9,1855.0 L1069.2,1854.9 L1071.4,1854.7 L1073.6,1854.5 L1075.7,1854.2 L1077.7,1854.0 L1079.8,1853.8 L1081.8,1853.5 L1083.7,1853.3 L1085.7,1853.0 L1087.6,1852.8 L1089.6,1852.5 L1091.5,1852.3 L1093.4,1852.0 L1095.4,1851.8 L1097.4,1851.6 L1099.4,1851.4 L1101.4,1851.2 L1103.4,1851.0 L1105.4,1850.9 L1107.4,1850.7 L1109.4,1850.6 L1111.3,1850.4 L1113.2,1850.3 L1115.2,1850.1 L1117.1,1850.0 L1119.1,1849.9 L1121.0,1849.8 L1123.0,1849.6 L1125.1,1849.5 L1127.1,1849.4 L1129.2,1849.3 L1131.4,1849.2 L1133.6,1849.2 L1135.9,1849.1 L1138.3,1849.0 L1140.0,1849.0 L1141.8,1848.9 L1143.6,1848.9 L1145.5,1848.8 L1147.5,1848.8 L1149.4,1848.8 L1151.4,1848.7 L1153.5,1848.7 L1155.6,1848.7 L1157.7,1848.7 L1159.8,1848.6 L1162.0,1848.6 L1164.1,1848.6 L1166.3,1848.6 L1168.5,1848.6 L1170.8,1848.6 L1173.0,1848.6 L1175.2,1848.6 L1177.4,1848.6 L1179.6,1848.6 L1181.9,1848.6 L1184.1,1848.6 L1186.3,1848.7 L1188.4,1848.7 L1190.6,1848.7 L1192.7,1848.7 L1194.8,1848.7 L1196.9,1848.8 L1199.0,1848.8 L1201.0,1848.8 L1202.9,1848.8 L1204.9,1848.9 L1206.8,1848.9 L1208.6,1848.9 L1210.4,1849.0 L1212.1,1849.0 L1214.4,1849.1 L1216.7,1849.1 L1218.8,1849.2 L1220.9,1849.3 L1222.9,1849.4 L1224.9,1849.5 L1226.8,1849.6 L1228.7,1849.8 L1230.6,1849.9 L1232.4,1850.0 L1234.3,1850.1 L1236.2,1850.2 L1238.2,1850.3 L1240.2,1850.4 L1242.3,1850.5 L1244.4,1850.5 L1246.7,1850.6 L1249.0,1850.6 L1250.7,1850.6 L1252.5,1850.6 L1254.3,1850.6 L1256.2,1850.6 L1258.2,1850.6 L1260.1,1850.6 L1262.1,1850.6 L1264.2,1850.5 L1266.3,1850.5 L1268.4,1850.5 L1270.5,1850.4 L1272.7,1850.4 L1274.8,1850.3 L1277.0,1850.3 L1279.2,1850.2 L1281.5,1850.2 L1283.7,1850.1 L1285.9,1850.1 L1288.1,1850.0 L1290.3,1849.9 L1292.6,1849.9 L1294.8,1849.8 L1297.0,1849.7 L1299.1,1849.6 L1301.3,1849.6 L1303.4,1849.5 L1305.5,1849.4 L1307.6,1849.3 L1309.7,1849.3 L1311.7,1849.2 L1313.6,1849.1 L1315.6,1849.0 L1317.5,1848.9 L1319.3,1848.9 L1321.1,1848.8 L1322.8,1848.7 L1325.2,1848.6 L1327.4,1848.5 L1329.6,1848.3 L1331.7,1848.2 L1333.8,1848.1 L1335.8,1847.9 L1337.7,1847.8 L1339.7,1847.7 L1341.6,1847.5 L1343.5,1847.4 L1345.4,1847.2 L1347.3,1847.1 L1349.3,1846.9 L1351.2,1846.8 L1353.3,1846.7 L1355.3,1846.5 L1357.5,1846.4 L1359.7,1846.3 L1361.6,1846.2 L1363.5,1846.1 L1365.4,1846.0 L1367.4,1846.0 L1369.4,1845.9 L1371.5,1845.8 L1373.5,1845.8 L1375.6,1845.7 L1377.7,1845.7 L1379.8,1845.6 L1382.0,1845.6 L1384.1,1845.5 L1386.3,1845.4 L1388.4,1845.4 L1390.6,1845.3 L1392.7,1845.3 L1394.9,1845.2 L1397.0,1845.1 L1399.1,1845.1 L1401.2,1845.0 L1403.2,1844.9 L1405.3,1844.8 L1407.3,1844.7 L1409.3,1844.6 L1411.2,1844.5 L1413.1,1844.4 L1415.0,1844.3 L1417.2,1844.1 L1419.5,1844.0 L1421.7,1843.8 L1423.8,1843.5 L1426.0,1843.3 L1428.1,1843.1 L1430.2,1842.9 L1432.2,1842.6 L1434.3,1842.4 L1436.3,1842.1 L1438.3,1841.9 L1440.3,1841.7 L1442.3,1841.4 L1444.3,1841.2 L1446.2,1841.0 L1448.2,1840.8 L1450.1,1840.7 L1452.0,1840.5 L1454.1,1840.3 L1456.2,1840.2 L1458.2,1840.1 L1460.1,1840.0 L1462.1,1839.9 L1464.0,1839.8 L1465.9,1839.7 L1467.8,1839.6 L1469.8,1839.5 L1471.7,1839.4 L1473.7,1839.3 L1475.7,1839.2 L1477.8,1839.1 L1480.0,1839.0 L1481.9,1838.9 L1483.8,1838.8 L1485.7,1838.7 L1487.7,1838.6 L1489.6,1838.5 L1491.6,1838.4 L1493.6,1838.2 L1495.6,1838.1 L1497.7,1838.0 L1499.8,1837.9 L1501.8,1837.8 L1503.9,1837.6 L1506.1,1837.5 L1508.2,1837.3 L1510.4,1837.1 L1512.6,1836.9 L1514.8,1836.7 L1517.0,1836.5 L1519.2,1836.3 L1521.5,1836.0 L1523.3,1835.8 L1525.1,1835.5 L1527.0,1835.3 L1528.9,1835.0 L1530.8,1834.8 L1532.7,1834.5 L1534.6,1834.2 L1536.5,1833.9 L1538.5,1833.6 L1540.5,1833.3 L1542.5,1833.0 L1544.5,1832.6 L1546.5,1832.3 L1548.5,1832.0 L1550.5,1831.6 L1552.6,1831.3 L1554.6,1830.9 L1556.6,1830.5 L1558.7,1830.2 L1560.7,1829.8 L1562.8,1829.4 L1564.8,1829.0 L1566.9,1828.7 L1568.9,1828.3 L1570.9,1827.9 L1573.0,1827.5 L1575.0,1827.1 L1577.0,1826.7 L1579.0,1826.3 L1581.0,1825.9 L1583.0,1825.5 L1585.0,1825.1 L1587.0,1824.7 L1589.0,1824.3 L1591.0,1823.9 L1593.0,1823.4 L1595.0,1823.0 L1597.0,1822.6 L1599.0,1822.1 L1601.0,1821.7 L1603.0,1821.2 L1605.0,1820.8 L1607.0,1820.3 L1609.0,1819.9 L1611.0,1819.4 L1613.0,1819.0 L1615.0,1818.5 L1617.0,1818.0 L1619.0,1817.5 L1621.0,1817.1 L1622.9,1816.6 L1624.9,1816.1 L1626.9,1815.6 L1628.9,1815.2 L1630.9,1814.7 L1632.8,1814.2 L1634.8,1813.7 L1636.7,1813.2 L1638.7,1812.7 L1640.6,1812.3 L1642.6,1811.8 L1644.5,1811.3 L1646.5,1810.8 L1648.6,1810.3 L1650.7,1809.8 L1652.7,1809.2 L1654.8,1808.7 L1656.9,1808.2 L1659.0,1807.6 L1661.0,1807.1 L1663.1,1806.6 L1665.2,1806.0 L1667.3,1805.5 L1669.3,1804.9 L1671.4,1804.4 L1673.4,1803.8 L1675.4,1803.3 L1677.5,1802.8 L1679.5,1802.2 L1681.4,1801.7 L1683.4,1801.1 L1685.4,1800.6 L1687.3,1800.1 L1689.2,1799.5 L1691.1,1799.0 L1692.9,1798.5 L1694.7,1797.9 L1696.5,1797.4 L1698.3,1796.9 L1700.0,1796.4 L1702.2,1795.7 L1704.4,1795.1 L1706.6,1794.4 L1708.6,1793.7 L1710.7,1793.1 L1712.7,1792.4 L1714.6,1791.8 L1716.6,1791.1 L1718.5,1790.5 L1720.4,1789.9 L1722.3,1789.2 L1724.2,1788.6 L1726.1,1787.9 L1728.1,1787.3 L1730.0,1786.6 L1732.0,1786.0 L1734.0,1785.3 L1736.0,1784.7 L1738.1,1784.0 L1740.1,1783.4 L1742.2,1782.7 L1744.2,1782.1 L1746.3,1781.4 L1748.3,1780.8 L1750.3,1780.1 L1752.3,1779.5 L1754.4,1778.8 L1756.3,1778.2 L1758.3,1777.5 L1760.2,1776.9 L1762.1,1776.2 L1764.0,1775.6 L1766.1,1774.8 L1768.3,1774.0 L1770.4,1773.2 L1772.4,1772.4 L1774.5,1771.5 L1776.5,1770.7 L1778.5,1769.9 L1780.5,1769.1 L1782.4,1768.4 L1784.3,1767.8 L1786.2,1767.3 L1788.0,1766.8 L1790.4,1766.3 L1792.8,1766.0 L1795.2,1765.7 L1797.4,1765.6 L1799.6,1765.5 L1801.8,1765.5 L1803.9,1765.5 L1806.3,1765.5 L1808.5,1765.6 L1810.7,1765.8 L1812.9,1766.2 L1815.1,1766.8 L1816.9,1767.5 L1818.7,1768.3 L1820.6,1769.3 L1822.4,1770.3 L1824.2,1771.5 L1826.0,1772.7 L1827.9,1774.0 L1829.5,1775.1 L1831.1,1776.3 L1832.7,1777.6 L1834.3,1779.0 L1835.9,1780.3 L1837.5,1781.8 L1839.1,1783.2 L1840.7,1784.7 L1842.3,1786.1 L1843.9,1787.6 L1845.4,1789.0 L1846.8,1790.4 L1848.3,1791.8 L1849.8,1793.3 L1851.2,1794.8 L1852.6,1796.3 L1854.1,1797.7 L1855.5,1799.2 L1857.0,1800.7 L1858.4,1802.2 L1859.9,1803.6 L1861.3,1805.0 L1862.8,1806.4 L1864.2,1807.8 L1865.7,1809.2 L1867.1,1810.6 L1868.6,1812.0 L1870.1,1813.3 L1871.5,1814.7 L1873.0,1816.1 L1874.4,1817.4 L1875.9,1818.8 L1877.5,1820.3 L1879.1,1821.7 L1880.7,1823.1 L1882.3,1824.6 L1883.9,1826.0 L1885.5,1827.4 L1887.1,1828.8 L1888.7,1830.2 L1890.3,1831.7 L1891.9,1833.1 L1893.5,1834.6 L1895.1,1836.0 L1896.7,1837.5 L1898.2,1839.1 L1899.8,1840.6 L1901.4,1842.0 L1903.0,1843.5 L1904.6,1844.9 L1906.3,1846.2 L1907.9,1847.5 L1909.6,1848.7 L1911.3,1849.9 L1913.1,1851.1 L1914.8,1852.2 L1916.5,1853.2 L1918.3,1854.2 L1920.1,1855.2 L1922.0,1856.2 L1923.9,1857.1 L1925.8,1857.9 L1927.7,1858.7 L1929.7,1859.5 L1931.7,1860.2 L1933.8,1860.9 L1935.8,1861.6 L1937.9,1862.2 L1939.9,1862.9 L1942.0,1863.6 L1944.0,1864.3" stroke="#f00" stroke-width="6.4" fill="none" stroke-linejoin="round" stroke-linecap="butt"/>
<path d="M302.4,2540.0 L304.4,2539.9 L306.4,2539.8 L308.5,2539.8 L310.5,2539.7 L312.5,2539.6 L314.5,2539.5 L316.5,2539.5 L318.5,2539.4 L320.5,2539.3 L322.6,2539.2 L324.6,2539.1 L326.6,2539.0 L328.6,2539.0 L330.6,2538.9 L332.6,2538.8 L334.6,2538.7 L336.6,2538.6 L338.6,2538.5 L340.6,2538.5 L342.6,2538.4 L344.7,2538.3 L346.7,2538.2 L348.7,2538.1 L350.7,2538.1 L352.7,2538.0 L354.7,2537.9 L356.7,2537.8 L358.8,2537.7 L360.8,2537.7 L362.8,2537.6 L364.8,2537.5 L366.8,2537.4 L368.9,2537.4 L370.9,2537.3 L372.9,2537.2 L375.0,2537.2 L377.0,2537.1 L379.0,2537.0 L381.1,2537.0 L383.1,2536.9 L385.2,2536.8 L387.2,2536.8 L389.3,2536.7 L391.3,2536.7 L393.4,2536.6 L395.4,2536.5 L397.3,2536.5 L399.3,2536.5 L401.3,2536.4 L403.3,2536.4 L405.3,2536.3 L407.3,2536.3 L409.2,2536.2 L411.2,2536.2 L413.2,2536.2 L415.2,2536.1 L417.2,2536.1 L419.2,2536.0 L421.2,2536.0 L423.2,2536.0 L425.2,2535.9 L427.3,2535.9 L429.3,2535.9 L431.3,2535.8 L433.3,2535.8 L435.3,2535.8 L437.3,2535.8 L439.3,2535.7 L441.3,2535.7 L443.4,2535.7 L445.4,2535.6 L447.4,2535.6 L449.4,2535.6 L451.4,2535.6 L453.5,2535.5 L455.5,2535.5 L457.5,2535.5 L459.5,2535.5 L461.6,2535.5 L463.6,2535.4 L465.6,2535.4 L467.6,2535.4 L469.6,2535.4 L471.7,2535.3 L473.7,2535.3 L475.7,2535.3 L477.7,2535.3 L479.7,2535.2 L481.7,2535.2 L483.8,2535.2 L485.8,2535.2 L487.8,2535.2 L489.8,2535.1 L491.8,2535.1 L493.8,2535.1 L495.8,2535.0 L497.8,2535.0 L499.8,2535.0 L501.8,2535.0 L503.8,2534.9 L505.9,2534.9 L507.9,2534.9 L509.9,2534.8 L511.9,2534.8 L513.9,2534.8 L515.9,2534.7 L517.9,2534.7 L519.9,2534.7 L521.9,2534.6 L523.9,2534.6 L525.9,2534.6 L527.9,2534.5 L530.0,2534.5 L532.0,2534.5 L534.0,2534.5 L536.0,2534.4 L538.0,2534.4 L540.0,2534.4 L542.0,2534.3 L544.0,2534.3 L546.0,2534.3 L548.0,2534.3 L550.0,2534.2 L552.0,2534.2 L554.1,2534.2 L556.1,2534.2 L558.1,2534.1 L560.1,2534.1 L562.1,2534.1 L564.1,2534.1 L566.1,2534.1 L568.1,2534.1 L570.1,2534.1 L572.1,2534.1 L574.1,2534.1 L576.1,2534.1 L578.2,2534.1 L580.2,2534.1 L582.2,2534.1 L584.2,2534.1 L586.2,2534.1 L588.2,2534.1 L590.2,2534.1 L592.2,2534.1 L594.2,2534.1 L596.2,2534.2 L598.2,2534.2 L600.2,2534.2 L602.2,2534.3 L604.3,2534.3 L606.3,2534.3 L608.3,2534.4 L610.3,2534.4 L612.3,2534.5 L614.3,2534.5 L616.3,2534.6 L618.3,2534.6 L620.3,2534.7 L622.3,2534.7 L624.3,2534.8 L626.3,2534.8 L628.4,2534.9 L630.4,2534.9 L632.4,2535.0 L634.4,2535.1 L636.4,2535.1 L638.4,2535.2 L640.4,2535.3 L642.4,2535.3 L644.4,2535.4 L646.4,2535.4 L648.4,2535.5 L650.4,2535.6 L652.5,2535.6 L654.5,2535.7 L656.5,2535.8 L658.5,2535.8 L660.5,2535.9 L662.5,2536.0 L664.5,2536.0 L666.5,2536.1 L668.5,2536.1 L670.5,2536.2 L672.5,2536.2 L674.5,2536.3 L676.6,2536.3 L678.6,2536.4 L680.6,2536.4 L682.6,2536.5 L684.6,2536.5 L686.6,2536.6 L688.6,2536.6 L690.6,2536.6 L692.6,2536.7 L694.7,2536.7 L696.7,2536.7 L698.8,2536.8 L700.9,2536.8 L703.0,2536.9 L705.0,2536.9 L707.1,2536.9 L709.2,2537.0 L711.3,2537.0 L713.5,2537.1 L715.6,2537.1 L717.7,2537.1 L719.8,2537.2 L721.9,2537.2 L724.1,2537.3 L726.2,2537.3 L728.3,2537.3 L730.4,2537.4 L732.5,2537.4 L734.7,2537.4 L736.8,2537.5 L738.9,2537.5 L741.0,2537.5 L743.0,2537.6 L745.1,2537.6 L747.2,2537.6 L749.3,2537.6 L751.3,2537.7 L753.3,2537.7 L755.4,2537.7 L757.4,2537.7 L759.4,2537.7 L761.3,2537.7 L763.3,2537.8 L765.3,2537.8 L767.2,2537.8 L769.1,2537.8 L771.0,2537.8 L772.9,2537.8 L774.7,2537.7 L776.5,2537.7 L778.3,2537.7 L780.1,2537.7 L781.9,2537.7 L783.6,2537.7 L785.3,2537.6 L787.0,2537.6 L789.4,2537.5 L791.6,2537.5 L793.8,2537.4 L796.0,2537.3 L798.1,2537.2 L800.1,2537.1 L802.1,2537.0 L804.0,2536.9 L805.9,2536.8 L807.8,2536.7 L809.7,2536.6 L811.6,2536.5 L813.5,2536.3 L815.4,2536.2 L817.3,2536.1 L819.2,2536.0 L821.1,2535.8 L823.1,2535.7 L825.1,2535.6 L827.2,2535.5 L829.4,2535.4 L831.6,2535.3 L833.8,2535.2 L836.2,2535.1 L837.9,2535.0 L839.6,2535.0 L841.3,2534.9 L843.1,2534.9 L844.9,2534.8 L846.7,2534.8 L848.6,2534.7 L850.5,2534.6 L852.4,2534.6 L854.3,2534.5 L856.3,2534.5 L858.2,2534.4 L860.2,2534.4 L862.2,2534.3 L864.3,2534.3 L866.3,2534.2 L868.4,2534.2 L870.4,2534.1 L872.5,2534.1 L874.6,2534.0 L876.7,2534.0 L878.8,2533.9 L880.9,2533.9 L883.0,2533.8 L885.2,2533.8 L887.3,2533.8 L889.4,2533.7 L891.6,2533.7 L893.7,2533.6 L895.8,2533.6 L898.0,2533.6 L900.1,2533.5 L902.2,2533.5 L904.3,2533.5 L906.5,2533.5 L908.6,2533.4 L910.7,2533.4 L912.7,2533.4 L914.8,2533.4 L916.9,2533.4 L918.9,2533.3 L920.9,2533.3 L922.9,2533.3 L924.9,2533.3 L926.9,2533.3 L928.9,2533.3 L930.8,2533.3 L932.7,2533.3 L934.6,2533.3 L936.8,2533.3 L938.9,2533.3 L941.1,2533.3 L943.2,2533.4 L945.3,2533.4 L947.4,2533.4 L949.5,2533.4 L951.6,2533.5 L953.7,2533.5 L955.8,2533.6 L957.8,2533.6 L959.9,2533.6 L961.9,2533.7 L964.0,2533.7 L966.0,2533.8 L968.1,2533.9 L970.1,2533.9 L972.1,2534.0 L974.1,2534.0 L976.1,2534.1 L978.1,2534.1 L980.1,2534.2 L982.1,2534.3 L984.1,2534.3 L986.1,2534.4 L988.1,2534.4 L990.1,2534.5 L992.1,2534.6 L994.1,2534.6 L996.1,2534.7 L998.0,2534.7 L1000.0,2534.8 L1002.0,2534.8 L1004.0,2534.9 L1006.0,2534.9 L1008.0,2535.0 L1010.0,2535.0 L1012.0,2535.0 L1014.1,2535.1 L1016.1,2535.1 L1018.1,2535.2 L1020.1,2535.2 L1022.1,2535.3 L1024.1,2535.3 L1026.1,2535.3 L1028.1,2535.4 L1030.1,2535.4 L1032.1,2535.5 L1034.1,2535.5 L1036.1,2535.6 L1038.1,2535.6 L1040.1,2535.7 L1042.1,2535.7 L1044.1,2535.8 L1046.0,2535.8 L1048.0,2535.8 L1050.0,2535.9 L1052.0,2535.9 L1054.0,2535.9 L1056.0,2536.0 L1058.0,2536.0 L1059.9,2536.0 L1061.9,2536.0 L1063.9,2536.0 L1065.9,2536.1 L1067.9,2536.1 L1069.9,2536.1 L1071.9,2536.1 L1073.9,2536.1 L1076.0,2536.0 L1078.0,2536.0 L1080.0,2536.0 L1082.0,2536.0 L1084.1,2535.9 L1086.1,2535.9 L1088.1,2535.8 L1090.2,2535.8 L1092.2,2535.7 L1094.2,2535.7 L1096.3,2535.6 L1098.3,2535.5 L1100.4,2535.5 L1102.4,2535.4 L1104.5,2535.3 L1106.5,2535.2 L1108.6,2535.1 L1110.6,2535.0 L1112.7,2534.9 L1114.7,2534.8 L1116.8,2534.7 L1118.8,2534.6 L1120.9,2534.5 L1123.0,2534.4 L1125.0,2534.3 L1127.1,2534.2 L1129.1,2534.1 L1131.2,2534.0 L1133.2,2533.9 L1135.3,2533.8 L1137.4,2533.7 L1139.4,2533.6 L1141.5,2533.5 L1143.5,2533.4 L1145.6,2533.3 L1147.6,2533.2 L1149.7,2533.2 L1151.7,2533.1 L1153.8,2533.0 L1155.8,2532.9 L1157.9,2532.8 L1159.9,2532.8 L1162.0,2532.7 L1164.0,2532.6 L1166.1,2532.5 L1168.1,2532.5 L1170.2,2532.4 L1172.2,2532.3 L1174.3,2532.2 L1176.3,2532.2 L1178.4,2532.1 L1180.4,2532.0 L1182.5,2532.0 L1184.5,2531.9 L1186.6,2531.8 L1188.6,2531.7 L1190.7,2531.7 L1192.7,2531.6 L1194.8,2531.5 L1196.8,2531.5 L1198.9,2531.4 L1200.9,2531.3 L1203.0,2531.3 L1205.0,2531.2 L1207.1,2531.1 L1209.1,2531.0 L1211.2,2531.0 L1213.2,2530.9 L1215.3,2530.8 L1217.3,2530.8 L1219.4,2530.7 L1221.4,2530.6 L1223.5,2530.5 L1225.5,2530.5 L1227.6,2530.4 L1229.6,2530.3 L1231.7,2530.3 L1233.7,2530.2 L1235.8,2530.1 L1237.8,2530.0 L1239.9,2529.9 L1241.9,2529.9 L1244.0,2529.8 L1246.0,2529.7 L1248.1,2529.6 L1250.1,2529.5 L1252.2,2529.5 L1254.2,2529.4 L1256.3,2529.3 L1258.3,2529.2 L1260.4,2529.1 L1262.4,2529.1 L1264.5,2529.0 L1266.5,2528.9 L1268.6,2528.8 L1270.6,2528.7 L1272.7,2528.7 L1274.7,2528.6 L1276.8,2528.5 L1278.8,2528.5 L1280.9,2528.4 L1282.9,2528.3 L1285.0,2528.3 L1287.0,2528.2 L1289.1,2528.1 L1291.1,2528.1 L1293.2,2528.0 L1295.2,2528.0 L1297.3,2527.9 L1299.3,2527.8 L1301.4,2527.8 L1303.4,2527.8 L1305.5,2527.7 L1307.5,2527.7 L1309.6,2527.6 L1311.6,2527.6 L1313.7,2527.6 L1315.7,2527.6 L1317.8,2527.5 L1319.8,2527.5 L1321.9,2527.5 L1323.9,2527.5 L1326.0,2527.4 L1328.0,2527.4 L1330.1,2527.4 L1332.1,2527.4 L1334.2,2527.4 L1336.2,2527.4 L1338.3,2527.4 L1340.3,2527.4 L1342.4,2527.3 L1344.4,2527.3 L1346.5,2527.3 L1348.5,2527.3 L1350.6,2527.3 L1352.6,2527.3 L1354.7,2527.3 L1356.7,2527.3 L1358.8,2527.3 L1360.8,2527.2 L1362.9,2527.2 L1365.0,2527.2 L1367.0,2527.2 L1369.1,2527.2 L1371.1,2527.2 L1373.2,2527.1 L1375.2,2527.1 L1377.3,2527.1 L1379.3,2527.0 L1381.4,2527.0 L1383.4,2527.0 L1385.5,2526.9 L1387.5,2526.9 L1389.6,2526.9 L1391.6,2526.8 L1393.7,2526.8 L1395.7,2526.7 L1397.8,2526.7 L1399.8,2526.7 L1401.9,2526.6 L1403.9,2526.6 L1406.0,2526.5 L1408.0,2526.5 L1410.0,2526.4 L1412.1,2526.4 L1414.1,2526.4 L1416.2,2526.3 L1418.2,2526.3 L1420.3,2526.2 L1422.3,2526.2 L1424.4,2526.1 L1426.4,2526.1 L1428.5,2526.1 L1430.5,2526.0 L1432.6,2526.0 L1434.6,2526.0 L1436.7,2525.9 L1438.7,2525.9 L1440.8,2525.9 L1442.8,2525.9 L1444.9,2525.8 L1446.9,2525.8 L1449.0,2525.8 L1451.0,2525.8 L1453.1,2525.8 L1455.1,2525.8 L1457.2,2525.8 L1459.2,2525.8 L1461.3,2525.8 L1463.3,2525.8 L1465.4,2525.8 L1467.4,2525.8 L1469.5,2525.8 L1471.5,2525.8 L1473.5,2525.8 L1475.6,2525.8 L1477.6,2525.8 L1479.7,2525.9 L1481.7,2525.9 L1483.8,2525.9 L1485.8,2525.9 L1487.8,2525.9 L1489.9,2525.9 L1491.9,2526.0 L1494.0,2526.0 L1496.0,2526.0 L1498.1,2526.0 L1500.1,2526.0 L1502.2,2526.0 L1504.2,2526.0 L1506.3,2526.0 L1508.3,2526.0 L1510.4,2526.0 L1512.5,2526.0 L1514.5,2526.0 L1516.6,2526.0 L1518.7,2526.0 L1520.7,2526.0 L1522.8,2526.0 L1524.8,2526.0 L1526.9,2526.0 L1528.9,2526.0 L1531.0,2525.9 L1533.0,2525.9 L1535.1,2525.9 L1537.2,2525.9 L1539.3,2525.9 L1541.4,2525.9 L1543.5,2525.9 L1545.7,2525.9 L1547.8,2525.9 L1549.9,2525.9 L1552.0,2525.8 L1554.2,2525.8 L1556.3,2525.8 L1558.4,2525.8 L1560.5,2525.8 L1562.6,2525.7 L1564.7,2525.7 L1566.8,2525.7 L1568.9,2525.7 L1571.0,2525.6 L1573.1,2525.6 L1575.1,2525.5 L1577.2,2525.5 L1579.2,2525.4 L1581.2,2525.4 L1583.2,2525.3 L1585.1,2525.3 L1587.1,2525.2 L1589.0,2525.1 L1590.9,2525.0 L1592.8,2524.9 L1594.6,2524.8 L1596.4,2524.7 L1598.2,2524.6 L1600.0,2524.5 L1602.3,2524.3 L1604.5,2524.2 L1606.7,2524.0 L1608.9,2523.8 L1611.0,2523.6 L1613.2,2523.3 L1615.2,2523.1 L1617.3,2522.9 L1619.3,2522.6 L1621.3,2522.4 L1623.3,2522.2 L1625.3,2521.9 L1627.3,2521.6 L1629.2,2521.4 L1631.1,2521.1 L1633.0,2520.8 L1634.9,2520.6 L1636.8,2520.3 L1638.7,2520.0 L1640.6,2519.7 L1642.4,2519.5 L1644.3,2519.2 L1646.5,2518.9 L1648.7,2518.6 L1650.9,2518.3 L1653.0,2518.0 L1655.1,2517.6 L1657.2,2517.3 L1659.3,2517.0 L1661.4,2516.7 L1663.4,2516.4 L1665.5,2516.0 L1667.5,2515.7 L1669.5,2515.3 L1671.5,2514.9 L1673.5,2514.5 L1675.5,2514.1 L1677.5,2513.6 L1679.5,2513.1 L1681.5,2512.6 L1683.5,2512.1 L1685.4,2511.6 L1687.4,2511.1 L1689.3,2510.5 L1691.2,2509.9 L1693.1,2509.3 L1695.0,2508.7 L1696.9,2508.1 L1698.8,2507.5 L1700.7,2506.8 L1702.6,2506.2 L1704.4,2505.5 L1706.3,2504.8 L1708.3,2504.1 L1710.2,2503.3 L1712.1,2502.6 L1714.1,2501.8 L1716.0,2501.0 L1717.9,2500.2 L1719.8,2499.4 L1721.7,2498.5 L1723.5,2497.7 L1725.4,2496.7 L1727.3,2495.8 L1729.1,2494.8 L1731.0,2493.7 L1732.8,2492.6 L1734.5,2491.5 L1736.1,2490.4 L1737.8,2489.3 L1739.4,2488.1 L1741.0,2486.9 L1742.7,2485.6 L1744.3,2484.3 L1745.9,2483.0 L1747.5,2481.7 L1749.1,2480.3 L1750.7,2478.9 L1752.3,2477.5 L1753.9,2476.1 L1755.4,2474.7 L1757.0,2473.3 L1758.5,2471.8 L1760.0,2470.4 L1761.4,2469.0 L1762.9,2467.6 L1764.3,2466.2 L1765.7,2464.8 L1767.1,2463.3 L1768.5,2461.8 L1769.9,2460.4 L1771.2,2458.9 L1772.6,2457.4 L1773.9,2455.9 L1775.3,2454.3 L1776.6,2452.8 L1778.0,2451.2 L1779.3,2449.7 L1780.6,2448.1 L1781.9,2446.5 L1783.3,2444.9 L1784.6,2443.3 L1785.9,2441.7 L1787.2,2440.1 L1788.5,2438.5 L1789.8,2436.8 L1791.1,2435.1 L1792.4,2433.4 L1793.7,2431.6 L1795.0,2429.9 L1796.3,2428.2 L1797.6,2426.4 L1798.8,2424.7 L1800.1,2422.9 L1801.3,2421.2 L1802.5,2419.5 L1803.7,2417.9 L1804.9,2416.2 L1806.0,2414.6 L1807.1,2413.1 L1808.2,2411.6 L1809.2,2410.1 L1810.5,2408.2 L1811.7,2406.4 L1812.9,2404.7 L1814.0,2402.9 L1815.1,2401.3 L1816.1,2399.6 L1817.2,2398.0 L1818.2,2396.4 L1819.3,2394.8 L1820.4,2393.3 L1821.5,2391.7 L1822.8,2389.9 L1824.1,2388.2 L1825.5,2386.4 L1826.8,2384.7 L1828.2,2383.0 L1829.5,2381.4 L1830.9,2379.8 L1832.4,2378.3 L1833.8,2376.9 L1835.5,2375.4 L1837.2,2374.0 L1838.9,2372.7 L1840.7,2371.5 L1842.4,2370.4 L1844.3,2369.3 L1846.1,2368.3 L1848.0,2367.4 L1849.9,2366.4 L1851.8,2365.6 L1853.8,2364.8 L1855.8,2364.2 L1857.7,2363.7 L1859.6,2363.4 L1861.9,2363.3 L1864.1,2363.5 L1866.3,2363.9 L1868.5,2364.5 L1870.7,2365.2 L1872.5,2365.9 L1874.3,2366.6 L1876.1,2367.5 L1877.8,2368.4 L1879.6,2369.5 L1881.3,2370.7 L1883.0,2372.0 L1884.5,2373.3 L1885.9,2374.7 L1887.3,2376.2 L1888.7,2377.8 L1890.0,2379.5 L1891.4,2381.3 L1892.7,2383.0 L1894.0,2384.9 L1895.3,2386.7 L1896.4,2388.3 L1897.4,2389.9 L1898.5,2391.6 L1899.5,2393.4 L1900.5,2395.2 L1901.5,2397.0 L1902.5,2398.8 L1903.5,2400.6 L1904.5,2402.4 L1905.6,2404.2 L1906.6,2406.0 L1907.6,2407.7 L1908.7,2409.5 L1909.8,2411.3 L1910.9,2413.1 L1912.0,2414.9 L1913.2,2416.7 L1914.3,2418.5 L1915.4,2420.3 L1916.5,2422.0 L1917.6,2423.8 L1918.8,2425.5 L1919.9,2427.3 L1921.0,2429.0 L1922.1,2430.7 L1923.3,2432.4 L1924.4,2434.0 L1925.5,2435.7 L1926.6,2437.3 L1927.8,2439.0 L1928.9,2440.7 L1930.0,2442.4 L1931.1,2444.1 L1932.2,2445.8 L1933.2,2447.5 L1934.3,2449.2 L1935.3,2450.9 L1936.3,2452.6 L1937.4,2454.4 L1938.4,2456.1 L1939.4,2457.9 L1940.4,2459.7 L1941.4,2461.4 L1942.5,2463.2 L1943.5,2465.0 L1944.5,2466.7" stroke="#00f" stroke-width="6.4" fill="none" stroke-linejoin="round" stroke-linecap="butt"/>
</svg>
</body></html>
